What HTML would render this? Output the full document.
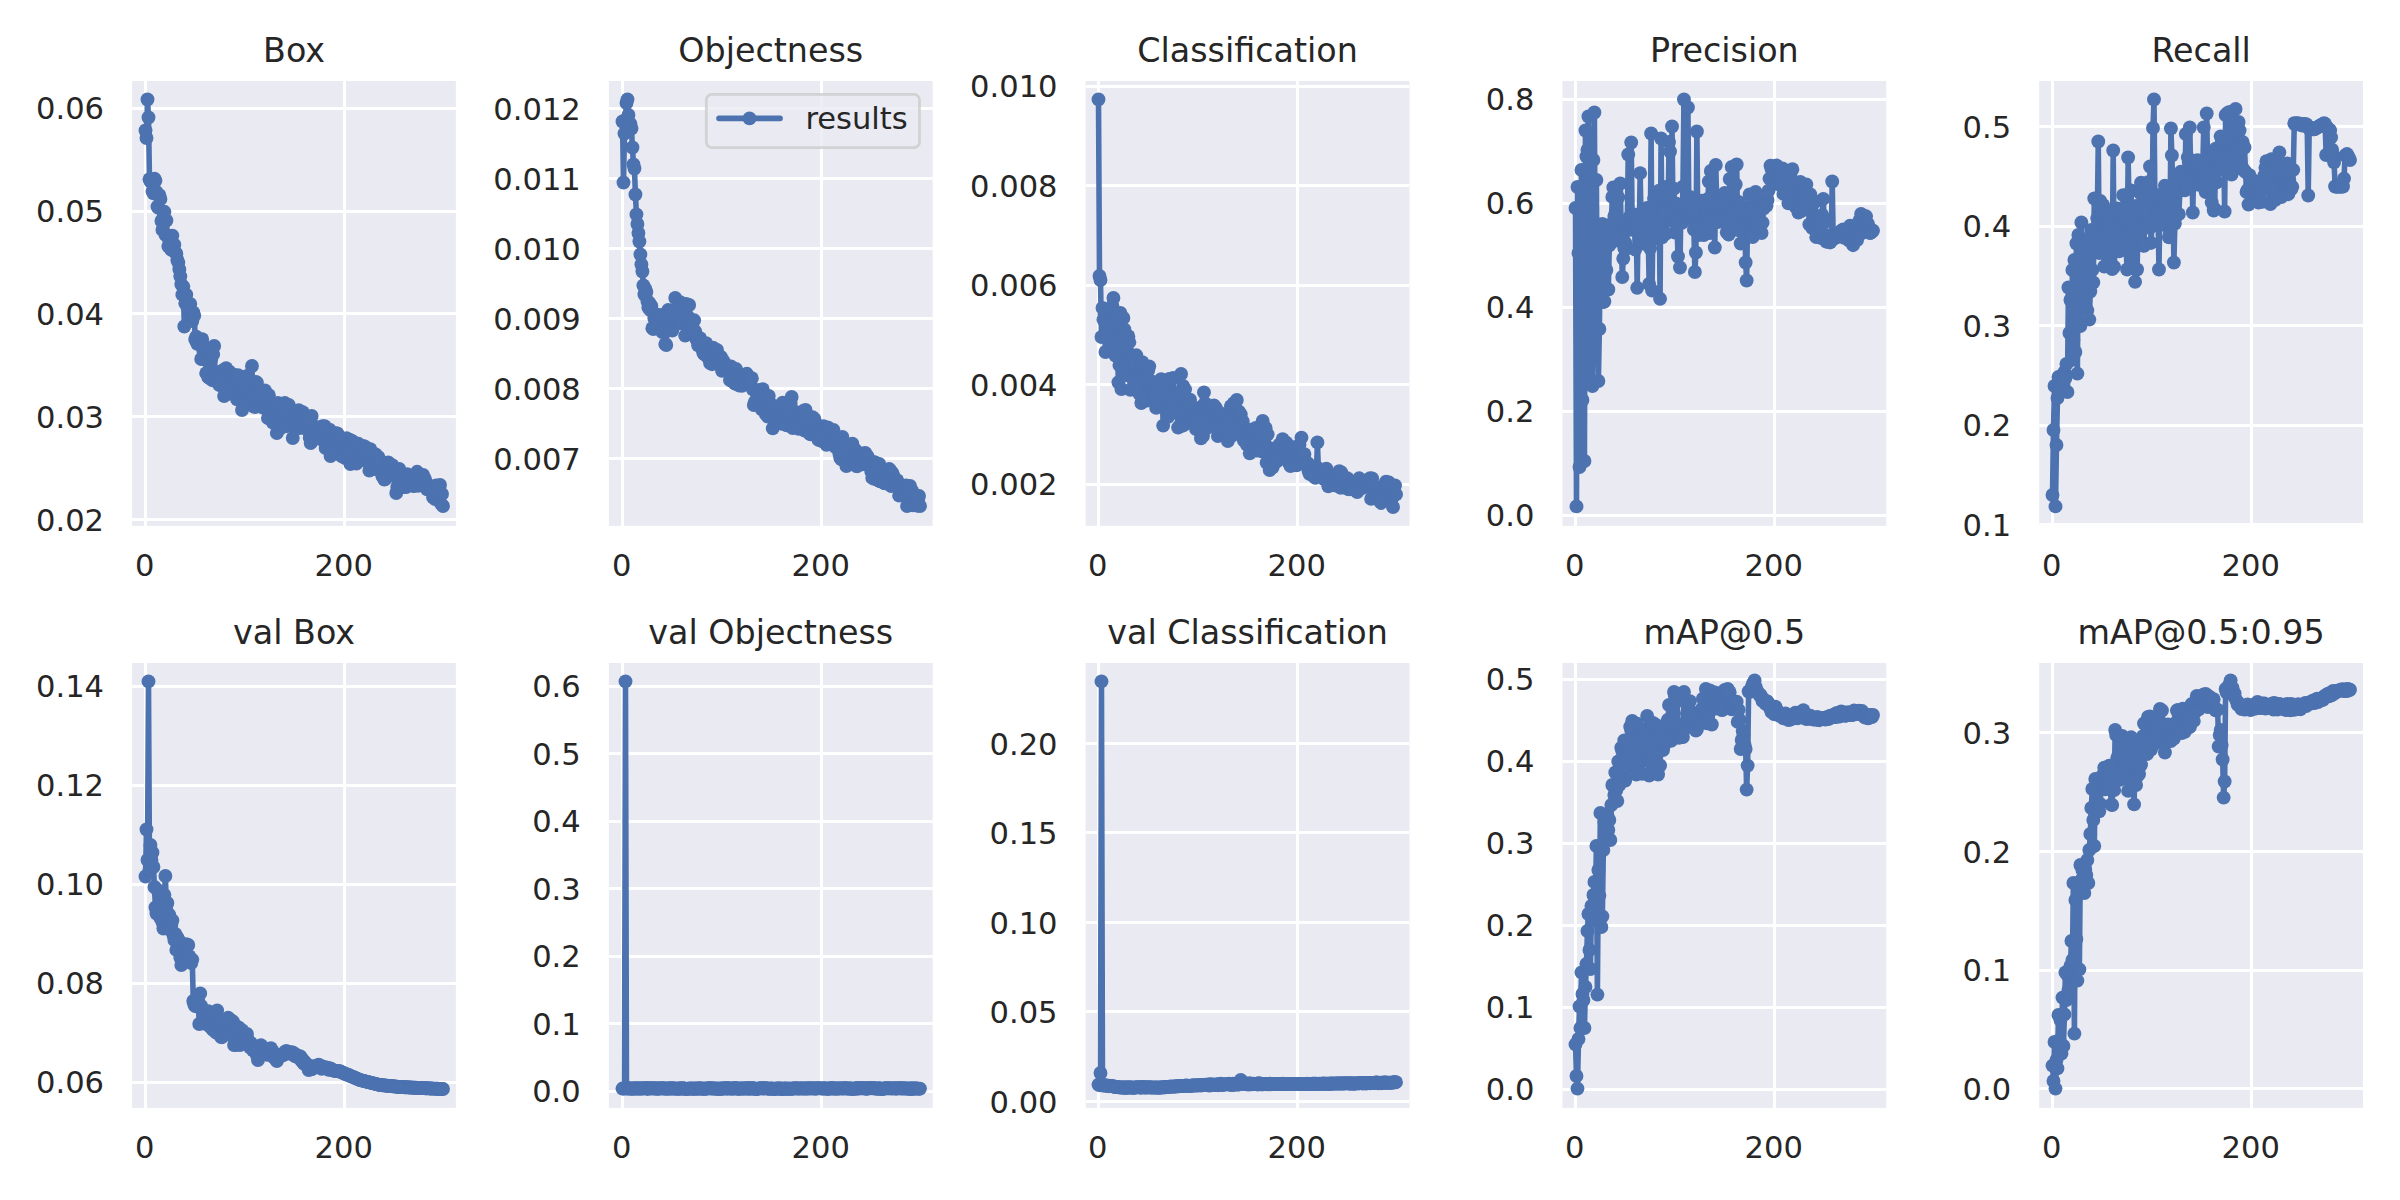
<!DOCTYPE html>
<html lang="en">
<head>
<meta charset="utf-8">
<title>results</title>
<style>
html,body{margin:0;padding:0;background:#ffffff;}
body{width:2400px;height:1200px;overflow:hidden;font-family:"DejaVu Sans","Liberation Sans",sans-serif;}
svg{display:block;}
</style>
</head>
<body>
<svg width="2400" height="1200" viewBox="0 0 2400 1200">
<rect width="2400" height="1200" fill="#ffffff"/>
<defs>
<clipPath id="c0"><rect x="132.1" y="81" width="323.8" height="444.9"/></clipPath>
<clipPath id="c1"><rect x="608.88" y="81" width="323.8" height="444.9"/></clipPath>
<clipPath id="c2"><rect x="1085.66" y="81" width="323.8" height="444.9"/></clipPath>
<clipPath id="c3"><rect x="1562.44" y="81" width="323.8" height="444.9"/></clipPath>
<clipPath id="c4"><rect x="2039.22" y="81" width="323.8" height="444.9"/></clipPath>
<clipPath id="c5"><rect x="132.1" y="663" width="323.8" height="444.9"/></clipPath>
<clipPath id="c6"><rect x="608.88" y="663" width="323.8" height="444.9"/></clipPath>
<clipPath id="c7"><rect x="1085.66" y="663" width="323.8" height="444.9"/></clipPath>
<clipPath id="c8"><rect x="1562.44" y="663" width="323.8" height="444.9"/></clipPath>
<clipPath id="c9"><rect x="2039.22" y="663" width="323.8" height="444.9"/></clipPath>
</defs>
<g>
<rect x="132.1" y="81" width="323.8" height="444.9" fill="#eaeaf2"/>
<g stroke="#ffffff" stroke-width="3" shape-rendering="crispEdges" clip-path="url(#c0)">
<line x1="145.5" y1="81" x2="145.5" y2="525.9"/>
<line x1="344.5" y1="81" x2="344.5" y2="525.9"/>
<line x1="132.1" y1="108.5" x2="455.9" y2="108.5"/>
<line x1="132.1" y1="211.5" x2="455.9" y2="211.5"/>
<line x1="132.1" y1="313.5" x2="455.9" y2="313.5"/>
<line x1="132.1" y1="416.5" x2="455.9" y2="416.5"/>
<line x1="132.1" y1="519.5" x2="455.9" y2="519.5"/>
</g>
<g font-family="'DejaVu Sans', 'Liberation Sans', sans-serif" font-size="30.56px" fill="#262626">
<text x="144.7" y="575.9" text-anchor="middle">0</text>
<text x="343.7" y="575.9" text-anchor="middle">200</text>
<text x="104" y="119" text-anchor="end">0.06</text>
<text x="104" y="222" text-anchor="end">0.05</text>
<text x="104" y="325" text-anchor="end">0.04</text>
<text x="104" y="428" text-anchor="end">0.03</text>
<text x="104" y="531" text-anchor="end">0.02</text>
</g>
<text x="294" y="61.8" text-anchor="middle" font-family="'DejaVu Sans', 'Liberation Sans', sans-serif" font-size="33.33px" fill="#262626">Box</text>
<g clip-path="url(#c0)">
<polyline fill="none" stroke="#4c72b0" stroke-width="5.56" stroke-linejoin="round" stroke-linecap="round" points="145.5,130.5 146.5,138 147.49,99.5 148.49,117.5 149.48,179.26 150.47,181.31 151.47,181.72 152.47,191.04 153.46,193.43 154.46,178.59 155.45,180.77 156.44,192 157.44,206.6 158.44,207.83 159.43,195.07 160.43,199 161.42,220.97 162.41,229.95 163.41,217.09 164.41,211.8 165.4,234.81 166.4,220.52 167.39,235.33 168.38,246.36 169.38,241.33 170.38,237.89 171.37,249.94 172.37,235.6 173.36,245.34 174.35,244.66 175.35,252.45 176.34,253.68 177.34,260.01 178.34,262.58 179.33,269.38 180.32,276.35 181.32,284.29 182.31,294.64 183.31,286.62 184.31,326.5 185.3,303.25 186.3,294.78 187.29,304.87 188.28,308.92 189.28,318.64 190.28,303.92 191.27,317.09 192.26,321.01 193.26,312.52 194.25,315.77 195.25,339.5 196.25,336.6 197.24,343.81 198.24,341.51 199.23,343.09 200.22,342.91 201.22,358.99 202.22,339.13 203.21,350.54 204.2,359.32 205.2,347.15 206.19,373.18 207.19,354.76 208.19,377 209.18,377.91 210.18,355.96 211.17,359.56 212.17,380.2 213.16,354.38 214.16,346 215.15,373.49 216.14,373.92 217.14,376.36 218.13,375.32 219.13,384.78 220.12,385 221.12,380.71 222.12,370.78 223.11,371.57 224.11,396 225.1,386.24 226.09,368.23 227.09,389.08 228.08,393.95 229.08,371.48 230.07,375.43 231.07,377.81 232.06,391.37 233.06,374.52 234.06,382.45 235.05,378.74 236.05,382.07 237.04,399.36 238.03,375.1 239.03,387.07 240.03,389.86 241.02,397.18 242.01,410 243.01,400.87 244,393.54 245,398.77 246,390.39 246.99,375.88 247.99,383.77 248.98,399.45 249.97,391.86 250.97,391.53 251.97,366 252.96,406.18 253.95,393.25 254.95,406.98 255.94,381.96 256.94,382.63 257.94,404.18 258.93,395.1 259.93,404.11 260.92,404.42 261.92,399.71 262.91,407.62 263.9,403.52 264.9,390.43 265.89,405.78 266.89,406.28 267.88,418.1 268.88,395.19 269.88,407.07 270.87,403.53 271.87,407.18 272.86,422.57 273.86,413.89 274.85,406.18 275.85,413.24 276.84,433 277.84,402.99 278.83,411.31 279.82,428.84 280.82,424.18 281.81,415.08 282.81,410.93 283.81,414.57 284.8,402.92 285.79,426.23 286.79,420.45 287.78,418.71 288.78,404.87 289.77,410.95 290.77,423.22 291.76,421.01 292.76,438 293.75,423.91 294.75,428.24 295.75,413.43 296.74,415.11 297.74,412.34 298.73,410.11 299.73,428.1 300.72,425.99 301.72,425.01 302.71,412.23 303.71,413.99 304.7,423.15 305.69,420.75 306.69,425.93 307.69,419.53 308.68,431.59 309.68,437.84 310.67,443 311.66,416 312.66,429.04 313.65,436.72 314.65,426.75 315.64,438.05 316.64,428.14 317.63,427.94 318.63,427.38 319.62,438.95 320.62,436.21 321.62,436.18 322.61,426.22 323.61,437.19 324.6,426.1 325.6,448.06 326.59,437.09 327.59,440.36 328.58,438.68 329.57,429.69 330.57,456 331.56,441.02 332.56,452.15 333.56,433.48 334.55,437.17 335.54,442.77 336.54,433.27 337.53,433.77 338.53,441.38 339.52,444.68 340.52,442.49 341.51,456.18 342.51,445.19 343.5,449.66 344.5,457.52 345.5,457.97 346.49,438.25 347.49,445.96 348.48,458.03 349.48,439.74 350.47,464 351.47,440.93 352.46,441.11 353.46,443.07 354.45,453.58 355.44,462.5 356.44,463.54 357.44,453.81 358.43,443.79 359.43,454.27 360.42,452.53 361.41,458.5 362.41,455.18 363.4,446.03 364.4,460.52 365.39,446.93 366.39,452.6 367.38,461.23 368.38,462.06 369.38,470.66 370.37,449.22 371.37,463.62 372.36,467.1 373.36,459.31 374.35,467.87 375.35,454.12 376.34,469.22 377.34,468.84 378.33,456.9 379.32,460.1 380.32,464.61 381.31,461.29 382.31,476.03 383.31,469.33 384.3,479.53 385.29,478.97 386.29,470.06 387.28,468.44 388.28,462.48 389.27,464.23 390.27,464.78 391.26,475.39 392.26,465.1 393.25,474.15 394.25,475.73 395.25,470.13 396.24,493 397.24,487 398.23,487 399.23,469.02 400.22,474.26 401.22,473.04 402.21,474.08 403.2,487 404.2,482.01 405.19,486.44 406.19,487 407.19,474.14 408.18,476.21 409.18,478.03 410.17,484.91 411.17,477.56 412.16,482.55 413.15,485.96 414.15,485.95 415.14,481.67 416.14,474.58 417.13,471.81 418.13,485.83 419.12,482.28 420.12,475.15 421.12,478.09 422.11,479.05 423.11,474.86 424.1,484.27 425.09,479.13 426.09,482.58 427.08,489.24 428.08,485.1 429.07,489.57 430.07,489.59 431.06,487.94 432.06,488.74 433.06,497.44 434.05,488.76 435.05,499.04 436.04,485.33 437.04,496.69 438.03,493.75 439.02,488.45 440.02,485.03 441.01,503.87 442.01,494 443,506"/>
<g fill="#4c72b0">
<circle cx="145.5" cy="130.5" r="6.94"/><circle cx="146.5" cy="138" r="6.94"/><circle cx="147.49" cy="99.5" r="6.94"/><circle cx="148.49" cy="117.5" r="6.94"/><circle cx="149.48" cy="179.26" r="6.94"/><circle cx="150.47" cy="181.31" r="6.94"/><circle cx="151.47" cy="181.72" r="6.94"/><circle cx="152.47" cy="191.04" r="6.94"/><circle cx="153.46" cy="193.43" r="6.94"/><circle cx="154.46" cy="178.59" r="6.94"/><circle cx="155.45" cy="180.77" r="6.94"/><circle cx="156.44" cy="192" r="6.94"/><circle cx="157.44" cy="206.6" r="6.94"/><circle cx="158.44" cy="207.83" r="6.94"/><circle cx="159.43" cy="195.07" r="6.94"/><circle cx="160.43" cy="199" r="6.94"/><circle cx="161.42" cy="220.97" r="6.94"/><circle cx="162.41" cy="229.95" r="6.94"/><circle cx="163.41" cy="217.09" r="6.94"/><circle cx="164.41" cy="211.8" r="6.94"/><circle cx="165.4" cy="234.81" r="6.94"/><circle cx="166.4" cy="220.52" r="6.94"/><circle cx="167.39" cy="235.33" r="6.94"/><circle cx="168.38" cy="246.36" r="6.94"/><circle cx="169.38" cy="241.33" r="6.94"/><circle cx="170.38" cy="237.89" r="6.94"/><circle cx="171.37" cy="249.94" r="6.94"/><circle cx="172.37" cy="235.6" r="6.94"/><circle cx="173.36" cy="245.34" r="6.94"/><circle cx="174.35" cy="244.66" r="6.94"/><circle cx="175.35" cy="252.45" r="6.94"/><circle cx="176.34" cy="253.68" r="6.94"/><circle cx="177.34" cy="260.01" r="6.94"/><circle cx="178.34" cy="262.58" r="6.94"/><circle cx="179.33" cy="269.38" r="6.94"/><circle cx="180.32" cy="276.35" r="6.94"/><circle cx="181.32" cy="284.29" r="6.94"/><circle cx="182.31" cy="294.64" r="6.94"/><circle cx="183.31" cy="286.62" r="6.94"/><circle cx="184.31" cy="326.5" r="6.94"/><circle cx="185.3" cy="303.25" r="6.94"/><circle cx="186.3" cy="294.78" r="6.94"/><circle cx="187.29" cy="304.87" r="6.94"/><circle cx="188.28" cy="308.92" r="6.94"/><circle cx="189.28" cy="318.64" r="6.94"/><circle cx="190.28" cy="303.92" r="6.94"/><circle cx="191.27" cy="317.09" r="6.94"/><circle cx="192.26" cy="321.01" r="6.94"/><circle cx="193.26" cy="312.52" r="6.94"/><circle cx="194.25" cy="315.77" r="6.94"/><circle cx="195.25" cy="339.5" r="6.94"/><circle cx="196.25" cy="336.6" r="6.94"/><circle cx="197.24" cy="343.81" r="6.94"/><circle cx="198.24" cy="341.51" r="6.94"/><circle cx="199.23" cy="343.09" r="6.94"/><circle cx="200.22" cy="342.91" r="6.94"/><circle cx="201.22" cy="358.99" r="6.94"/><circle cx="202.22" cy="339.13" r="6.94"/><circle cx="203.21" cy="350.54" r="6.94"/><circle cx="204.2" cy="359.32" r="6.94"/><circle cx="205.2" cy="347.15" r="6.94"/><circle cx="206.19" cy="373.18" r="6.94"/><circle cx="207.19" cy="354.76" r="6.94"/><circle cx="208.19" cy="377" r="6.94"/><circle cx="209.18" cy="377.91" r="6.94"/><circle cx="210.18" cy="355.96" r="6.94"/><circle cx="211.17" cy="359.56" r="6.94"/><circle cx="212.17" cy="380.2" r="6.94"/><circle cx="213.16" cy="354.38" r="6.94"/><circle cx="214.16" cy="346" r="6.94"/><circle cx="215.15" cy="373.49" r="6.94"/><circle cx="216.14" cy="373.92" r="6.94"/><circle cx="217.14" cy="376.36" r="6.94"/><circle cx="218.13" cy="375.32" r="6.94"/><circle cx="219.13" cy="384.78" r="6.94"/><circle cx="220.12" cy="385" r="6.94"/><circle cx="221.12" cy="380.71" r="6.94"/><circle cx="222.12" cy="370.78" r="6.94"/><circle cx="223.11" cy="371.57" r="6.94"/><circle cx="224.11" cy="396" r="6.94"/><circle cx="225.1" cy="386.24" r="6.94"/><circle cx="226.09" cy="368.23" r="6.94"/><circle cx="227.09" cy="389.08" r="6.94"/><circle cx="228.08" cy="393.95" r="6.94"/><circle cx="229.08" cy="371.48" r="6.94"/><circle cx="230.07" cy="375.43" r="6.94"/><circle cx="231.07" cy="377.81" r="6.94"/><circle cx="232.06" cy="391.37" r="6.94"/><circle cx="233.06" cy="374.52" r="6.94"/><circle cx="234.06" cy="382.45" r="6.94"/><circle cx="235.05" cy="378.74" r="6.94"/><circle cx="236.05" cy="382.07" r="6.94"/><circle cx="237.04" cy="399.36" r="6.94"/><circle cx="238.03" cy="375.1" r="6.94"/><circle cx="239.03" cy="387.07" r="6.94"/><circle cx="240.03" cy="389.86" r="6.94"/><circle cx="241.02" cy="397.18" r="6.94"/><circle cx="242.01" cy="410" r="6.94"/><circle cx="243.01" cy="400.87" r="6.94"/><circle cx="244" cy="393.54" r="6.94"/><circle cx="245" cy="398.77" r="6.94"/><circle cx="246" cy="390.39" r="6.94"/><circle cx="246.99" cy="375.88" r="6.94"/><circle cx="247.99" cy="383.77" r="6.94"/><circle cx="248.98" cy="399.45" r="6.94"/><circle cx="249.97" cy="391.86" r="6.94"/><circle cx="250.97" cy="391.53" r="6.94"/><circle cx="251.97" cy="366" r="6.94"/><circle cx="252.96" cy="406.18" r="6.94"/><circle cx="253.95" cy="393.25" r="6.94"/><circle cx="254.95" cy="406.98" r="6.94"/><circle cx="255.94" cy="381.96" r="6.94"/><circle cx="256.94" cy="382.63" r="6.94"/><circle cx="257.94" cy="404.18" r="6.94"/><circle cx="258.93" cy="395.1" r="6.94"/><circle cx="259.93" cy="404.11" r="6.94"/><circle cx="260.92" cy="404.42" r="6.94"/><circle cx="261.92" cy="399.71" r="6.94"/><circle cx="262.91" cy="407.62" r="6.94"/><circle cx="263.9" cy="403.52" r="6.94"/><circle cx="264.9" cy="390.43" r="6.94"/><circle cx="265.89" cy="405.78" r="6.94"/><circle cx="266.89" cy="406.28" r="6.94"/><circle cx="267.88" cy="418.1" r="6.94"/><circle cx="268.88" cy="395.19" r="6.94"/><circle cx="269.88" cy="407.07" r="6.94"/><circle cx="270.87" cy="403.53" r="6.94"/><circle cx="271.87" cy="407.18" r="6.94"/><circle cx="272.86" cy="422.57" r="6.94"/><circle cx="273.86" cy="413.89" r="6.94"/><circle cx="274.85" cy="406.18" r="6.94"/><circle cx="275.85" cy="413.24" r="6.94"/><circle cx="276.84" cy="433" r="6.94"/><circle cx="277.84" cy="402.99" r="6.94"/><circle cx="278.83" cy="411.31" r="6.94"/><circle cx="279.82" cy="428.84" r="6.94"/><circle cx="280.82" cy="424.18" r="6.94"/><circle cx="281.81" cy="415.08" r="6.94"/><circle cx="282.81" cy="410.93" r="6.94"/><circle cx="283.81" cy="414.57" r="6.94"/><circle cx="284.8" cy="402.92" r="6.94"/><circle cx="285.79" cy="426.23" r="6.94"/><circle cx="286.79" cy="420.45" r="6.94"/><circle cx="287.78" cy="418.71" r="6.94"/><circle cx="288.78" cy="404.87" r="6.94"/><circle cx="289.77" cy="410.95" r="6.94"/><circle cx="290.77" cy="423.22" r="6.94"/><circle cx="291.76" cy="421.01" r="6.94"/><circle cx="292.76" cy="438" r="6.94"/><circle cx="293.75" cy="423.91" r="6.94"/><circle cx="294.75" cy="428.24" r="6.94"/><circle cx="295.75" cy="413.43" r="6.94"/><circle cx="296.74" cy="415.11" r="6.94"/><circle cx="297.74" cy="412.34" r="6.94"/><circle cx="298.73" cy="410.11" r="6.94"/><circle cx="299.73" cy="428.1" r="6.94"/><circle cx="300.72" cy="425.99" r="6.94"/><circle cx="301.72" cy="425.01" r="6.94"/><circle cx="302.71" cy="412.23" r="6.94"/><circle cx="303.71" cy="413.99" r="6.94"/><circle cx="304.7" cy="423.15" r="6.94"/><circle cx="305.69" cy="420.75" r="6.94"/><circle cx="306.69" cy="425.93" r="6.94"/><circle cx="307.69" cy="419.53" r="6.94"/><circle cx="308.68" cy="431.59" r="6.94"/><circle cx="309.68" cy="437.84" r="6.94"/><circle cx="310.67" cy="443" r="6.94"/><circle cx="311.66" cy="416" r="6.94"/><circle cx="312.66" cy="429.04" r="6.94"/><circle cx="313.65" cy="436.72" r="6.94"/><circle cx="314.65" cy="426.75" r="6.94"/><circle cx="315.64" cy="438.05" r="6.94"/><circle cx="316.64" cy="428.14" r="6.94"/><circle cx="317.63" cy="427.94" r="6.94"/><circle cx="318.63" cy="427.38" r="6.94"/><circle cx="319.62" cy="438.95" r="6.94"/><circle cx="320.62" cy="436.21" r="6.94"/><circle cx="321.62" cy="436.18" r="6.94"/><circle cx="322.61" cy="426.22" r="6.94"/><circle cx="323.61" cy="437.19" r="6.94"/><circle cx="324.6" cy="426.1" r="6.94"/><circle cx="325.6" cy="448.06" r="6.94"/><circle cx="326.59" cy="437.09" r="6.94"/><circle cx="327.59" cy="440.36" r="6.94"/><circle cx="328.58" cy="438.68" r="6.94"/><circle cx="329.57" cy="429.69" r="6.94"/><circle cx="330.57" cy="456" r="6.94"/><circle cx="331.56" cy="441.02" r="6.94"/><circle cx="332.56" cy="452.15" r="6.94"/><circle cx="333.56" cy="433.48" r="6.94"/><circle cx="334.55" cy="437.17" r="6.94"/><circle cx="335.54" cy="442.77" r="6.94"/><circle cx="336.54" cy="433.27" r="6.94"/><circle cx="337.53" cy="433.77" r="6.94"/><circle cx="338.53" cy="441.38" r="6.94"/><circle cx="339.52" cy="444.68" r="6.94"/><circle cx="340.52" cy="442.49" r="6.94"/><circle cx="341.51" cy="456.18" r="6.94"/><circle cx="342.51" cy="445.19" r="6.94"/><circle cx="343.5" cy="449.66" r="6.94"/><circle cx="344.5" cy="457.52" r="6.94"/><circle cx="345.5" cy="457.97" r="6.94"/><circle cx="346.49" cy="438.25" r="6.94"/><circle cx="347.49" cy="445.96" r="6.94"/><circle cx="348.48" cy="458.03" r="6.94"/><circle cx="349.48" cy="439.74" r="6.94"/><circle cx="350.47" cy="464" r="6.94"/><circle cx="351.47" cy="440.93" r="6.94"/><circle cx="352.46" cy="441.11" r="6.94"/><circle cx="353.46" cy="443.07" r="6.94"/><circle cx="354.45" cy="453.58" r="6.94"/><circle cx="355.44" cy="462.5" r="6.94"/><circle cx="356.44" cy="463.54" r="6.94"/><circle cx="357.44" cy="453.81" r="6.94"/><circle cx="358.43" cy="443.79" r="6.94"/><circle cx="359.43" cy="454.27" r="6.94"/><circle cx="360.42" cy="452.53" r="6.94"/><circle cx="361.41" cy="458.5" r="6.94"/><circle cx="362.41" cy="455.18" r="6.94"/><circle cx="363.4" cy="446.03" r="6.94"/><circle cx="364.4" cy="460.52" r="6.94"/><circle cx="365.39" cy="446.93" r="6.94"/><circle cx="366.39" cy="452.6" r="6.94"/><circle cx="367.38" cy="461.23" r="6.94"/><circle cx="368.38" cy="462.06" r="6.94"/><circle cx="369.38" cy="470.66" r="6.94"/><circle cx="370.37" cy="449.22" r="6.94"/><circle cx="371.37" cy="463.62" r="6.94"/><circle cx="372.36" cy="467.1" r="6.94"/><circle cx="373.36" cy="459.31" r="6.94"/><circle cx="374.35" cy="467.87" r="6.94"/><circle cx="375.35" cy="454.12" r="6.94"/><circle cx="376.34" cy="469.22" r="6.94"/><circle cx="377.34" cy="468.84" r="6.94"/><circle cx="378.33" cy="456.9" r="6.94"/><circle cx="379.32" cy="460.1" r="6.94"/><circle cx="380.32" cy="464.61" r="6.94"/><circle cx="381.31" cy="461.29" r="6.94"/><circle cx="382.31" cy="476.03" r="6.94"/><circle cx="383.31" cy="469.33" r="6.94"/><circle cx="384.3" cy="479.53" r="6.94"/><circle cx="385.29" cy="478.97" r="6.94"/><circle cx="386.29" cy="470.06" r="6.94"/><circle cx="387.28" cy="468.44" r="6.94"/><circle cx="388.28" cy="462.48" r="6.94"/><circle cx="389.27" cy="464.23" r="6.94"/><circle cx="390.27" cy="464.78" r="6.94"/><circle cx="391.26" cy="475.39" r="6.94"/><circle cx="392.26" cy="465.1" r="6.94"/><circle cx="393.25" cy="474.15" r="6.94"/><circle cx="394.25" cy="475.73" r="6.94"/><circle cx="395.25" cy="470.13" r="6.94"/><circle cx="396.24" cy="493" r="6.94"/><circle cx="397.24" cy="487" r="6.94"/><circle cx="398.23" cy="487" r="6.94"/><circle cx="399.23" cy="469.02" r="6.94"/><circle cx="400.22" cy="474.26" r="6.94"/><circle cx="401.22" cy="473.04" r="6.94"/><circle cx="402.21" cy="474.08" r="6.94"/><circle cx="403.2" cy="487" r="6.94"/><circle cx="404.2" cy="482.01" r="6.94"/><circle cx="405.19" cy="486.44" r="6.94"/><circle cx="406.19" cy="487" r="6.94"/><circle cx="407.19" cy="474.14" r="6.94"/><circle cx="408.18" cy="476.21" r="6.94"/><circle cx="409.18" cy="478.03" r="6.94"/><circle cx="410.17" cy="484.91" r="6.94"/><circle cx="411.17" cy="477.56" r="6.94"/><circle cx="412.16" cy="482.55" r="6.94"/><circle cx="413.15" cy="485.96" r="6.94"/><circle cx="414.15" cy="485.95" r="6.94"/><circle cx="415.14" cy="481.67" r="6.94"/><circle cx="416.14" cy="474.58" r="6.94"/><circle cx="417.13" cy="471.81" r="6.94"/><circle cx="418.13" cy="485.83" r="6.94"/><circle cx="419.12" cy="482.28" r="6.94"/><circle cx="420.12" cy="475.15" r="6.94"/><circle cx="421.12" cy="478.09" r="6.94"/><circle cx="422.11" cy="479.05" r="6.94"/><circle cx="423.11" cy="474.86" r="6.94"/><circle cx="424.1" cy="484.27" r="6.94"/><circle cx="425.09" cy="479.13" r="6.94"/><circle cx="426.09" cy="482.58" r="6.94"/><circle cx="427.08" cy="489.24" r="6.94"/><circle cx="428.08" cy="485.1" r="6.94"/><circle cx="429.07" cy="489.57" r="6.94"/><circle cx="430.07" cy="489.59" r="6.94"/><circle cx="431.06" cy="487.94" r="6.94"/><circle cx="432.06" cy="488.74" r="6.94"/><circle cx="433.06" cy="497.44" r="6.94"/><circle cx="434.05" cy="488.76" r="6.94"/><circle cx="435.05" cy="499.04" r="6.94"/><circle cx="436.04" cy="485.33" r="6.94"/><circle cx="437.04" cy="496.69" r="6.94"/><circle cx="438.03" cy="493.75" r="6.94"/><circle cx="439.02" cy="488.45" r="6.94"/><circle cx="440.02" cy="485.03" r="6.94"/><circle cx="441.01" cy="503.87" r="6.94"/><circle cx="442.01" cy="494" r="6.94"/><circle cx="443" cy="506" r="6.94"/>
</g></g>
</g>
<g>
<rect x="608.88" y="81" width="323.8" height="444.9" fill="#eaeaf2"/>
<g stroke="#ffffff" stroke-width="3" shape-rendering="crispEdges" clip-path="url(#c1)">
<line x1="622.5" y1="81" x2="622.5" y2="525.9"/>
<line x1="821.5" y1="81" x2="821.5" y2="525.9"/>
<line x1="608.88" y1="108.5" x2="932.68" y2="108.5"/>
<line x1="608.88" y1="178.5" x2="932.68" y2="178.5"/>
<line x1="608.88" y1="248.5" x2="932.68" y2="248.5"/>
<line x1="608.88" y1="318.5" x2="932.68" y2="318.5"/>
<line x1="608.88" y1="388.5" x2="932.68" y2="388.5"/>
<line x1="608.88" y1="458.5" x2="932.68" y2="458.5"/>
</g>
<g font-family="'DejaVu Sans', 'Liberation Sans', sans-serif" font-size="30.56px" fill="#262626">
<text x="621.7" y="575.9" text-anchor="middle">0</text>
<text x="820.7" y="575.9" text-anchor="middle">200</text>
<text x="580.78" y="120" text-anchor="end">0.012</text>
<text x="580.78" y="190" text-anchor="end">0.011</text>
<text x="580.78" y="260" text-anchor="end">0.010</text>
<text x="580.78" y="330" text-anchor="end">0.009</text>
<text x="580.78" y="400" text-anchor="end">0.008</text>
<text x="580.78" y="470" text-anchor="end">0.007</text>
</g>
<text x="770.78" y="61.8" text-anchor="middle" font-family="'DejaVu Sans', 'Liberation Sans', sans-serif" font-size="33.33px" fill="#262626">Objectness</text>
<g clip-path="url(#c1)">
<polyline fill="none" stroke="#4c72b0" stroke-width="5.56" stroke-linejoin="round" stroke-linecap="round" points="622.5,121.5 623.5,182.5 624.49,133.5 625.49,120 626.48,103 627.48,99.5 628.47,115 629.47,125 630.46,124 631.46,128.5 632.45,147.5 633.45,164.5 634.44,168.5 635.43,194.5 636.43,214.5 637.42,224 638.42,233 639.41,241.5 640.41,254.5 641.4,264.5 642.4,271.5 643.39,285.5 644.39,294.5 645.38,289 646.38,292 647.38,301 648.37,307.5 649.37,303 650.36,310 651.36,306 652.35,328.13 653.35,329 654.34,318.29 655.34,320.04 656.33,314.4 657.33,321.18 658.32,323.98 659.32,321.59 660.31,323.89 661.3,314.88 662.3,332.11 663.29,320.32 664.29,315.89 665.28,344.12 666.28,345 667.27,322.07 668.27,309.97 669.26,329.82 670.26,311.77 671.25,314.67 672.25,330.52 673.25,326.72 674.24,310.77 675.24,298 676.23,321.91 677.23,315.83 678.22,307.09 679.22,323.35 680.21,302.2 681.21,323.02 682.2,318.92 683.2,305.26 684.19,307.55 685.18,335.62 686.18,303.91 687.17,321.25 688.17,316.95 689.16,305 690.16,325.31 691.15,333.5 692.15,333.3 693.14,328.65 694.14,320.31 695.13,331.39 696.13,338.71 697.12,340.36 698.12,345.33 699.12,340.46 700.11,338.15 701.11,341.97 702.1,347.13 703.1,352.31 704.09,354.12 705.09,354.46 706.08,343.21 707.08,349.6 708.07,357.64 709.07,357.52 710.06,363.08 711.05,347.84 712.05,364.21 713.04,347.63 714.04,354.89 715.03,358.54 716.03,355.74 717.02,350 718.02,357.45 719.01,359.77 720.01,364.48 721,356.99 722,370.79 723,360.36 723.99,368.45 724.99,367.34 725.98,364.75 726.98,368.87 727.97,371.16 728.97,367.65 729.96,380.01 730.96,366.45 731.95,373.64 732.94,381.62 733.94,378.92 734.93,383.59 735.93,368.93 736.92,376.66 737.92,378.42 738.91,385.45 739.91,373.89 740.9,378.2 741.9,385.82 742.89,380.55 743.89,380.8 744.88,378.61 745.88,384.01 746.88,373.79 747.87,377.66 748.87,380.07 749.86,385.12 750.86,385.81 751.85,378.27 752.85,389.31 753.84,405 754.84,401.79 755.83,390.69 756.83,402.01 757.82,390.41 758.82,393.78 759.81,389.86 760.81,404.47 761.8,409.38 762.79,389.16 763.79,404.8 764.78,408 765.78,414.14 766.77,399.37 767.77,416.61 768.76,395.9 769.76,409.41 770.75,404.15 771.75,406.5 772.75,428.4 773.74,414.57 774.74,420.89 775.73,410.91 776.73,406.47 777.72,421.52 778.72,415.22 779.71,410.85 780.71,423.24 781.7,423.57 782.69,402.78 783.69,411.19 784.68,424.03 785.68,407.74 786.67,425.22 787.67,413.07 788.66,418.17 789.66,415.94 790.65,403.49 791.65,397 792.64,428 793.64,411 794.63,426.13 795.63,422.47 796.62,414.57 797.62,419.76 798.62,428.89 799.61,418.03 800.61,415.4 801.6,425.44 802.6,415.32 803.59,410.71 804.59,430.6 805.58,410 806.58,423.34 807.57,426.21 808.57,421.69 809.56,433.54 810.56,434.25 811.55,429.4 812.54,417.28 813.54,430.8 814.53,419.14 815.53,433.52 816.52,436.06 817.52,433.64 818.51,439.94 819.51,434.54 820.5,428.82 821.5,431.89 822.5,441.44 823.49,426.16 824.49,437.11 825.48,427.96 826.48,444.78 827.47,427.49 828.47,427.82 829.46,443.27 830.46,443.31 831.45,432.76 832.44,437.06 833.44,430.03 834.43,438.47 835.43,446.98 836.42,443.93 837.42,442.19 838.41,438.87 839.41,453.89 840.4,458.21 841.4,459.41 842.39,436.92 843.39,451.23 844.38,443.13 845.38,448.57 846.38,466 847.37,465.14 848.37,456.41 849.36,454.19 850.36,450.26 851.35,459.8 852.35,443.68 853.34,461.3 854.34,462.88 855.33,449.79 856.33,466.09 857.32,466.19 858.32,452.75 859.31,463.34 860.31,455.72 861.3,454.96 862.29,464.22 863.29,461.73 864.28,453.47 865.28,453 866.27,463.73 867.27,455.97 868.26,458.05 869.26,465.76 870.25,465.56 871.25,471.71 872.25,477.95 873.24,462.04 874.24,478.78 875.23,462.34 876.23,471.88 877.22,478.71 878.22,480.46 879.21,463.85 880.2,481.3 881.2,473.37 882.19,475.39 883.19,478.21 884.18,482.97 885.18,483.39 886.17,478.77 887.17,473.24 888.16,472.66 889.16,469 890.15,470.32 891.15,486.17 892.14,472.59 893.14,474.89 894.13,479.84 895.13,480.21 896.12,480.22 897.12,480.09 898.12,483.27 899.11,495.67 900.11,492.79 901.1,490.03 902.1,485.5 903.09,491.52 904.09,493.27 905.08,486.61 906.08,485.4 907.07,506 908.07,489.43 909.06,489.84 910.06,486 911.05,495.81 912.05,490.59 913.04,505.3 914.04,499.59 915.03,497.47 916.02,502.56 917.02,505.7 918.01,500.12 919.01,496 920,506"/>
<g fill="#4c72b0">
<circle cx="622.5" cy="121.5" r="6.94"/><circle cx="623.5" cy="182.5" r="6.94"/><circle cx="624.49" cy="133.5" r="6.94"/><circle cx="625.49" cy="120" r="6.94"/><circle cx="626.48" cy="103" r="6.94"/><circle cx="627.48" cy="99.5" r="6.94"/><circle cx="628.47" cy="115" r="6.94"/><circle cx="629.47" cy="125" r="6.94"/><circle cx="630.46" cy="124" r="6.94"/><circle cx="631.46" cy="128.5" r="6.94"/><circle cx="632.45" cy="147.5" r="6.94"/><circle cx="633.45" cy="164.5" r="6.94"/><circle cx="634.44" cy="168.5" r="6.94"/><circle cx="635.43" cy="194.5" r="6.94"/><circle cx="636.43" cy="214.5" r="6.94"/><circle cx="637.42" cy="224" r="6.94"/><circle cx="638.42" cy="233" r="6.94"/><circle cx="639.41" cy="241.5" r="6.94"/><circle cx="640.41" cy="254.5" r="6.94"/><circle cx="641.4" cy="264.5" r="6.94"/><circle cx="642.4" cy="271.5" r="6.94"/><circle cx="643.39" cy="285.5" r="6.94"/><circle cx="644.39" cy="294.5" r="6.94"/><circle cx="645.38" cy="289" r="6.94"/><circle cx="646.38" cy="292" r="6.94"/><circle cx="647.38" cy="301" r="6.94"/><circle cx="648.37" cy="307.5" r="6.94"/><circle cx="649.37" cy="303" r="6.94"/><circle cx="650.36" cy="310" r="6.94"/><circle cx="651.36" cy="306" r="6.94"/><circle cx="652.35" cy="328.13" r="6.94"/><circle cx="653.35" cy="329" r="6.94"/><circle cx="654.34" cy="318.29" r="6.94"/><circle cx="655.34" cy="320.04" r="6.94"/><circle cx="656.33" cy="314.4" r="6.94"/><circle cx="657.33" cy="321.18" r="6.94"/><circle cx="658.32" cy="323.98" r="6.94"/><circle cx="659.32" cy="321.59" r="6.94"/><circle cx="660.31" cy="323.89" r="6.94"/><circle cx="661.3" cy="314.88" r="6.94"/><circle cx="662.3" cy="332.11" r="6.94"/><circle cx="663.29" cy="320.32" r="6.94"/><circle cx="664.29" cy="315.89" r="6.94"/><circle cx="665.28" cy="344.12" r="6.94"/><circle cx="666.28" cy="345" r="6.94"/><circle cx="667.27" cy="322.07" r="6.94"/><circle cx="668.27" cy="309.97" r="6.94"/><circle cx="669.26" cy="329.82" r="6.94"/><circle cx="670.26" cy="311.77" r="6.94"/><circle cx="671.25" cy="314.67" r="6.94"/><circle cx="672.25" cy="330.52" r="6.94"/><circle cx="673.25" cy="326.72" r="6.94"/><circle cx="674.24" cy="310.77" r="6.94"/><circle cx="675.24" cy="298" r="6.94"/><circle cx="676.23" cy="321.91" r="6.94"/><circle cx="677.23" cy="315.83" r="6.94"/><circle cx="678.22" cy="307.09" r="6.94"/><circle cx="679.22" cy="323.35" r="6.94"/><circle cx="680.21" cy="302.2" r="6.94"/><circle cx="681.21" cy="323.02" r="6.94"/><circle cx="682.2" cy="318.92" r="6.94"/><circle cx="683.2" cy="305.26" r="6.94"/><circle cx="684.19" cy="307.55" r="6.94"/><circle cx="685.18" cy="335.62" r="6.94"/><circle cx="686.18" cy="303.91" r="6.94"/><circle cx="687.17" cy="321.25" r="6.94"/><circle cx="688.17" cy="316.95" r="6.94"/><circle cx="689.16" cy="305" r="6.94"/><circle cx="690.16" cy="325.31" r="6.94"/><circle cx="691.15" cy="333.5" r="6.94"/><circle cx="692.15" cy="333.3" r="6.94"/><circle cx="693.14" cy="328.65" r="6.94"/><circle cx="694.14" cy="320.31" r="6.94"/><circle cx="695.13" cy="331.39" r="6.94"/><circle cx="696.13" cy="338.71" r="6.94"/><circle cx="697.12" cy="340.36" r="6.94"/><circle cx="698.12" cy="345.33" r="6.94"/><circle cx="699.12" cy="340.46" r="6.94"/><circle cx="700.11" cy="338.15" r="6.94"/><circle cx="701.11" cy="341.97" r="6.94"/><circle cx="702.1" cy="347.13" r="6.94"/><circle cx="703.1" cy="352.31" r="6.94"/><circle cx="704.09" cy="354.12" r="6.94"/><circle cx="705.09" cy="354.46" r="6.94"/><circle cx="706.08" cy="343.21" r="6.94"/><circle cx="707.08" cy="349.6" r="6.94"/><circle cx="708.07" cy="357.64" r="6.94"/><circle cx="709.07" cy="357.52" r="6.94"/><circle cx="710.06" cy="363.08" r="6.94"/><circle cx="711.05" cy="347.84" r="6.94"/><circle cx="712.05" cy="364.21" r="6.94"/><circle cx="713.04" cy="347.63" r="6.94"/><circle cx="714.04" cy="354.89" r="6.94"/><circle cx="715.03" cy="358.54" r="6.94"/><circle cx="716.03" cy="355.74" r="6.94"/><circle cx="717.02" cy="350" r="6.94"/><circle cx="718.02" cy="357.45" r="6.94"/><circle cx="719.01" cy="359.77" r="6.94"/><circle cx="720.01" cy="364.48" r="6.94"/><circle cx="721" cy="356.99" r="6.94"/><circle cx="722" cy="370.79" r="6.94"/><circle cx="723" cy="360.36" r="6.94"/><circle cx="723.99" cy="368.45" r="6.94"/><circle cx="724.99" cy="367.34" r="6.94"/><circle cx="725.98" cy="364.75" r="6.94"/><circle cx="726.98" cy="368.87" r="6.94"/><circle cx="727.97" cy="371.16" r="6.94"/><circle cx="728.97" cy="367.65" r="6.94"/><circle cx="729.96" cy="380.01" r="6.94"/><circle cx="730.96" cy="366.45" r="6.94"/><circle cx="731.95" cy="373.64" r="6.94"/><circle cx="732.94" cy="381.62" r="6.94"/><circle cx="733.94" cy="378.92" r="6.94"/><circle cx="734.93" cy="383.59" r="6.94"/><circle cx="735.93" cy="368.93" r="6.94"/><circle cx="736.92" cy="376.66" r="6.94"/><circle cx="737.92" cy="378.42" r="6.94"/><circle cx="738.91" cy="385.45" r="6.94"/><circle cx="739.91" cy="373.89" r="6.94"/><circle cx="740.9" cy="378.2" r="6.94"/><circle cx="741.9" cy="385.82" r="6.94"/><circle cx="742.89" cy="380.55" r="6.94"/><circle cx="743.89" cy="380.8" r="6.94"/><circle cx="744.88" cy="378.61" r="6.94"/><circle cx="745.88" cy="384.01" r="6.94"/><circle cx="746.88" cy="373.79" r="6.94"/><circle cx="747.87" cy="377.66" r="6.94"/><circle cx="748.87" cy="380.07" r="6.94"/><circle cx="749.86" cy="385.12" r="6.94"/><circle cx="750.86" cy="385.81" r="6.94"/><circle cx="751.85" cy="378.27" r="6.94"/><circle cx="752.85" cy="389.31" r="6.94"/><circle cx="753.84" cy="405" r="6.94"/><circle cx="754.84" cy="401.79" r="6.94"/><circle cx="755.83" cy="390.69" r="6.94"/><circle cx="756.83" cy="402.01" r="6.94"/><circle cx="757.82" cy="390.41" r="6.94"/><circle cx="758.82" cy="393.78" r="6.94"/><circle cx="759.81" cy="389.86" r="6.94"/><circle cx="760.81" cy="404.47" r="6.94"/><circle cx="761.8" cy="409.38" r="6.94"/><circle cx="762.79" cy="389.16" r="6.94"/><circle cx="763.79" cy="404.8" r="6.94"/><circle cx="764.78" cy="408" r="6.94"/><circle cx="765.78" cy="414.14" r="6.94"/><circle cx="766.77" cy="399.37" r="6.94"/><circle cx="767.77" cy="416.61" r="6.94"/><circle cx="768.76" cy="395.9" r="6.94"/><circle cx="769.76" cy="409.41" r="6.94"/><circle cx="770.75" cy="404.15" r="6.94"/><circle cx="771.75" cy="406.5" r="6.94"/><circle cx="772.75" cy="428.4" r="6.94"/><circle cx="773.74" cy="414.57" r="6.94"/><circle cx="774.74" cy="420.89" r="6.94"/><circle cx="775.73" cy="410.91" r="6.94"/><circle cx="776.73" cy="406.47" r="6.94"/><circle cx="777.72" cy="421.52" r="6.94"/><circle cx="778.72" cy="415.22" r="6.94"/><circle cx="779.71" cy="410.85" r="6.94"/><circle cx="780.71" cy="423.24" r="6.94"/><circle cx="781.7" cy="423.57" r="6.94"/><circle cx="782.69" cy="402.78" r="6.94"/><circle cx="783.69" cy="411.19" r="6.94"/><circle cx="784.68" cy="424.03" r="6.94"/><circle cx="785.68" cy="407.74" r="6.94"/><circle cx="786.67" cy="425.22" r="6.94"/><circle cx="787.67" cy="413.07" r="6.94"/><circle cx="788.66" cy="418.17" r="6.94"/><circle cx="789.66" cy="415.94" r="6.94"/><circle cx="790.65" cy="403.49" r="6.94"/><circle cx="791.65" cy="397" r="6.94"/><circle cx="792.64" cy="428" r="6.94"/><circle cx="793.64" cy="411" r="6.94"/><circle cx="794.63" cy="426.13" r="6.94"/><circle cx="795.63" cy="422.47" r="6.94"/><circle cx="796.62" cy="414.57" r="6.94"/><circle cx="797.62" cy="419.76" r="6.94"/><circle cx="798.62" cy="428.89" r="6.94"/><circle cx="799.61" cy="418.03" r="6.94"/><circle cx="800.61" cy="415.4" r="6.94"/><circle cx="801.6" cy="425.44" r="6.94"/><circle cx="802.6" cy="415.32" r="6.94"/><circle cx="803.59" cy="410.71" r="6.94"/><circle cx="804.59" cy="430.6" r="6.94"/><circle cx="805.58" cy="410" r="6.94"/><circle cx="806.58" cy="423.34" r="6.94"/><circle cx="807.57" cy="426.21" r="6.94"/><circle cx="808.57" cy="421.69" r="6.94"/><circle cx="809.56" cy="433.54" r="6.94"/><circle cx="810.56" cy="434.25" r="6.94"/><circle cx="811.55" cy="429.4" r="6.94"/><circle cx="812.54" cy="417.28" r="6.94"/><circle cx="813.54" cy="430.8" r="6.94"/><circle cx="814.53" cy="419.14" r="6.94"/><circle cx="815.53" cy="433.52" r="6.94"/><circle cx="816.52" cy="436.06" r="6.94"/><circle cx="817.52" cy="433.64" r="6.94"/><circle cx="818.51" cy="439.94" r="6.94"/><circle cx="819.51" cy="434.54" r="6.94"/><circle cx="820.5" cy="428.82" r="6.94"/><circle cx="821.5" cy="431.89" r="6.94"/><circle cx="822.5" cy="441.44" r="6.94"/><circle cx="823.49" cy="426.16" r="6.94"/><circle cx="824.49" cy="437.11" r="6.94"/><circle cx="825.48" cy="427.96" r="6.94"/><circle cx="826.48" cy="444.78" r="6.94"/><circle cx="827.47" cy="427.49" r="6.94"/><circle cx="828.47" cy="427.82" r="6.94"/><circle cx="829.46" cy="443.27" r="6.94"/><circle cx="830.46" cy="443.31" r="6.94"/><circle cx="831.45" cy="432.76" r="6.94"/><circle cx="832.44" cy="437.06" r="6.94"/><circle cx="833.44" cy="430.03" r="6.94"/><circle cx="834.43" cy="438.47" r="6.94"/><circle cx="835.43" cy="446.98" r="6.94"/><circle cx="836.42" cy="443.93" r="6.94"/><circle cx="837.42" cy="442.19" r="6.94"/><circle cx="838.41" cy="438.87" r="6.94"/><circle cx="839.41" cy="453.89" r="6.94"/><circle cx="840.4" cy="458.21" r="6.94"/><circle cx="841.4" cy="459.41" r="6.94"/><circle cx="842.39" cy="436.92" r="6.94"/><circle cx="843.39" cy="451.23" r="6.94"/><circle cx="844.38" cy="443.13" r="6.94"/><circle cx="845.38" cy="448.57" r="6.94"/><circle cx="846.38" cy="466" r="6.94"/><circle cx="847.37" cy="465.14" r="6.94"/><circle cx="848.37" cy="456.41" r="6.94"/><circle cx="849.36" cy="454.19" r="6.94"/><circle cx="850.36" cy="450.26" r="6.94"/><circle cx="851.35" cy="459.8" r="6.94"/><circle cx="852.35" cy="443.68" r="6.94"/><circle cx="853.34" cy="461.3" r="6.94"/><circle cx="854.34" cy="462.88" r="6.94"/><circle cx="855.33" cy="449.79" r="6.94"/><circle cx="856.33" cy="466.09" r="6.94"/><circle cx="857.32" cy="466.19" r="6.94"/><circle cx="858.32" cy="452.75" r="6.94"/><circle cx="859.31" cy="463.34" r="6.94"/><circle cx="860.31" cy="455.72" r="6.94"/><circle cx="861.3" cy="454.96" r="6.94"/><circle cx="862.29" cy="464.22" r="6.94"/><circle cx="863.29" cy="461.73" r="6.94"/><circle cx="864.28" cy="453.47" r="6.94"/><circle cx="865.28" cy="453" r="6.94"/><circle cx="866.27" cy="463.73" r="6.94"/><circle cx="867.27" cy="455.97" r="6.94"/><circle cx="868.26" cy="458.05" r="6.94"/><circle cx="869.26" cy="465.76" r="6.94"/><circle cx="870.25" cy="465.56" r="6.94"/><circle cx="871.25" cy="471.71" r="6.94"/><circle cx="872.25" cy="477.95" r="6.94"/><circle cx="873.24" cy="462.04" r="6.94"/><circle cx="874.24" cy="478.78" r="6.94"/><circle cx="875.23" cy="462.34" r="6.94"/><circle cx="876.23" cy="471.88" r="6.94"/><circle cx="877.22" cy="478.71" r="6.94"/><circle cx="878.22" cy="480.46" r="6.94"/><circle cx="879.21" cy="463.85" r="6.94"/><circle cx="880.2" cy="481.3" r="6.94"/><circle cx="881.2" cy="473.37" r="6.94"/><circle cx="882.19" cy="475.39" r="6.94"/><circle cx="883.19" cy="478.21" r="6.94"/><circle cx="884.18" cy="482.97" r="6.94"/><circle cx="885.18" cy="483.39" r="6.94"/><circle cx="886.17" cy="478.77" r="6.94"/><circle cx="887.17" cy="473.24" r="6.94"/><circle cx="888.16" cy="472.66" r="6.94"/><circle cx="889.16" cy="469" r="6.94"/><circle cx="890.15" cy="470.32" r="6.94"/><circle cx="891.15" cy="486.17" r="6.94"/><circle cx="892.14" cy="472.59" r="6.94"/><circle cx="893.14" cy="474.89" r="6.94"/><circle cx="894.13" cy="479.84" r="6.94"/><circle cx="895.13" cy="480.21" r="6.94"/><circle cx="896.12" cy="480.22" r="6.94"/><circle cx="897.12" cy="480.09" r="6.94"/><circle cx="898.12" cy="483.27" r="6.94"/><circle cx="899.11" cy="495.67" r="6.94"/><circle cx="900.11" cy="492.79" r="6.94"/><circle cx="901.1" cy="490.03" r="6.94"/><circle cx="902.1" cy="485.5" r="6.94"/><circle cx="903.09" cy="491.52" r="6.94"/><circle cx="904.09" cy="493.27" r="6.94"/><circle cx="905.08" cy="486.61" r="6.94"/><circle cx="906.08" cy="485.4" r="6.94"/><circle cx="907.07" cy="506" r="6.94"/><circle cx="908.07" cy="489.43" r="6.94"/><circle cx="909.06" cy="489.84" r="6.94"/><circle cx="910.06" cy="486" r="6.94"/><circle cx="911.05" cy="495.81" r="6.94"/><circle cx="912.05" cy="490.59" r="6.94"/><circle cx="913.04" cy="505.3" r="6.94"/><circle cx="914.04" cy="499.59" r="6.94"/><circle cx="915.03" cy="497.47" r="6.94"/><circle cx="916.02" cy="502.56" r="6.94"/><circle cx="917.02" cy="505.7" r="6.94"/><circle cx="918.01" cy="500.12" r="6.94"/><circle cx="919.01" cy="496" r="6.94"/><circle cx="920" cy="506" r="6.94"/>
</g></g>
<rect x="706.3" y="94.4" width="213.2" height="53.2" rx="5.6" ry="5.6" fill="#eaeaf2" fill-opacity="0.8" stroke="#cccccc" stroke-opacity="0.8" stroke-width="2.78"/>
<line x1="719" y1="118.4" x2="780.1" y2="118.4" stroke="#4c72b0" stroke-width="5.56" stroke-linecap="round"/>
<circle cx="749.55" cy="118.4" r="6.94" fill="#4c72b0"/>
<text x="805.4" y="129" font-family="'DejaVu Sans', 'Liberation Sans', sans-serif" font-size="30.56px" fill="#262626">results</text>
</g>
<g>
<rect x="1085.66" y="81" width="323.8" height="444.9" fill="#eaeaf2"/>
<g stroke="#ffffff" stroke-width="3" shape-rendering="crispEdges" clip-path="url(#c2)">
<line x1="1098.5" y1="81" x2="1098.5" y2="525.9"/>
<line x1="1297.5" y1="81" x2="1297.5" y2="525.9"/>
<line x1="1085.66" y1="86.5" x2="1409.46" y2="86.5"/>
<line x1="1085.66" y1="185.5" x2="1409.46" y2="185.5"/>
<line x1="1085.66" y1="285.5" x2="1409.46" y2="285.5"/>
<line x1="1085.66" y1="384.5" x2="1409.46" y2="384.5"/>
<line x1="1085.66" y1="484.5" x2="1409.46" y2="484.5"/>
</g>
<g font-family="'DejaVu Sans', 'Liberation Sans', sans-serif" font-size="30.56px" fill="#262626">
<text x="1097.7" y="575.9" text-anchor="middle">0</text>
<text x="1296.7" y="575.9" text-anchor="middle">200</text>
<text x="1057.56" y="97" text-anchor="end">0.010</text>
<text x="1057.56" y="197" text-anchor="end">0.008</text>
<text x="1057.56" y="296" text-anchor="end">0.006</text>
<text x="1057.56" y="396" text-anchor="end">0.004</text>
<text x="1057.56" y="495" text-anchor="end">0.002</text>
</g>
<text x="1247.56" y="61.8" text-anchor="middle" font-family="'DejaVu Sans', 'Liberation Sans', sans-serif" font-size="33.33px" fill="#262626">Classification</text>
<g clip-path="url(#c2)">
<polyline fill="none" stroke="#4c72b0" stroke-width="5.56" stroke-linejoin="round" stroke-linecap="round" points="1098.5,99.4 1099.49,276 1100.49,280 1101.48,337 1102.48,307.94 1103.47,319.78 1104.47,314.14 1105.46,352 1106.46,318.6 1107.45,330.8 1108.45,318.75 1109.44,311.48 1110.44,325.98 1111.43,349.95 1112.43,305.99 1113.42,297.91 1114.42,313.03 1115.41,355.7 1116.41,316.7 1117.4,350.66 1118.4,382.29 1119.39,365.12 1120.39,312.91 1121.38,389 1122.38,338.32 1123.38,318 1124.37,329.45 1125.37,361.68 1126.36,375.15 1127.36,350.92 1128.35,336.21 1129.35,342.18 1130.34,389.82 1131.34,362.83 1132.33,356.43 1133.33,379.74 1134.32,358.13 1135.32,364.49 1136.31,355.29 1137.31,377 1138.3,373.52 1139.3,393.73 1140.29,373.58 1141.29,403 1142.28,362.27 1143.28,384.46 1144.27,369.16 1145.27,378.89 1146.26,373.43 1147.26,400.58 1148.25,370.61 1149.24,366.39 1150.24,385.16 1151.23,382.12 1152.23,381.69 1153.22,396.57 1154.22,395.95 1155.21,395.45 1156.21,407.91 1157.2,384.23 1158.2,404.13 1159.19,386.91 1160.19,399.13 1161.18,379.07 1162.18,389.41 1163.17,425.6 1164.17,407.3 1165.16,396.18 1166.16,384.74 1167.15,409.53 1168.15,416.72 1169.14,378.95 1170.14,399.19 1171.13,404.91 1172.13,403.91 1173.12,377.99 1174.12,403.27 1175.12,400.75 1176.11,395.19 1177.11,412.8 1178.1,427.6 1179.1,393.43 1180.09,425.34 1181.09,374 1182.08,425.9 1183.08,385.94 1184.07,424.94 1185.07,389.34 1186.06,413.27 1187.06,418.02 1188.05,399.92 1189.05,417.23 1190.04,399.74 1191.04,405.39 1192.03,413.11 1193.03,413.21 1194.02,417.02 1195.02,419.13 1196.01,429.01 1197.01,423 1198,414.76 1198.99,413.55 1199.99,413.75 1200.98,438.4 1201.98,406.44 1202.97,435.97 1203.97,392.4 1204.96,403.15 1205.96,405.81 1206.95,428.09 1207.95,422.03 1208.94,410.28 1209.94,407.67 1210.93,408.87 1211.93,424.14 1212.92,416.74 1213.92,405.4 1214.91,425.82 1215.91,407.89 1216.9,416.12 1217.9,435.97 1218.89,429.8 1219.89,412.86 1220.88,418.39 1221.88,416.34 1222.88,431.41 1223.87,426.18 1224.87,435.11 1225.86,429.17 1226.86,428.3 1227.85,441 1228.85,416.69 1229.84,416.32 1230.84,406.11 1231.83,435.76 1232.83,424.95 1233.82,403.24 1234.82,431.2 1235.81,409.01 1236.81,400 1237.8,414.11 1238.8,411.5 1239.79,414.07 1240.79,414.46 1241.78,424.65 1242.78,421.53 1243.77,440.46 1244.76,432.93 1245.76,440.04 1246.76,444.6 1247.75,432.85 1248.74,431.11 1249.74,453.23 1250.73,429.74 1251.73,433.48 1252.72,444.04 1253.72,443.49 1254.71,436.4 1255.71,427.94 1256.7,450.51 1257.7,444.75 1258.69,438.04 1259.69,437.14 1260.68,447.43 1261.68,451.42 1262.67,421 1263.67,441.5 1264.66,450.21 1265.66,427.95 1266.65,462.73 1267.65,434.35 1268.64,447.52 1269.64,470 1270.63,449.85 1271.63,465.11 1272.62,467.43 1273.62,450.76 1274.62,457.65 1275.61,455.68 1276.61,461.64 1277.6,448.21 1278.6,446.17 1279.59,444.47 1280.59,448.72 1281.58,458.46 1282.58,439.24 1283.57,457.52 1284.57,450.37 1285.56,450.21 1286.56,442.8 1287.55,448.25 1288.55,462.34 1289.54,453.35 1290.54,466.16 1291.53,450.77 1292.53,447.11 1293.52,458.46 1294.51,447.74 1295.51,460.21 1296.51,465.29 1297.5,460.3 1298.49,455.68 1299.49,444.83 1300.48,460.99 1301.48,437.6 1302.47,454.42 1303.47,457.16 1304.46,454.08 1305.46,464.21 1306.45,464.1 1307.45,462.98 1308.44,470.77 1309.44,473.78 1310.43,472.14 1311.43,469.11 1312.42,466.15 1313.42,476.01 1314.41,468.26 1315.41,477.75 1316.4,472.54 1317.4,442.4 1318.39,468.49 1319.39,469.17 1320.38,474.39 1321.38,474.58 1322.38,472.66 1323.37,474.5 1324.37,479.23 1325.36,476.02 1326.36,468.78 1327.35,472.87 1328.35,486.24 1329.34,476.46 1330.34,479.53 1331.33,478.71 1332.33,478.59 1333.32,479.88 1334.32,485.22 1335.31,480.08 1336.31,477.57 1337.3,480.14 1338.3,482.66 1339.29,471.14 1340.29,487.69 1341.28,472.39 1342.28,480.99 1343.27,487.52 1344.26,484.54 1345.26,486.34 1346.26,483.68 1347.25,478.27 1348.24,489.08 1349.24,489.41 1350.23,485.89 1351.23,484.26 1352.22,484 1353.22,484.27 1354.21,483.82 1355.21,490.24 1356.2,481.43 1357.2,492.07 1358.19,480.97 1359.19,478.29 1360.18,483.54 1361.18,486.74 1362.17,484.5 1363.17,487.88 1364.16,484.47 1365.16,483.5 1366.15,485.41 1367.15,481.06 1368.14,483.5 1369.14,485.64 1370.13,478.19 1371.13,498.89 1372.12,478.43 1373.12,487.48 1374.12,492.74 1375.11,490.54 1376.11,498.57 1377.1,492.94 1378.1,487.42 1379.09,493.84 1380.09,498.58 1381.08,502.96 1382.08,491.33 1383.07,498.76 1384.07,493.64 1385.06,484.11 1386.06,481.66 1387.05,487.76 1388.05,485.47 1389.04,482.54 1390.04,494.81 1391.03,499.38 1392.03,497.88 1393.02,507 1394.01,488.69 1395.01,485.51 1396.01,494.43"/>
<g fill="#4c72b0">
<circle cx="1098.5" cy="99.4" r="6.94"/><circle cx="1099.49" cy="276" r="6.94"/><circle cx="1100.49" cy="280" r="6.94"/><circle cx="1101.48" cy="337" r="6.94"/><circle cx="1102.48" cy="307.94" r="6.94"/><circle cx="1103.47" cy="319.78" r="6.94"/><circle cx="1104.47" cy="314.14" r="6.94"/><circle cx="1105.46" cy="352" r="6.94"/><circle cx="1106.46" cy="318.6" r="6.94"/><circle cx="1107.45" cy="330.8" r="6.94"/><circle cx="1108.45" cy="318.75" r="6.94"/><circle cx="1109.44" cy="311.48" r="6.94"/><circle cx="1110.44" cy="325.98" r="6.94"/><circle cx="1111.43" cy="349.95" r="6.94"/><circle cx="1112.43" cy="305.99" r="6.94"/><circle cx="1113.42" cy="297.91" r="6.94"/><circle cx="1114.42" cy="313.03" r="6.94"/><circle cx="1115.41" cy="355.7" r="6.94"/><circle cx="1116.41" cy="316.7" r="6.94"/><circle cx="1117.4" cy="350.66" r="6.94"/><circle cx="1118.4" cy="382.29" r="6.94"/><circle cx="1119.39" cy="365.12" r="6.94"/><circle cx="1120.39" cy="312.91" r="6.94"/><circle cx="1121.38" cy="389" r="6.94"/><circle cx="1122.38" cy="338.32" r="6.94"/><circle cx="1123.38" cy="318" r="6.94"/><circle cx="1124.37" cy="329.45" r="6.94"/><circle cx="1125.37" cy="361.68" r="6.94"/><circle cx="1126.36" cy="375.15" r="6.94"/><circle cx="1127.36" cy="350.92" r="6.94"/><circle cx="1128.35" cy="336.21" r="6.94"/><circle cx="1129.35" cy="342.18" r="6.94"/><circle cx="1130.34" cy="389.82" r="6.94"/><circle cx="1131.34" cy="362.83" r="6.94"/><circle cx="1132.33" cy="356.43" r="6.94"/><circle cx="1133.33" cy="379.74" r="6.94"/><circle cx="1134.32" cy="358.13" r="6.94"/><circle cx="1135.32" cy="364.49" r="6.94"/><circle cx="1136.31" cy="355.29" r="6.94"/><circle cx="1137.31" cy="377" r="6.94"/><circle cx="1138.3" cy="373.52" r="6.94"/><circle cx="1139.3" cy="393.73" r="6.94"/><circle cx="1140.29" cy="373.58" r="6.94"/><circle cx="1141.29" cy="403" r="6.94"/><circle cx="1142.28" cy="362.27" r="6.94"/><circle cx="1143.28" cy="384.46" r="6.94"/><circle cx="1144.27" cy="369.16" r="6.94"/><circle cx="1145.27" cy="378.89" r="6.94"/><circle cx="1146.26" cy="373.43" r="6.94"/><circle cx="1147.26" cy="400.58" r="6.94"/><circle cx="1148.25" cy="370.61" r="6.94"/><circle cx="1149.24" cy="366.39" r="6.94"/><circle cx="1150.24" cy="385.16" r="6.94"/><circle cx="1151.23" cy="382.12" r="6.94"/><circle cx="1152.23" cy="381.69" r="6.94"/><circle cx="1153.22" cy="396.57" r="6.94"/><circle cx="1154.22" cy="395.95" r="6.94"/><circle cx="1155.21" cy="395.45" r="6.94"/><circle cx="1156.21" cy="407.91" r="6.94"/><circle cx="1157.2" cy="384.23" r="6.94"/><circle cx="1158.2" cy="404.13" r="6.94"/><circle cx="1159.19" cy="386.91" r="6.94"/><circle cx="1160.19" cy="399.13" r="6.94"/><circle cx="1161.18" cy="379.07" r="6.94"/><circle cx="1162.18" cy="389.41" r="6.94"/><circle cx="1163.17" cy="425.6" r="6.94"/><circle cx="1164.17" cy="407.3" r="6.94"/><circle cx="1165.16" cy="396.18" r="6.94"/><circle cx="1166.16" cy="384.74" r="6.94"/><circle cx="1167.15" cy="409.53" r="6.94"/><circle cx="1168.15" cy="416.72" r="6.94"/><circle cx="1169.14" cy="378.95" r="6.94"/><circle cx="1170.14" cy="399.19" r="6.94"/><circle cx="1171.13" cy="404.91" r="6.94"/><circle cx="1172.13" cy="403.91" r="6.94"/><circle cx="1173.12" cy="377.99" r="6.94"/><circle cx="1174.12" cy="403.27" r="6.94"/><circle cx="1175.12" cy="400.75" r="6.94"/><circle cx="1176.11" cy="395.19" r="6.94"/><circle cx="1177.11" cy="412.8" r="6.94"/><circle cx="1178.1" cy="427.6" r="6.94"/><circle cx="1179.1" cy="393.43" r="6.94"/><circle cx="1180.09" cy="425.34" r="6.94"/><circle cx="1181.09" cy="374" r="6.94"/><circle cx="1182.08" cy="425.9" r="6.94"/><circle cx="1183.08" cy="385.94" r="6.94"/><circle cx="1184.07" cy="424.94" r="6.94"/><circle cx="1185.07" cy="389.34" r="6.94"/><circle cx="1186.06" cy="413.27" r="6.94"/><circle cx="1187.06" cy="418.02" r="6.94"/><circle cx="1188.05" cy="399.92" r="6.94"/><circle cx="1189.05" cy="417.23" r="6.94"/><circle cx="1190.04" cy="399.74" r="6.94"/><circle cx="1191.04" cy="405.39" r="6.94"/><circle cx="1192.03" cy="413.11" r="6.94"/><circle cx="1193.03" cy="413.21" r="6.94"/><circle cx="1194.02" cy="417.02" r="6.94"/><circle cx="1195.02" cy="419.13" r="6.94"/><circle cx="1196.01" cy="429.01" r="6.94"/><circle cx="1197.01" cy="423" r="6.94"/><circle cx="1198" cy="414.76" r="6.94"/><circle cx="1198.99" cy="413.55" r="6.94"/><circle cx="1199.99" cy="413.75" r="6.94"/><circle cx="1200.98" cy="438.4" r="6.94"/><circle cx="1201.98" cy="406.44" r="6.94"/><circle cx="1202.97" cy="435.97" r="6.94"/><circle cx="1203.97" cy="392.4" r="6.94"/><circle cx="1204.96" cy="403.15" r="6.94"/><circle cx="1205.96" cy="405.81" r="6.94"/><circle cx="1206.95" cy="428.09" r="6.94"/><circle cx="1207.95" cy="422.03" r="6.94"/><circle cx="1208.94" cy="410.28" r="6.94"/><circle cx="1209.94" cy="407.67" r="6.94"/><circle cx="1210.93" cy="408.87" r="6.94"/><circle cx="1211.93" cy="424.14" r="6.94"/><circle cx="1212.92" cy="416.74" r="6.94"/><circle cx="1213.92" cy="405.4" r="6.94"/><circle cx="1214.91" cy="425.82" r="6.94"/><circle cx="1215.91" cy="407.89" r="6.94"/><circle cx="1216.9" cy="416.12" r="6.94"/><circle cx="1217.9" cy="435.97" r="6.94"/><circle cx="1218.89" cy="429.8" r="6.94"/><circle cx="1219.89" cy="412.86" r="6.94"/><circle cx="1220.88" cy="418.39" r="6.94"/><circle cx="1221.88" cy="416.34" r="6.94"/><circle cx="1222.88" cy="431.41" r="6.94"/><circle cx="1223.87" cy="426.18" r="6.94"/><circle cx="1224.87" cy="435.11" r="6.94"/><circle cx="1225.86" cy="429.17" r="6.94"/><circle cx="1226.86" cy="428.3" r="6.94"/><circle cx="1227.85" cy="441" r="6.94"/><circle cx="1228.85" cy="416.69" r="6.94"/><circle cx="1229.84" cy="416.32" r="6.94"/><circle cx="1230.84" cy="406.11" r="6.94"/><circle cx="1231.83" cy="435.76" r="6.94"/><circle cx="1232.83" cy="424.95" r="6.94"/><circle cx="1233.82" cy="403.24" r="6.94"/><circle cx="1234.82" cy="431.2" r="6.94"/><circle cx="1235.81" cy="409.01" r="6.94"/><circle cx="1236.81" cy="400" r="6.94"/><circle cx="1237.8" cy="414.11" r="6.94"/><circle cx="1238.8" cy="411.5" r="6.94"/><circle cx="1239.79" cy="414.07" r="6.94"/><circle cx="1240.79" cy="414.46" r="6.94"/><circle cx="1241.78" cy="424.65" r="6.94"/><circle cx="1242.78" cy="421.53" r="6.94"/><circle cx="1243.77" cy="440.46" r="6.94"/><circle cx="1244.76" cy="432.93" r="6.94"/><circle cx="1245.76" cy="440.04" r="6.94"/><circle cx="1246.76" cy="444.6" r="6.94"/><circle cx="1247.75" cy="432.85" r="6.94"/><circle cx="1248.74" cy="431.11" r="6.94"/><circle cx="1249.74" cy="453.23" r="6.94"/><circle cx="1250.73" cy="429.74" r="6.94"/><circle cx="1251.73" cy="433.48" r="6.94"/><circle cx="1252.72" cy="444.04" r="6.94"/><circle cx="1253.72" cy="443.49" r="6.94"/><circle cx="1254.71" cy="436.4" r="6.94"/><circle cx="1255.71" cy="427.94" r="6.94"/><circle cx="1256.7" cy="450.51" r="6.94"/><circle cx="1257.7" cy="444.75" r="6.94"/><circle cx="1258.69" cy="438.04" r="6.94"/><circle cx="1259.69" cy="437.14" r="6.94"/><circle cx="1260.68" cy="447.43" r="6.94"/><circle cx="1261.68" cy="451.42" r="6.94"/><circle cx="1262.67" cy="421" r="6.94"/><circle cx="1263.67" cy="441.5" r="6.94"/><circle cx="1264.66" cy="450.21" r="6.94"/><circle cx="1265.66" cy="427.95" r="6.94"/><circle cx="1266.65" cy="462.73" r="6.94"/><circle cx="1267.65" cy="434.35" r="6.94"/><circle cx="1268.64" cy="447.52" r="6.94"/><circle cx="1269.64" cy="470" r="6.94"/><circle cx="1270.63" cy="449.85" r="6.94"/><circle cx="1271.63" cy="465.11" r="6.94"/><circle cx="1272.62" cy="467.43" r="6.94"/><circle cx="1273.62" cy="450.76" r="6.94"/><circle cx="1274.62" cy="457.65" r="6.94"/><circle cx="1275.61" cy="455.68" r="6.94"/><circle cx="1276.61" cy="461.64" r="6.94"/><circle cx="1277.6" cy="448.21" r="6.94"/><circle cx="1278.6" cy="446.17" r="6.94"/><circle cx="1279.59" cy="444.47" r="6.94"/><circle cx="1280.59" cy="448.72" r="6.94"/><circle cx="1281.58" cy="458.46" r="6.94"/><circle cx="1282.58" cy="439.24" r="6.94"/><circle cx="1283.57" cy="457.52" r="6.94"/><circle cx="1284.57" cy="450.37" r="6.94"/><circle cx="1285.56" cy="450.21" r="6.94"/><circle cx="1286.56" cy="442.8" r="6.94"/><circle cx="1287.55" cy="448.25" r="6.94"/><circle cx="1288.55" cy="462.34" r="6.94"/><circle cx="1289.54" cy="453.35" r="6.94"/><circle cx="1290.54" cy="466.16" r="6.94"/><circle cx="1291.53" cy="450.77" r="6.94"/><circle cx="1292.53" cy="447.11" r="6.94"/><circle cx="1293.52" cy="458.46" r="6.94"/><circle cx="1294.51" cy="447.74" r="6.94"/><circle cx="1295.51" cy="460.21" r="6.94"/><circle cx="1296.51" cy="465.29" r="6.94"/><circle cx="1297.5" cy="460.3" r="6.94"/><circle cx="1298.49" cy="455.68" r="6.94"/><circle cx="1299.49" cy="444.83" r="6.94"/><circle cx="1300.48" cy="460.99" r="6.94"/><circle cx="1301.48" cy="437.6" r="6.94"/><circle cx="1302.47" cy="454.42" r="6.94"/><circle cx="1303.47" cy="457.16" r="6.94"/><circle cx="1304.46" cy="454.08" r="6.94"/><circle cx="1305.46" cy="464.21" r="6.94"/><circle cx="1306.45" cy="464.1" r="6.94"/><circle cx="1307.45" cy="462.98" r="6.94"/><circle cx="1308.44" cy="470.77" r="6.94"/><circle cx="1309.44" cy="473.78" r="6.94"/><circle cx="1310.43" cy="472.14" r="6.94"/><circle cx="1311.43" cy="469.11" r="6.94"/><circle cx="1312.42" cy="466.15" r="6.94"/><circle cx="1313.42" cy="476.01" r="6.94"/><circle cx="1314.41" cy="468.26" r="6.94"/><circle cx="1315.41" cy="477.75" r="6.94"/><circle cx="1316.4" cy="472.54" r="6.94"/><circle cx="1317.4" cy="442.4" r="6.94"/><circle cx="1318.39" cy="468.49" r="6.94"/><circle cx="1319.39" cy="469.17" r="6.94"/><circle cx="1320.38" cy="474.39" r="6.94"/><circle cx="1321.38" cy="474.58" r="6.94"/><circle cx="1322.38" cy="472.66" r="6.94"/><circle cx="1323.37" cy="474.5" r="6.94"/><circle cx="1324.37" cy="479.23" r="6.94"/><circle cx="1325.36" cy="476.02" r="6.94"/><circle cx="1326.36" cy="468.78" r="6.94"/><circle cx="1327.35" cy="472.87" r="6.94"/><circle cx="1328.35" cy="486.24" r="6.94"/><circle cx="1329.34" cy="476.46" r="6.94"/><circle cx="1330.34" cy="479.53" r="6.94"/><circle cx="1331.33" cy="478.71" r="6.94"/><circle cx="1332.33" cy="478.59" r="6.94"/><circle cx="1333.32" cy="479.88" r="6.94"/><circle cx="1334.32" cy="485.22" r="6.94"/><circle cx="1335.31" cy="480.08" r="6.94"/><circle cx="1336.31" cy="477.57" r="6.94"/><circle cx="1337.3" cy="480.14" r="6.94"/><circle cx="1338.3" cy="482.66" r="6.94"/><circle cx="1339.29" cy="471.14" r="6.94"/><circle cx="1340.29" cy="487.69" r="6.94"/><circle cx="1341.28" cy="472.39" r="6.94"/><circle cx="1342.28" cy="480.99" r="6.94"/><circle cx="1343.27" cy="487.52" r="6.94"/><circle cx="1344.26" cy="484.54" r="6.94"/><circle cx="1345.26" cy="486.34" r="6.94"/><circle cx="1346.26" cy="483.68" r="6.94"/><circle cx="1347.25" cy="478.27" r="6.94"/><circle cx="1348.24" cy="489.08" r="6.94"/><circle cx="1349.24" cy="489.41" r="6.94"/><circle cx="1350.23" cy="485.89" r="6.94"/><circle cx="1351.23" cy="484.26" r="6.94"/><circle cx="1352.22" cy="484" r="6.94"/><circle cx="1353.22" cy="484.27" r="6.94"/><circle cx="1354.21" cy="483.82" r="6.94"/><circle cx="1355.21" cy="490.24" r="6.94"/><circle cx="1356.2" cy="481.43" r="6.94"/><circle cx="1357.2" cy="492.07" r="6.94"/><circle cx="1358.19" cy="480.97" r="6.94"/><circle cx="1359.19" cy="478.29" r="6.94"/><circle cx="1360.18" cy="483.54" r="6.94"/><circle cx="1361.18" cy="486.74" r="6.94"/><circle cx="1362.17" cy="484.5" r="6.94"/><circle cx="1363.17" cy="487.88" r="6.94"/><circle cx="1364.16" cy="484.47" r="6.94"/><circle cx="1365.16" cy="483.5" r="6.94"/><circle cx="1366.15" cy="485.41" r="6.94"/><circle cx="1367.15" cy="481.06" r="6.94"/><circle cx="1368.14" cy="483.5" r="6.94"/><circle cx="1369.14" cy="485.64" r="6.94"/><circle cx="1370.13" cy="478.19" r="6.94"/><circle cx="1371.13" cy="498.89" r="6.94"/><circle cx="1372.12" cy="478.43" r="6.94"/><circle cx="1373.12" cy="487.48" r="6.94"/><circle cx="1374.12" cy="492.74" r="6.94"/><circle cx="1375.11" cy="490.54" r="6.94"/><circle cx="1376.11" cy="498.57" r="6.94"/><circle cx="1377.1" cy="492.94" r="6.94"/><circle cx="1378.1" cy="487.42" r="6.94"/><circle cx="1379.09" cy="493.84" r="6.94"/><circle cx="1380.09" cy="498.58" r="6.94"/><circle cx="1381.08" cy="502.96" r="6.94"/><circle cx="1382.08" cy="491.33" r="6.94"/><circle cx="1383.07" cy="498.76" r="6.94"/><circle cx="1384.07" cy="493.64" r="6.94"/><circle cx="1385.06" cy="484.11" r="6.94"/><circle cx="1386.06" cy="481.66" r="6.94"/><circle cx="1387.05" cy="487.76" r="6.94"/><circle cx="1388.05" cy="485.47" r="6.94"/><circle cx="1389.04" cy="482.54" r="6.94"/><circle cx="1390.04" cy="494.81" r="6.94"/><circle cx="1391.03" cy="499.38" r="6.94"/><circle cx="1392.03" cy="497.88" r="6.94"/><circle cx="1393.02" cy="507" r="6.94"/><circle cx="1394.01" cy="488.69" r="6.94"/><circle cx="1395.01" cy="485.51" r="6.94"/><circle cx="1396.01" cy="494.43" r="6.94"/>
</g></g>
</g>
<g>
<rect x="1562.44" y="81" width="323.8" height="444.9" fill="#eaeaf2"/>
<g stroke="#ffffff" stroke-width="3" shape-rendering="crispEdges" clip-path="url(#c3)">
<line x1="1575.5" y1="81" x2="1575.5" y2="525.9"/>
<line x1="1774.5" y1="81" x2="1774.5" y2="525.9"/>
<line x1="1562.44" y1="99.5" x2="1886.24" y2="99.5"/>
<line x1="1562.44" y1="203.5" x2="1886.24" y2="203.5"/>
<line x1="1562.44" y1="307.5" x2="1886.24" y2="307.5"/>
<line x1="1562.44" y1="411.5" x2="1886.24" y2="411.5"/>
<line x1="1562.44" y1="515.5" x2="1886.24" y2="515.5"/>
</g>
<g font-family="'DejaVu Sans', 'Liberation Sans', sans-serif" font-size="30.56px" fill="#262626">
<text x="1574.7" y="575.9" text-anchor="middle">0</text>
<text x="1773.7" y="575.9" text-anchor="middle">200</text>
<text x="1534.34" y="110" text-anchor="end">0.8</text>
<text x="1534.34" y="214" text-anchor="end">0.6</text>
<text x="1534.34" y="318" text-anchor="end">0.4</text>
<text x="1534.34" y="422" text-anchor="end">0.2</text>
<text x="1534.34" y="526" text-anchor="end">0.0</text>
</g>
<text x="1724.34" y="61.8" text-anchor="middle" font-family="'DejaVu Sans', 'Liberation Sans', sans-serif" font-size="33.33px" fill="#262626">Precision</text>
<g clip-path="url(#c3)">
<polyline fill="none" stroke="#4c72b0" stroke-width="5.56" stroke-linejoin="round" stroke-linecap="round" points="1575.5,208 1576.49,506.4 1577.49,187 1578.48,253 1579.48,467 1580.47,300 1581.47,170 1582.46,400 1583.46,200 1584.45,461 1585.45,130.5 1586.44,156.5 1587.44,150 1588.43,116.5 1589.43,380 1590.42,200 1591.42,330 1592.41,386 1593.41,160 1594.4,112.5 1595.4,300 1596.39,180 1597.39,330 1598.38,381 1599.38,329 1600.38,240 1601.37,260 1602.37,224 1603.36,302 1604.36,301.5 1605.35,250 1606.35,270 1607.34,230 1608.34,289.5 1609.33,245.46 1610.33,238.67 1611.32,223.93 1612.32,196.9 1613.31,187.5 1614.31,216.11 1615.3,217.3 1616.3,199.99 1617.29,240.48 1618.29,197.29 1619.28,234.33 1620.28,183.5 1621.27,233.84 1622.27,277 1623.26,258.67 1624.26,248.07 1625.25,242.66 1626.24,248.77 1627.24,226.06 1628.23,154.5 1629.23,217.37 1630.22,229.78 1631.22,142.5 1632.21,224.47 1633.21,224.67 1634.2,214.5 1635.2,249.58 1636.19,224.67 1637.19,287.8 1638.18,221.09 1639.18,231.28 1640.17,173.2 1641.17,225.83 1642.16,214 1643.16,243.64 1644.15,235.19 1645.15,218.63 1646.14,211.55 1647.14,207.95 1648.13,231.08 1649.13,284 1650.12,248.35 1651.12,133.5 1652.12,290.5 1653.11,205.71 1654.11,198.57 1655.1,227.03 1656.1,208.22 1657.09,238.53 1658.09,220.88 1659.08,190.78 1660.08,298.8 1661.07,138.5 1662.07,237.28 1663.06,209.96 1664.06,212.32 1665.05,193.83 1666.05,233.63 1667.04,186.65 1668.04,217.77 1669.03,142 1670.03,151.5 1671.02,220.83 1672.02,126.5 1673.01,212.09 1674.01,188.58 1675,232.58 1675.99,203.47 1676.99,223.56 1677.98,256.5 1678.98,221.46 1679.97,267.5 1680.97,206.2 1681.96,222.92 1682.96,186.57 1683.95,99.5 1684.95,211.73 1685.94,215.95 1686.94,204.17 1687.93,107.5 1688.93,215.4 1689.92,196.89 1690.92,218.97 1691.91,215.85 1692.91,211.05 1693.9,229.63 1694.9,272 1695.89,252.5 1696.89,131.5 1697.88,227.53 1698.88,235.16 1699.88,202.99 1700.87,214.9 1701.87,200.76 1702.86,204.27 1703.86,235 1704.85,216.96 1705.85,213.22 1706.84,214.1 1707.84,198.94 1708.83,181.5 1709.83,233.18 1710.82,171 1711.82,207.92 1712.81,204.01 1713.81,220.73 1714.8,247.5 1715.8,165 1716.79,205.76 1717.79,222.09 1718.78,214.13 1719.78,213.04 1720.77,213.66 1721.76,217.46 1722.76,202.95 1723.76,202.37 1724.75,193 1725.74,216.31 1726.74,232.24 1727.73,223.3 1728.73,234.5 1729.72,179 1730.72,209.39 1731.71,167 1732.71,216.72 1733.7,210.94 1734.7,217.83 1735.69,184.5 1736.69,164.5 1737.68,229.99 1738.68,201.92 1739.67,203.15 1740.67,243.5 1741.66,209.6 1742.66,221.73 1743.65,218.09 1744.65,210.24 1745.64,262.5 1746.64,280.5 1747.63,217.91 1748.63,216.45 1749.62,194.5 1750.62,205.87 1751.62,233 1752.61,237 1753.61,208.7 1754.6,219.33 1755.6,192 1756.59,217.35 1757.59,214.57 1758.58,218.16 1759.58,209.32 1760.57,224.43 1761.57,233 1762.56,222.71 1763.56,208.61 1764.55,200.25 1765.55,203.75 1766.54,205.84 1767.54,200 1768.53,190.77 1769.53,178.71 1770.52,165.76 1771.51,169.12 1772.51,167.7 1773.51,176.69 1774.5,172.05 1775.49,181.59 1776.49,165.51 1777.48,183.98 1778.48,181.84 1779.47,176.3 1780.47,179.74 1781.46,171.71 1782.46,168.46 1783.45,193.91 1784.45,181.79 1785.44,172 1786.44,192.6 1787.43,191.79 1788.43,203.42 1789.42,183.11 1790.42,175.01 1791.41,170.18 1792.41,169.16 1793.4,202.22 1794.4,198.82 1795.39,206.66 1796.39,200.4 1797.38,185.27 1798.38,212.5 1799.38,193.88 1800.37,181.96 1801.37,210.98 1802.36,193.16 1803.36,195.31 1804.35,196.82 1805.35,207.99 1806.34,184.39 1807.34,197.11 1808.33,205.58 1809.33,224.45 1810.32,194.48 1811.32,199.92 1812.31,228.12 1813.31,222.09 1814.3,216.69 1815.3,201.8 1816.29,237.16 1817.29,217.95 1818.28,221.56 1819.28,222.01 1820.27,222.58 1821.26,238.14 1822.26,215.02 1823.26,198.91 1824.25,222.24 1825.24,235.03 1826.24,241.7 1827.23,239.83 1828.23,239 1829.22,242.18 1830.22,242.46 1831.21,238.82 1832.21,181.5 1833.2,237.67 1834.2,238.51 1835.19,236.57 1836.19,234.67 1837.18,237.02 1838.18,235.89 1839.17,233.84 1840.17,231.8 1841.16,230.88 1842.16,233 1843.15,229.38 1844.15,237.89 1845.14,229.75 1846.14,232.92 1847.13,231 1848.13,235.12 1849.12,240.62 1850.12,225.62 1851.12,240.64 1852.11,235.13 1853.11,245.19 1854.1,240.88 1855.1,229.8 1856.09,229.47 1857.09,240.04 1858.08,235.69 1859.08,221.28 1860.07,227.09 1861.07,213.97 1862.06,233.15 1863.06,223.57 1864.05,216.21 1865.05,222.97 1866.04,216.3 1867.04,227.09 1868.03,223.97 1869.03,229.74 1870.02,233 1871.01,232.65 1872.01,230.46 1873.01,230.73"/>
<g fill="#4c72b0">
<circle cx="1575.5" cy="208" r="6.94"/><circle cx="1576.49" cy="506.4" r="6.94"/><circle cx="1577.49" cy="187" r="6.94"/><circle cx="1578.48" cy="253" r="6.94"/><circle cx="1579.48" cy="467" r="6.94"/><circle cx="1580.47" cy="300" r="6.94"/><circle cx="1581.47" cy="170" r="6.94"/><circle cx="1582.46" cy="400" r="6.94"/><circle cx="1583.46" cy="200" r="6.94"/><circle cx="1584.45" cy="461" r="6.94"/><circle cx="1585.45" cy="130.5" r="6.94"/><circle cx="1586.44" cy="156.5" r="6.94"/><circle cx="1587.44" cy="150" r="6.94"/><circle cx="1588.43" cy="116.5" r="6.94"/><circle cx="1589.43" cy="380" r="6.94"/><circle cx="1590.42" cy="200" r="6.94"/><circle cx="1591.42" cy="330" r="6.94"/><circle cx="1592.41" cy="386" r="6.94"/><circle cx="1593.41" cy="160" r="6.94"/><circle cx="1594.4" cy="112.5" r="6.94"/><circle cx="1595.4" cy="300" r="6.94"/><circle cx="1596.39" cy="180" r="6.94"/><circle cx="1597.39" cy="330" r="6.94"/><circle cx="1598.38" cy="381" r="6.94"/><circle cx="1599.38" cy="329" r="6.94"/><circle cx="1600.38" cy="240" r="6.94"/><circle cx="1601.37" cy="260" r="6.94"/><circle cx="1602.37" cy="224" r="6.94"/><circle cx="1603.36" cy="302" r="6.94"/><circle cx="1604.36" cy="301.5" r="6.94"/><circle cx="1605.35" cy="250" r="6.94"/><circle cx="1606.35" cy="270" r="6.94"/><circle cx="1607.34" cy="230" r="6.94"/><circle cx="1608.34" cy="289.5" r="6.94"/><circle cx="1609.33" cy="245.46" r="6.94"/><circle cx="1610.33" cy="238.67" r="6.94"/><circle cx="1611.32" cy="223.93" r="6.94"/><circle cx="1612.32" cy="196.9" r="6.94"/><circle cx="1613.31" cy="187.5" r="6.94"/><circle cx="1614.31" cy="216.11" r="6.94"/><circle cx="1615.3" cy="217.3" r="6.94"/><circle cx="1616.3" cy="199.99" r="6.94"/><circle cx="1617.29" cy="240.48" r="6.94"/><circle cx="1618.29" cy="197.29" r="6.94"/><circle cx="1619.28" cy="234.33" r="6.94"/><circle cx="1620.28" cy="183.5" r="6.94"/><circle cx="1621.27" cy="233.84" r="6.94"/><circle cx="1622.27" cy="277" r="6.94"/><circle cx="1623.26" cy="258.67" r="6.94"/><circle cx="1624.26" cy="248.07" r="6.94"/><circle cx="1625.25" cy="242.66" r="6.94"/><circle cx="1626.24" cy="248.77" r="6.94"/><circle cx="1627.24" cy="226.06" r="6.94"/><circle cx="1628.23" cy="154.5" r="6.94"/><circle cx="1629.23" cy="217.37" r="6.94"/><circle cx="1630.22" cy="229.78" r="6.94"/><circle cx="1631.22" cy="142.5" r="6.94"/><circle cx="1632.21" cy="224.47" r="6.94"/><circle cx="1633.21" cy="224.67" r="6.94"/><circle cx="1634.2" cy="214.5" r="6.94"/><circle cx="1635.2" cy="249.58" r="6.94"/><circle cx="1636.19" cy="224.67" r="6.94"/><circle cx="1637.19" cy="287.8" r="6.94"/><circle cx="1638.18" cy="221.09" r="6.94"/><circle cx="1639.18" cy="231.28" r="6.94"/><circle cx="1640.17" cy="173.2" r="6.94"/><circle cx="1641.17" cy="225.83" r="6.94"/><circle cx="1642.16" cy="214" r="6.94"/><circle cx="1643.16" cy="243.64" r="6.94"/><circle cx="1644.15" cy="235.19" r="6.94"/><circle cx="1645.15" cy="218.63" r="6.94"/><circle cx="1646.14" cy="211.55" r="6.94"/><circle cx="1647.14" cy="207.95" r="6.94"/><circle cx="1648.13" cy="231.08" r="6.94"/><circle cx="1649.13" cy="284" r="6.94"/><circle cx="1650.12" cy="248.35" r="6.94"/><circle cx="1651.12" cy="133.5" r="6.94"/><circle cx="1652.12" cy="290.5" r="6.94"/><circle cx="1653.11" cy="205.71" r="6.94"/><circle cx="1654.11" cy="198.57" r="6.94"/><circle cx="1655.1" cy="227.03" r="6.94"/><circle cx="1656.1" cy="208.22" r="6.94"/><circle cx="1657.09" cy="238.53" r="6.94"/><circle cx="1658.09" cy="220.88" r="6.94"/><circle cx="1659.08" cy="190.78" r="6.94"/><circle cx="1660.08" cy="298.8" r="6.94"/><circle cx="1661.07" cy="138.5" r="6.94"/><circle cx="1662.07" cy="237.28" r="6.94"/><circle cx="1663.06" cy="209.96" r="6.94"/><circle cx="1664.06" cy="212.32" r="6.94"/><circle cx="1665.05" cy="193.83" r="6.94"/><circle cx="1666.05" cy="233.63" r="6.94"/><circle cx="1667.04" cy="186.65" r="6.94"/><circle cx="1668.04" cy="217.77" r="6.94"/><circle cx="1669.03" cy="142" r="6.94"/><circle cx="1670.03" cy="151.5" r="6.94"/><circle cx="1671.02" cy="220.83" r="6.94"/><circle cx="1672.02" cy="126.5" r="6.94"/><circle cx="1673.01" cy="212.09" r="6.94"/><circle cx="1674.01" cy="188.58" r="6.94"/><circle cx="1675" cy="232.58" r="6.94"/><circle cx="1675.99" cy="203.47" r="6.94"/><circle cx="1676.99" cy="223.56" r="6.94"/><circle cx="1677.98" cy="256.5" r="6.94"/><circle cx="1678.98" cy="221.46" r="6.94"/><circle cx="1679.97" cy="267.5" r="6.94"/><circle cx="1680.97" cy="206.2" r="6.94"/><circle cx="1681.96" cy="222.92" r="6.94"/><circle cx="1682.96" cy="186.57" r="6.94"/><circle cx="1683.95" cy="99.5" r="6.94"/><circle cx="1684.95" cy="211.73" r="6.94"/><circle cx="1685.94" cy="215.95" r="6.94"/><circle cx="1686.94" cy="204.17" r="6.94"/><circle cx="1687.93" cy="107.5" r="6.94"/><circle cx="1688.93" cy="215.4" r="6.94"/><circle cx="1689.92" cy="196.89" r="6.94"/><circle cx="1690.92" cy="218.97" r="6.94"/><circle cx="1691.91" cy="215.85" r="6.94"/><circle cx="1692.91" cy="211.05" r="6.94"/><circle cx="1693.9" cy="229.63" r="6.94"/><circle cx="1694.9" cy="272" r="6.94"/><circle cx="1695.89" cy="252.5" r="6.94"/><circle cx="1696.89" cy="131.5" r="6.94"/><circle cx="1697.88" cy="227.53" r="6.94"/><circle cx="1698.88" cy="235.16" r="6.94"/><circle cx="1699.88" cy="202.99" r="6.94"/><circle cx="1700.87" cy="214.9" r="6.94"/><circle cx="1701.87" cy="200.76" r="6.94"/><circle cx="1702.86" cy="204.27" r="6.94"/><circle cx="1703.86" cy="235" r="6.94"/><circle cx="1704.85" cy="216.96" r="6.94"/><circle cx="1705.85" cy="213.22" r="6.94"/><circle cx="1706.84" cy="214.1" r="6.94"/><circle cx="1707.84" cy="198.94" r="6.94"/><circle cx="1708.83" cy="181.5" r="6.94"/><circle cx="1709.83" cy="233.18" r="6.94"/><circle cx="1710.82" cy="171" r="6.94"/><circle cx="1711.82" cy="207.92" r="6.94"/><circle cx="1712.81" cy="204.01" r="6.94"/><circle cx="1713.81" cy="220.73" r="6.94"/><circle cx="1714.8" cy="247.5" r="6.94"/><circle cx="1715.8" cy="165" r="6.94"/><circle cx="1716.79" cy="205.76" r="6.94"/><circle cx="1717.79" cy="222.09" r="6.94"/><circle cx="1718.78" cy="214.13" r="6.94"/><circle cx="1719.78" cy="213.04" r="6.94"/><circle cx="1720.77" cy="213.66" r="6.94"/><circle cx="1721.76" cy="217.46" r="6.94"/><circle cx="1722.76" cy="202.95" r="6.94"/><circle cx="1723.76" cy="202.37" r="6.94"/><circle cx="1724.75" cy="193" r="6.94"/><circle cx="1725.74" cy="216.31" r="6.94"/><circle cx="1726.74" cy="232.24" r="6.94"/><circle cx="1727.73" cy="223.3" r="6.94"/><circle cx="1728.73" cy="234.5" r="6.94"/><circle cx="1729.72" cy="179" r="6.94"/><circle cx="1730.72" cy="209.39" r="6.94"/><circle cx="1731.71" cy="167" r="6.94"/><circle cx="1732.71" cy="216.72" r="6.94"/><circle cx="1733.7" cy="210.94" r="6.94"/><circle cx="1734.7" cy="217.83" r="6.94"/><circle cx="1735.69" cy="184.5" r="6.94"/><circle cx="1736.69" cy="164.5" r="6.94"/><circle cx="1737.68" cy="229.99" r="6.94"/><circle cx="1738.68" cy="201.92" r="6.94"/><circle cx="1739.67" cy="203.15" r="6.94"/><circle cx="1740.67" cy="243.5" r="6.94"/><circle cx="1741.66" cy="209.6" r="6.94"/><circle cx="1742.66" cy="221.73" r="6.94"/><circle cx="1743.65" cy="218.09" r="6.94"/><circle cx="1744.65" cy="210.24" r="6.94"/><circle cx="1745.64" cy="262.5" r="6.94"/><circle cx="1746.64" cy="280.5" r="6.94"/><circle cx="1747.63" cy="217.91" r="6.94"/><circle cx="1748.63" cy="216.45" r="6.94"/><circle cx="1749.62" cy="194.5" r="6.94"/><circle cx="1750.62" cy="205.87" r="6.94"/><circle cx="1751.62" cy="233" r="6.94"/><circle cx="1752.61" cy="237" r="6.94"/><circle cx="1753.61" cy="208.7" r="6.94"/><circle cx="1754.6" cy="219.33" r="6.94"/><circle cx="1755.6" cy="192" r="6.94"/><circle cx="1756.59" cy="217.35" r="6.94"/><circle cx="1757.59" cy="214.57" r="6.94"/><circle cx="1758.58" cy="218.16" r="6.94"/><circle cx="1759.58" cy="209.32" r="6.94"/><circle cx="1760.57" cy="224.43" r="6.94"/><circle cx="1761.57" cy="233" r="6.94"/><circle cx="1762.56" cy="222.71" r="6.94"/><circle cx="1763.56" cy="208.61" r="6.94"/><circle cx="1764.55" cy="200.25" r="6.94"/><circle cx="1765.55" cy="203.75" r="6.94"/><circle cx="1766.54" cy="205.84" r="6.94"/><circle cx="1767.54" cy="200" r="6.94"/><circle cx="1768.53" cy="190.77" r="6.94"/><circle cx="1769.53" cy="178.71" r="6.94"/><circle cx="1770.52" cy="165.76" r="6.94"/><circle cx="1771.51" cy="169.12" r="6.94"/><circle cx="1772.51" cy="167.7" r="6.94"/><circle cx="1773.51" cy="176.69" r="6.94"/><circle cx="1774.5" cy="172.05" r="6.94"/><circle cx="1775.49" cy="181.59" r="6.94"/><circle cx="1776.49" cy="165.51" r="6.94"/><circle cx="1777.48" cy="183.98" r="6.94"/><circle cx="1778.48" cy="181.84" r="6.94"/><circle cx="1779.47" cy="176.3" r="6.94"/><circle cx="1780.47" cy="179.74" r="6.94"/><circle cx="1781.46" cy="171.71" r="6.94"/><circle cx="1782.46" cy="168.46" r="6.94"/><circle cx="1783.45" cy="193.91" r="6.94"/><circle cx="1784.45" cy="181.79" r="6.94"/><circle cx="1785.44" cy="172" r="6.94"/><circle cx="1786.44" cy="192.6" r="6.94"/><circle cx="1787.43" cy="191.79" r="6.94"/><circle cx="1788.43" cy="203.42" r="6.94"/><circle cx="1789.42" cy="183.11" r="6.94"/><circle cx="1790.42" cy="175.01" r="6.94"/><circle cx="1791.41" cy="170.18" r="6.94"/><circle cx="1792.41" cy="169.16" r="6.94"/><circle cx="1793.4" cy="202.22" r="6.94"/><circle cx="1794.4" cy="198.82" r="6.94"/><circle cx="1795.39" cy="206.66" r="6.94"/><circle cx="1796.39" cy="200.4" r="6.94"/><circle cx="1797.38" cy="185.27" r="6.94"/><circle cx="1798.38" cy="212.5" r="6.94"/><circle cx="1799.38" cy="193.88" r="6.94"/><circle cx="1800.37" cy="181.96" r="6.94"/><circle cx="1801.37" cy="210.98" r="6.94"/><circle cx="1802.36" cy="193.16" r="6.94"/><circle cx="1803.36" cy="195.31" r="6.94"/><circle cx="1804.35" cy="196.82" r="6.94"/><circle cx="1805.35" cy="207.99" r="6.94"/><circle cx="1806.34" cy="184.39" r="6.94"/><circle cx="1807.34" cy="197.11" r="6.94"/><circle cx="1808.33" cy="205.58" r="6.94"/><circle cx="1809.33" cy="224.45" r="6.94"/><circle cx="1810.32" cy="194.48" r="6.94"/><circle cx="1811.32" cy="199.92" r="6.94"/><circle cx="1812.31" cy="228.12" r="6.94"/><circle cx="1813.31" cy="222.09" r="6.94"/><circle cx="1814.3" cy="216.69" r="6.94"/><circle cx="1815.3" cy="201.8" r="6.94"/><circle cx="1816.29" cy="237.16" r="6.94"/><circle cx="1817.29" cy="217.95" r="6.94"/><circle cx="1818.28" cy="221.56" r="6.94"/><circle cx="1819.28" cy="222.01" r="6.94"/><circle cx="1820.27" cy="222.58" r="6.94"/><circle cx="1821.26" cy="238.14" r="6.94"/><circle cx="1822.26" cy="215.02" r="6.94"/><circle cx="1823.26" cy="198.91" r="6.94"/><circle cx="1824.25" cy="222.24" r="6.94"/><circle cx="1825.24" cy="235.03" r="6.94"/><circle cx="1826.24" cy="241.7" r="6.94"/><circle cx="1827.23" cy="239.83" r="6.94"/><circle cx="1828.23" cy="239" r="6.94"/><circle cx="1829.22" cy="242.18" r="6.94"/><circle cx="1830.22" cy="242.46" r="6.94"/><circle cx="1831.21" cy="238.82" r="6.94"/><circle cx="1832.21" cy="181.5" r="6.94"/><circle cx="1833.2" cy="237.67" r="6.94"/><circle cx="1834.2" cy="238.51" r="6.94"/><circle cx="1835.19" cy="236.57" r="6.94"/><circle cx="1836.19" cy="234.67" r="6.94"/><circle cx="1837.18" cy="237.02" r="6.94"/><circle cx="1838.18" cy="235.89" r="6.94"/><circle cx="1839.17" cy="233.84" r="6.94"/><circle cx="1840.17" cy="231.8" r="6.94"/><circle cx="1841.16" cy="230.88" r="6.94"/><circle cx="1842.16" cy="233" r="6.94"/><circle cx="1843.15" cy="229.38" r="6.94"/><circle cx="1844.15" cy="237.89" r="6.94"/><circle cx="1845.14" cy="229.75" r="6.94"/><circle cx="1846.14" cy="232.92" r="6.94"/><circle cx="1847.13" cy="231" r="6.94"/><circle cx="1848.13" cy="235.12" r="6.94"/><circle cx="1849.12" cy="240.62" r="6.94"/><circle cx="1850.12" cy="225.62" r="6.94"/><circle cx="1851.12" cy="240.64" r="6.94"/><circle cx="1852.11" cy="235.13" r="6.94"/><circle cx="1853.11" cy="245.19" r="6.94"/><circle cx="1854.1" cy="240.88" r="6.94"/><circle cx="1855.1" cy="229.8" r="6.94"/><circle cx="1856.09" cy="229.47" r="6.94"/><circle cx="1857.09" cy="240.04" r="6.94"/><circle cx="1858.08" cy="235.69" r="6.94"/><circle cx="1859.08" cy="221.28" r="6.94"/><circle cx="1860.07" cy="227.09" r="6.94"/><circle cx="1861.07" cy="213.97" r="6.94"/><circle cx="1862.06" cy="233.15" r="6.94"/><circle cx="1863.06" cy="223.57" r="6.94"/><circle cx="1864.05" cy="216.21" r="6.94"/><circle cx="1865.05" cy="222.97" r="6.94"/><circle cx="1866.04" cy="216.3" r="6.94"/><circle cx="1867.04" cy="227.09" r="6.94"/><circle cx="1868.03" cy="223.97" r="6.94"/><circle cx="1869.03" cy="229.74" r="6.94"/><circle cx="1870.02" cy="233" r="6.94"/><circle cx="1871.01" cy="232.65" r="6.94"/><circle cx="1872.01" cy="230.46" r="6.94"/><circle cx="1873.01" cy="230.73" r="6.94"/>
</g></g>
</g>
<g>
<rect x="2039.22" y="81" width="323.8" height="444.9" fill="#eaeaf2"/>
<g stroke="#ffffff" stroke-width="3" shape-rendering="crispEdges" clip-path="url(#c4)">
<line x1="2052.5" y1="81" x2="2052.5" y2="525.9"/>
<line x1="2251.5" y1="81" x2="2251.5" y2="525.9"/>
<line x1="2039.22" y1="126.5" x2="2363.02" y2="126.5"/>
<line x1="2039.22" y1="226.5" x2="2363.02" y2="226.5"/>
<line x1="2039.22" y1="325.5" x2="2363.02" y2="325.5"/>
<line x1="2039.22" y1="425.5" x2="2363.02" y2="425.5"/>
<line x1="2039.22" y1="524.5" x2="2363.02" y2="524.5"/>
</g>
<g font-family="'DejaVu Sans', 'Liberation Sans', sans-serif" font-size="30.56px" fill="#262626">
<text x="2051.7" y="575.9" text-anchor="middle">0</text>
<text x="2250.7" y="575.9" text-anchor="middle">200</text>
<text x="2011.12" y="138" text-anchor="end">0.5</text>
<text x="2011.12" y="237" text-anchor="end">0.4</text>
<text x="2011.12" y="337" text-anchor="end">0.3</text>
<text x="2011.12" y="436" text-anchor="end">0.2</text>
<text x="2011.12" y="536" text-anchor="end">0.1</text>
</g>
<text x="2201.12" y="61.8" text-anchor="middle" font-family="'DejaVu Sans', 'Liberation Sans', sans-serif" font-size="33.33px" fill="#262626">Recall</text>
<g clip-path="url(#c4)">
<polyline fill="none" stroke="#4c72b0" stroke-width="5.56" stroke-linejoin="round" stroke-linecap="round" points="2052.5,495 2053.49,430 2054.49,386 2055.49,506.4 2056.48,445 2057.47,398 2058.47,377 2059.47,390 2060.46,380 2061.45,386 2062.45,375 2063.45,382 2064.44,372 2065.43,378 2066.43,364 2067.43,392 2068.42,287.5 2069.41,333 2070.41,300 2071.41,360 2072.4,270 2073.39,340 2074.39,260 2075.39,352 2076.38,243.5 2077.38,373.6 2078.37,235 2079.36,300 2080.36,326 2081.36,222.5 2082.35,290 2083.34,240 2084.34,300 2085.34,250 2086.33,280 2087.32,310.5 2088.32,240 2089.32,319.6 2090.31,291.5 2091.3,230 2092.3,270 2093.3,282.5 2094.29,198.5 2095.28,246.96 2096.28,248.13 2097.28,218.35 2098.27,141.5 2099.26,253.12 2100.26,200.9 2101.26,214.91 2102.25,213.97 2103.24,205.06 2104.24,266.5 2105.24,240.33 2106.23,231.13 2107.22,228.4 2108.22,257.3 2109.22,210.57 2110.21,223.71 2111.2,252.21 2112.2,269 2113.2,150.5 2114.19,266.81 2115.18,245.96 2116.18,240.75 2117.18,208.46 2118.17,211.32 2119.16,251.28 2120.16,231.75 2121.16,226.74 2122.15,243.59 2123.14,195.11 2124.14,236.53 2125.14,220.78 2126.13,249.24 2127.12,269.5 2128.12,157.5 2129.11,207.62 2130.11,237.77 2131.11,190.45 2132.1,260.2 2133.09,224.27 2134.09,234.12 2135.09,281.8 2136.08,206.05 2137.07,269.5 2138.07,227.77 2139.07,235.99 2140.06,193.18 2141.05,182.6 2142.05,207.23 2143.05,245.44 2144.04,245.79 2145.03,204.23 2146.03,211.94 2147.03,224.01 2148.02,182.13 2149.01,227.65 2150.01,166.5 2151.01,242.94 2152,226.25 2152.99,128 2153.99,99.5 2154.99,212.58 2155.98,194.59 2156.97,209.05 2157.97,211.04 2158.97,269.5 2159.96,203.83 2160.95,218.48 2161.95,212.64 2162.95,197.27 2163.94,224.7 2164.93,185.76 2165.93,201.55 2166.93,215.59 2167.92,220.61 2168.91,237.42 2169.91,232.7 2170.91,128.5 2171.9,155.5 2172.89,193.7 2173.89,262.5 2174.89,223.55 2175.88,216.5 2176.88,178.58 2177.87,188.58 2178.86,214.18 2179.86,190.88 2180.86,171.78 2181.85,182.3 2182.84,177.55 2183.84,178.57 2184.84,190.32 2185.83,134 2186.82,187.9 2187.82,157.46 2188.82,162.3 2189.81,127.5 2190.8,177.62 2191.8,165.36 2192.8,212.5 2193.79,165.53 2194.78,165.48 2195.78,160.81 2196.78,178.7 2197.77,160.29 2198.76,184.75 2199.76,177.84 2200.76,183.94 2201.75,172.6 2202.74,168.4 2203.74,127.5 2204.74,181.35 2205.73,192.17 2206.72,113.5 2207.72,175.12 2208.72,154.44 2209.71,158.08 2210.7,187.74 2211.7,202.5 2212.7,157.83 2213.69,210.5 2214.68,208.97 2215.68,148.69 2216.68,182.31 2217.67,170.69 2218.66,167.77 2219.66,156.58 2220.66,136.34 2221.65,142.51 2222.64,169.42 2223.64,145.96 2224.64,211.5 2225.63,115 2226.62,146.81 2227.62,113 2228.61,143.21 2229.61,112 2230.61,157.4 2231.6,174.51 2232.59,162.48 2233.59,147.79 2234.59,158.18 2235.58,109 2236.57,147.74 2237.57,148.83 2238.57,122 2239.56,130.5 2240.55,149.39 2241.55,168.9 2242.55,142 2243.54,169.33 2244.53,147.5 2245.53,172 2246.53,192 2247.52,189.84 2248.51,204.5 2249.51,175.27 2250.51,186.5 2251.5,186.04 2252.49,192.95 2253.49,180.53 2254.49,193.87 2255.48,186.52 2256.47,200.02 2257.47,184.91 2258.47,202.5 2259.46,188.99 2260.45,185.44 2261.45,180.65 2262.45,201.76 2263.44,182.6 2264.43,175.52 2265.43,167.84 2266.43,161.14 2267.42,175.12 2268.41,176.59 2269.41,190.1 2270.41,204 2271.4,159.07 2272.39,184.17 2273.39,174.79 2274.39,171.59 2275.38,199.76 2276.38,186.29 2277.37,187.74 2278.36,164.97 2279.36,152.52 2280.36,167.8 2281.35,197 2282.34,173.27 2283.34,190.21 2284.34,189.21 2285.33,184.13 2286.32,186.86 2287.32,163.34 2288.32,194.2 2289.31,179.82 2290.3,184.89 2291.3,189.06 2292.3,186.8 2293.29,169.86 2294.28,123.24 2295.28,124.54 2296.28,123.5 2297.27,123.27 2298.26,124.29 2299.26,123.44 2300.26,124.63 2301.25,124.15 2302.24,125.59 2303.24,123.83 2304.24,123.85 2305.23,125.83 2306.22,124.19 2307.22,126.67 2308.22,195.5 2309.21,128.75 2310.2,127.51 2311.2,128.84 2312.2,128.5 2313.19,129.32 2314.18,129.39 2315.18,128.77 2316.18,128.15 2317.17,127.54 2318.16,126.92 2319.16,126.31 2320.15,125.69 2321.15,125.07 2322.14,124.46 2323.14,123.84 2324.14,123.23 2325.13,124.11 2326.12,155 2327.12,127.31 2328.11,128.91 2329.11,129.52 2330.11,130.53 2331.1,137.4 2332.09,149.65 2333.09,155.2 2334.09,162.25 2335.08,186.5 2336.07,186.5 2337.07,186.5 2338.07,186.5 2339.06,186.5 2340.05,186.5 2341.05,186.5 2342.05,186.5 2343.04,186.5 2344.03,178.54 2345.03,155.71 2346.03,154.85 2347.02,154.04 2348.01,156.03 2349.01,158.02 2350.01,160"/>
<g fill="#4c72b0">
<circle cx="2052.5" cy="495" r="6.94"/><circle cx="2053.49" cy="430" r="6.94"/><circle cx="2054.49" cy="386" r="6.94"/><circle cx="2055.49" cy="506.4" r="6.94"/><circle cx="2056.48" cy="445" r="6.94"/><circle cx="2057.47" cy="398" r="6.94"/><circle cx="2058.47" cy="377" r="6.94"/><circle cx="2059.47" cy="390" r="6.94"/><circle cx="2060.46" cy="380" r="6.94"/><circle cx="2061.45" cy="386" r="6.94"/><circle cx="2062.45" cy="375" r="6.94"/><circle cx="2063.45" cy="382" r="6.94"/><circle cx="2064.44" cy="372" r="6.94"/><circle cx="2065.43" cy="378" r="6.94"/><circle cx="2066.43" cy="364" r="6.94"/><circle cx="2067.43" cy="392" r="6.94"/><circle cx="2068.42" cy="287.5" r="6.94"/><circle cx="2069.41" cy="333" r="6.94"/><circle cx="2070.41" cy="300" r="6.94"/><circle cx="2071.41" cy="360" r="6.94"/><circle cx="2072.4" cy="270" r="6.94"/><circle cx="2073.39" cy="340" r="6.94"/><circle cx="2074.39" cy="260" r="6.94"/><circle cx="2075.39" cy="352" r="6.94"/><circle cx="2076.38" cy="243.5" r="6.94"/><circle cx="2077.38" cy="373.6" r="6.94"/><circle cx="2078.37" cy="235" r="6.94"/><circle cx="2079.36" cy="300" r="6.94"/><circle cx="2080.36" cy="326" r="6.94"/><circle cx="2081.36" cy="222.5" r="6.94"/><circle cx="2082.35" cy="290" r="6.94"/><circle cx="2083.34" cy="240" r="6.94"/><circle cx="2084.34" cy="300" r="6.94"/><circle cx="2085.34" cy="250" r="6.94"/><circle cx="2086.33" cy="280" r="6.94"/><circle cx="2087.32" cy="310.5" r="6.94"/><circle cx="2088.32" cy="240" r="6.94"/><circle cx="2089.32" cy="319.6" r="6.94"/><circle cx="2090.31" cy="291.5" r="6.94"/><circle cx="2091.3" cy="230" r="6.94"/><circle cx="2092.3" cy="270" r="6.94"/><circle cx="2093.3" cy="282.5" r="6.94"/><circle cx="2094.29" cy="198.5" r="6.94"/><circle cx="2095.28" cy="246.96" r="6.94"/><circle cx="2096.28" cy="248.13" r="6.94"/><circle cx="2097.28" cy="218.35" r="6.94"/><circle cx="2098.27" cy="141.5" r="6.94"/><circle cx="2099.26" cy="253.12" r="6.94"/><circle cx="2100.26" cy="200.9" r="6.94"/><circle cx="2101.26" cy="214.91" r="6.94"/><circle cx="2102.25" cy="213.97" r="6.94"/><circle cx="2103.24" cy="205.06" r="6.94"/><circle cx="2104.24" cy="266.5" r="6.94"/><circle cx="2105.24" cy="240.33" r="6.94"/><circle cx="2106.23" cy="231.13" r="6.94"/><circle cx="2107.22" cy="228.4" r="6.94"/><circle cx="2108.22" cy="257.3" r="6.94"/><circle cx="2109.22" cy="210.57" r="6.94"/><circle cx="2110.21" cy="223.71" r="6.94"/><circle cx="2111.2" cy="252.21" r="6.94"/><circle cx="2112.2" cy="269" r="6.94"/><circle cx="2113.2" cy="150.5" r="6.94"/><circle cx="2114.19" cy="266.81" r="6.94"/><circle cx="2115.18" cy="245.96" r="6.94"/><circle cx="2116.18" cy="240.75" r="6.94"/><circle cx="2117.18" cy="208.46" r="6.94"/><circle cx="2118.17" cy="211.32" r="6.94"/><circle cx="2119.16" cy="251.28" r="6.94"/><circle cx="2120.16" cy="231.75" r="6.94"/><circle cx="2121.16" cy="226.74" r="6.94"/><circle cx="2122.15" cy="243.59" r="6.94"/><circle cx="2123.14" cy="195.11" r="6.94"/><circle cx="2124.14" cy="236.53" r="6.94"/><circle cx="2125.14" cy="220.78" r="6.94"/><circle cx="2126.13" cy="249.24" r="6.94"/><circle cx="2127.12" cy="269.5" r="6.94"/><circle cx="2128.12" cy="157.5" r="6.94"/><circle cx="2129.11" cy="207.62" r="6.94"/><circle cx="2130.11" cy="237.77" r="6.94"/><circle cx="2131.11" cy="190.45" r="6.94"/><circle cx="2132.1" cy="260.2" r="6.94"/><circle cx="2133.09" cy="224.27" r="6.94"/><circle cx="2134.09" cy="234.12" r="6.94"/><circle cx="2135.09" cy="281.8" r="6.94"/><circle cx="2136.08" cy="206.05" r="6.94"/><circle cx="2137.07" cy="269.5" r="6.94"/><circle cx="2138.07" cy="227.77" r="6.94"/><circle cx="2139.07" cy="235.99" r="6.94"/><circle cx="2140.06" cy="193.18" r="6.94"/><circle cx="2141.05" cy="182.6" r="6.94"/><circle cx="2142.05" cy="207.23" r="6.94"/><circle cx="2143.05" cy="245.44" r="6.94"/><circle cx="2144.04" cy="245.79" r="6.94"/><circle cx="2145.03" cy="204.23" r="6.94"/><circle cx="2146.03" cy="211.94" r="6.94"/><circle cx="2147.03" cy="224.01" r="6.94"/><circle cx="2148.02" cy="182.13" r="6.94"/><circle cx="2149.01" cy="227.65" r="6.94"/><circle cx="2150.01" cy="166.5" r="6.94"/><circle cx="2151.01" cy="242.94" r="6.94"/><circle cx="2152" cy="226.25" r="6.94"/><circle cx="2152.99" cy="128" r="6.94"/><circle cx="2153.99" cy="99.5" r="6.94"/><circle cx="2154.99" cy="212.58" r="6.94"/><circle cx="2155.98" cy="194.59" r="6.94"/><circle cx="2156.97" cy="209.05" r="6.94"/><circle cx="2157.97" cy="211.04" r="6.94"/><circle cx="2158.97" cy="269.5" r="6.94"/><circle cx="2159.96" cy="203.83" r="6.94"/><circle cx="2160.95" cy="218.48" r="6.94"/><circle cx="2161.95" cy="212.64" r="6.94"/><circle cx="2162.95" cy="197.27" r="6.94"/><circle cx="2163.94" cy="224.7" r="6.94"/><circle cx="2164.93" cy="185.76" r="6.94"/><circle cx="2165.93" cy="201.55" r="6.94"/><circle cx="2166.93" cy="215.59" r="6.94"/><circle cx="2167.92" cy="220.61" r="6.94"/><circle cx="2168.91" cy="237.42" r="6.94"/><circle cx="2169.91" cy="232.7" r="6.94"/><circle cx="2170.91" cy="128.5" r="6.94"/><circle cx="2171.9" cy="155.5" r="6.94"/><circle cx="2172.89" cy="193.7" r="6.94"/><circle cx="2173.89" cy="262.5" r="6.94"/><circle cx="2174.89" cy="223.55" r="6.94"/><circle cx="2175.88" cy="216.5" r="6.94"/><circle cx="2176.88" cy="178.58" r="6.94"/><circle cx="2177.87" cy="188.58" r="6.94"/><circle cx="2178.86" cy="214.18" r="6.94"/><circle cx="2179.86" cy="190.88" r="6.94"/><circle cx="2180.86" cy="171.78" r="6.94"/><circle cx="2181.85" cy="182.3" r="6.94"/><circle cx="2182.84" cy="177.55" r="6.94"/><circle cx="2183.84" cy="178.57" r="6.94"/><circle cx="2184.84" cy="190.32" r="6.94"/><circle cx="2185.83" cy="134" r="6.94"/><circle cx="2186.82" cy="187.9" r="6.94"/><circle cx="2187.82" cy="157.46" r="6.94"/><circle cx="2188.82" cy="162.3" r="6.94"/><circle cx="2189.81" cy="127.5" r="6.94"/><circle cx="2190.8" cy="177.62" r="6.94"/><circle cx="2191.8" cy="165.36" r="6.94"/><circle cx="2192.8" cy="212.5" r="6.94"/><circle cx="2193.79" cy="165.53" r="6.94"/><circle cx="2194.78" cy="165.48" r="6.94"/><circle cx="2195.78" cy="160.81" r="6.94"/><circle cx="2196.78" cy="178.7" r="6.94"/><circle cx="2197.77" cy="160.29" r="6.94"/><circle cx="2198.76" cy="184.75" r="6.94"/><circle cx="2199.76" cy="177.84" r="6.94"/><circle cx="2200.76" cy="183.94" r="6.94"/><circle cx="2201.75" cy="172.6" r="6.94"/><circle cx="2202.74" cy="168.4" r="6.94"/><circle cx="2203.74" cy="127.5" r="6.94"/><circle cx="2204.74" cy="181.35" r="6.94"/><circle cx="2205.73" cy="192.17" r="6.94"/><circle cx="2206.72" cy="113.5" r="6.94"/><circle cx="2207.72" cy="175.12" r="6.94"/><circle cx="2208.72" cy="154.44" r="6.94"/><circle cx="2209.71" cy="158.08" r="6.94"/><circle cx="2210.7" cy="187.74" r="6.94"/><circle cx="2211.7" cy="202.5" r="6.94"/><circle cx="2212.7" cy="157.83" r="6.94"/><circle cx="2213.69" cy="210.5" r="6.94"/><circle cx="2214.68" cy="208.97" r="6.94"/><circle cx="2215.68" cy="148.69" r="6.94"/><circle cx="2216.68" cy="182.31" r="6.94"/><circle cx="2217.67" cy="170.69" r="6.94"/><circle cx="2218.66" cy="167.77" r="6.94"/><circle cx="2219.66" cy="156.58" r="6.94"/><circle cx="2220.66" cy="136.34" r="6.94"/><circle cx="2221.65" cy="142.51" r="6.94"/><circle cx="2222.64" cy="169.42" r="6.94"/><circle cx="2223.64" cy="145.96" r="6.94"/><circle cx="2224.64" cy="211.5" r="6.94"/><circle cx="2225.63" cy="115" r="6.94"/><circle cx="2226.62" cy="146.81" r="6.94"/><circle cx="2227.62" cy="113" r="6.94"/><circle cx="2228.61" cy="143.21" r="6.94"/><circle cx="2229.61" cy="112" r="6.94"/><circle cx="2230.61" cy="157.4" r="6.94"/><circle cx="2231.6" cy="174.51" r="6.94"/><circle cx="2232.59" cy="162.48" r="6.94"/><circle cx="2233.59" cy="147.79" r="6.94"/><circle cx="2234.59" cy="158.18" r="6.94"/><circle cx="2235.58" cy="109" r="6.94"/><circle cx="2236.57" cy="147.74" r="6.94"/><circle cx="2237.57" cy="148.83" r="6.94"/><circle cx="2238.57" cy="122" r="6.94"/><circle cx="2239.56" cy="130.5" r="6.94"/><circle cx="2240.55" cy="149.39" r="6.94"/><circle cx="2241.55" cy="168.9" r="6.94"/><circle cx="2242.55" cy="142" r="6.94"/><circle cx="2243.54" cy="169.33" r="6.94"/><circle cx="2244.53" cy="147.5" r="6.94"/><circle cx="2245.53" cy="172" r="6.94"/><circle cx="2246.53" cy="192" r="6.94"/><circle cx="2247.52" cy="189.84" r="6.94"/><circle cx="2248.51" cy="204.5" r="6.94"/><circle cx="2249.51" cy="175.27" r="6.94"/><circle cx="2250.51" cy="186.5" r="6.94"/><circle cx="2251.5" cy="186.04" r="6.94"/><circle cx="2252.49" cy="192.95" r="6.94"/><circle cx="2253.49" cy="180.53" r="6.94"/><circle cx="2254.49" cy="193.87" r="6.94"/><circle cx="2255.48" cy="186.52" r="6.94"/><circle cx="2256.47" cy="200.02" r="6.94"/><circle cx="2257.47" cy="184.91" r="6.94"/><circle cx="2258.47" cy="202.5" r="6.94"/><circle cx="2259.46" cy="188.99" r="6.94"/><circle cx="2260.45" cy="185.44" r="6.94"/><circle cx="2261.45" cy="180.65" r="6.94"/><circle cx="2262.45" cy="201.76" r="6.94"/><circle cx="2263.44" cy="182.6" r="6.94"/><circle cx="2264.43" cy="175.52" r="6.94"/><circle cx="2265.43" cy="167.84" r="6.94"/><circle cx="2266.43" cy="161.14" r="6.94"/><circle cx="2267.42" cy="175.12" r="6.94"/><circle cx="2268.41" cy="176.59" r="6.94"/><circle cx="2269.41" cy="190.1" r="6.94"/><circle cx="2270.41" cy="204" r="6.94"/><circle cx="2271.4" cy="159.07" r="6.94"/><circle cx="2272.39" cy="184.17" r="6.94"/><circle cx="2273.39" cy="174.79" r="6.94"/><circle cx="2274.39" cy="171.59" r="6.94"/><circle cx="2275.38" cy="199.76" r="6.94"/><circle cx="2276.38" cy="186.29" r="6.94"/><circle cx="2277.37" cy="187.74" r="6.94"/><circle cx="2278.36" cy="164.97" r="6.94"/><circle cx="2279.36" cy="152.52" r="6.94"/><circle cx="2280.36" cy="167.8" r="6.94"/><circle cx="2281.35" cy="197" r="6.94"/><circle cx="2282.34" cy="173.27" r="6.94"/><circle cx="2283.34" cy="190.21" r="6.94"/><circle cx="2284.34" cy="189.21" r="6.94"/><circle cx="2285.33" cy="184.13" r="6.94"/><circle cx="2286.32" cy="186.86" r="6.94"/><circle cx="2287.32" cy="163.34" r="6.94"/><circle cx="2288.32" cy="194.2" r="6.94"/><circle cx="2289.31" cy="179.82" r="6.94"/><circle cx="2290.3" cy="184.89" r="6.94"/><circle cx="2291.3" cy="189.06" r="6.94"/><circle cx="2292.3" cy="186.8" r="6.94"/><circle cx="2293.29" cy="169.86" r="6.94"/><circle cx="2294.28" cy="123.24" r="6.94"/><circle cx="2295.28" cy="124.54" r="6.94"/><circle cx="2296.28" cy="123.5" r="6.94"/><circle cx="2297.27" cy="123.27" r="6.94"/><circle cx="2298.26" cy="124.29" r="6.94"/><circle cx="2299.26" cy="123.44" r="6.94"/><circle cx="2300.26" cy="124.63" r="6.94"/><circle cx="2301.25" cy="124.15" r="6.94"/><circle cx="2302.24" cy="125.59" r="6.94"/><circle cx="2303.24" cy="123.83" r="6.94"/><circle cx="2304.24" cy="123.85" r="6.94"/><circle cx="2305.23" cy="125.83" r="6.94"/><circle cx="2306.22" cy="124.19" r="6.94"/><circle cx="2307.22" cy="126.67" r="6.94"/><circle cx="2308.22" cy="195.5" r="6.94"/><circle cx="2309.21" cy="128.75" r="6.94"/><circle cx="2310.2" cy="127.51" r="6.94"/><circle cx="2311.2" cy="128.84" r="6.94"/><circle cx="2312.2" cy="128.5" r="6.94"/><circle cx="2313.19" cy="129.32" r="6.94"/><circle cx="2314.18" cy="129.39" r="6.94"/><circle cx="2315.18" cy="128.77" r="6.94"/><circle cx="2316.18" cy="128.15" r="6.94"/><circle cx="2317.17" cy="127.54" r="6.94"/><circle cx="2318.16" cy="126.92" r="6.94"/><circle cx="2319.16" cy="126.31" r="6.94"/><circle cx="2320.15" cy="125.69" r="6.94"/><circle cx="2321.15" cy="125.07" r="6.94"/><circle cx="2322.14" cy="124.46" r="6.94"/><circle cx="2323.14" cy="123.84" r="6.94"/><circle cx="2324.14" cy="123.23" r="6.94"/><circle cx="2325.13" cy="124.11" r="6.94"/><circle cx="2326.12" cy="155" r="6.94"/><circle cx="2327.12" cy="127.31" r="6.94"/><circle cx="2328.11" cy="128.91" r="6.94"/><circle cx="2329.11" cy="129.52" r="6.94"/><circle cx="2330.11" cy="130.53" r="6.94"/><circle cx="2331.1" cy="137.4" r="6.94"/><circle cx="2332.09" cy="149.65" r="6.94"/><circle cx="2333.09" cy="155.2" r="6.94"/><circle cx="2334.09" cy="162.25" r="6.94"/><circle cx="2335.08" cy="186.5" r="6.94"/><circle cx="2336.07" cy="186.5" r="6.94"/><circle cx="2337.07" cy="186.5" r="6.94"/><circle cx="2338.07" cy="186.5" r="6.94"/><circle cx="2339.06" cy="186.5" r="6.94"/><circle cx="2340.05" cy="186.5" r="6.94"/><circle cx="2341.05" cy="186.5" r="6.94"/><circle cx="2342.05" cy="186.5" r="6.94"/><circle cx="2343.04" cy="186.5" r="6.94"/><circle cx="2344.03" cy="178.54" r="6.94"/><circle cx="2345.03" cy="155.71" r="6.94"/><circle cx="2346.03" cy="154.85" r="6.94"/><circle cx="2347.02" cy="154.04" r="6.94"/><circle cx="2348.01" cy="156.03" r="6.94"/><circle cx="2349.01" cy="158.02" r="6.94"/><circle cx="2350.01" cy="160" r="6.94"/>
</g></g>
</g>
<g>
<rect x="132.1" y="663" width="323.8" height="444.9" fill="#eaeaf2"/>
<g stroke="#ffffff" stroke-width="3" shape-rendering="crispEdges" clip-path="url(#c5)">
<line x1="145.5" y1="663" x2="145.5" y2="1107.9"/>
<line x1="344.5" y1="663" x2="344.5" y2="1107.9"/>
<line x1="132.1" y1="686.5" x2="455.9" y2="686.5"/>
<line x1="132.1" y1="785.5" x2="455.9" y2="785.5"/>
<line x1="132.1" y1="884.5" x2="455.9" y2="884.5"/>
<line x1="132.1" y1="983.5" x2="455.9" y2="983.5"/>
<line x1="132.1" y1="1082.5" x2="455.9" y2="1082.5"/>
</g>
<g font-family="'DejaVu Sans', 'Liberation Sans', sans-serif" font-size="30.56px" fill="#262626">
<text x="144.7" y="1157.9" text-anchor="middle">0</text>
<text x="343.7" y="1157.9" text-anchor="middle">200</text>
<text x="104" y="697" text-anchor="end">0.14</text>
<text x="104" y="796" text-anchor="end">0.12</text>
<text x="104" y="895" text-anchor="end">0.10</text>
<text x="104" y="994" text-anchor="end">0.08</text>
<text x="104" y="1093" text-anchor="end">0.06</text>
</g>
<text x="294" y="643.8" text-anchor="middle" font-family="'DejaVu Sans', 'Liberation Sans', sans-serif" font-size="33.33px" fill="#262626">val Box</text>
<g clip-path="url(#c5)">
<polyline fill="none" stroke="#4c72b0" stroke-width="5.56" stroke-linejoin="round" stroke-linecap="round" points="145.5,876.5 146.5,829.5 147.49,860 148.49,681.4 149.48,870 150.47,845 151.47,860 152.47,852.5 153.46,867 154.46,887 155.45,907.5 156.44,913.5 157.44,890 158.44,912 159.43,895 160.43,918 161.42,900 162.41,922 163.41,928.5 164.41,895 165.4,876 166.4,910 167.39,903 168.38,925 169.38,915 170.38,930 171.37,925 172.37,920.5 173.36,935 174.35,940 175.35,934 176.34,949.91 177.34,937.34 178.34,950.96 179.33,940.99 180.32,957.72 181.32,965 182.31,955.82 183.31,953.25 184.31,949.27 185.3,954.25 186.3,944.3 187.29,945.29 188.28,945 189.28,956.28 190.28,961.82 191.27,963 192.26,959.6 193.26,1001 194.25,1004.33 195.25,1006.21 196.25,1001.28 197.24,1005.6 198.24,1001.47 199.23,1024 200.22,993.4 201.22,1005.98 202.22,1023.37 203.21,1011.3 204.2,1012.07 205.2,1013.82 206.19,1024.17 207.19,1020.41 208.19,1011.24 209.18,1014.7 210.18,1026.83 211.17,1020.62 212.17,1028.37 213.16,1030.14 214.16,1014.34 215.15,1030.44 216.14,1032.7 217.14,1010.39 218.13,1026.55 219.13,1019.64 220.12,1020.95 221.12,1037 222.12,1037.19 223.11,1022.88 224.11,1034.19 225.1,1031.64 226.09,1030.84 227.09,1028.12 228.08,1017.57 229.08,1033.24 230.07,1033.84 231.07,1020.15 232.06,1035 233.06,1021.61 234.06,1045 235.05,1041.6 236.05,1045 237.04,1028.54 238.03,1027.28 239.03,1027.97 240.03,1045 241.02,1039.19 242.01,1030.15 243.01,1041.97 244,1038.4 245,1038.17 246,1037.64 246.99,1033.99 247.99,1039.81 248.98,1042.25 249.97,1047.36 250.97,1043.1 251.97,1044.84 252.96,1050.31 253.95,1047.2 254.95,1048.37 255.94,1047.95 256.94,1055.34 257.94,1060 258.93,1055.92 259.93,1055.94 260.92,1045.18 261.92,1054.13 262.91,1050.38 263.9,1048.04 264.9,1053.49 265.89,1050.87 266.89,1054.81 267.88,1051.32 268.88,1049.55 269.88,1050.89 270.87,1048.25 271.87,1050.92 272.86,1051.52 273.86,1057.41 274.85,1057.97 275.85,1054.46 276.84,1061 277.84,1058.45 278.83,1056.68 279.82,1055.5 280.82,1056.08 281.81,1054.46 282.81,1055.18 283.81,1054.95 284.8,1052.36 285.79,1051.09 286.79,1051.17 287.78,1052.25 288.78,1053.61 289.77,1052.94 290.77,1052.12 291.76,1052.58 292.76,1052.45 293.75,1054.33 294.75,1056.02 295.75,1054.52 296.74,1056.52 297.74,1057.16 298.73,1057.74 299.73,1056.13 300.72,1056.85 301.72,1061.1 302.71,1059.76 303.71,1063.53 304.7,1061.89 305.69,1063.84 306.69,1065.5 307.69,1064.93 308.68,1070 309.68,1065.63 310.67,1067.72 311.66,1069.24 312.66,1067.55 313.65,1067.04 314.65,1067.28 315.64,1065.84 316.64,1066.3 317.63,1066.66 318.63,1064.75 319.62,1065.51 320.62,1066.39 321.62,1068.8 322.61,1066.47 323.61,1067.78 324.6,1067.34 325.6,1067.52 326.59,1068.3 327.59,1067.79 328.58,1069.8 329.57,1069.05 330.57,1068.5 331.56,1069.79 332.56,1070.16 333.56,1070.71 334.55,1070.91 335.54,1070.67 336.54,1070.9 337.53,1071.08 338.53,1071.22 339.52,1071.1 340.52,1071.51 341.51,1072.26 342.51,1072.65 343.5,1073.01 344.5,1073.57 345.5,1074.14 346.49,1074.21 347.49,1074.72 348.48,1074.82 349.48,1075.49 350.47,1076.19 351.47,1076.37 352.46,1076.82 353.46,1077.19 354.45,1077.56 355.44,1078.18 356.44,1078.4 357.44,1078.95 358.43,1079.34 359.43,1079.76 360.42,1080.11 361.41,1080.35 362.41,1080.6 363.4,1080.85 364.4,1081.1 365.39,1081.35 366.39,1081.6 367.38,1081.85 368.38,1082.1 369.38,1082.34 370.37,1082.59 371.37,1082.84 372.36,1083.09 373.36,1083.34 374.35,1083.59 375.35,1083.84 376.34,1084.09 377.34,1084.33 378.33,1084.58 379.32,1084.83 380.32,1085.03 381.31,1085.13 382.31,1085.23 383.31,1085.33 384.3,1085.43 385.29,1085.53 386.29,1085.63 387.28,1085.73 388.28,1085.83 389.27,1085.93 390.27,1086.03 391.26,1086.13 392.26,1086.23 393.25,1086.33 394.25,1086.42 395.25,1086.52 396.24,1086.62 397.24,1086.72 398.23,1086.82 399.23,1086.92 400.22,1087.01 401.22,1087.06 402.21,1087.11 403.2,1087.16 404.2,1087.21 405.19,1087.26 406.19,1087.31 407.19,1087.36 408.18,1087.41 409.18,1087.46 410.17,1087.51 411.17,1087.56 412.16,1087.61 413.15,1087.66 414.15,1087.71 415.14,1087.76 416.14,1087.81 417.13,1087.86 418.13,1087.91 419.12,1087.96 420.12,1088.01 421.12,1088.05 422.11,1088.09 423.11,1088.13 424.1,1088.18 425.09,1088.22 426.09,1088.26 427.08,1088.31 428.08,1088.35 429.07,1088.39 430.07,1088.44 431.06,1088.48 432.06,1088.52 433.06,1088.57 434.05,1088.61 435.05,1088.65 436.04,1088.7 437.04,1088.74 438.03,1088.78 439.02,1088.83 440.02,1088.87 441.01,1088.91 442.01,1088.96 443,1089"/>
<g fill="#4c72b0">
<circle cx="145.5" cy="876.5" r="6.94"/><circle cx="146.5" cy="829.5" r="6.94"/><circle cx="147.49" cy="860" r="6.94"/><circle cx="148.49" cy="681.4" r="6.94"/><circle cx="149.48" cy="870" r="6.94"/><circle cx="150.47" cy="845" r="6.94"/><circle cx="151.47" cy="860" r="6.94"/><circle cx="152.47" cy="852.5" r="6.94"/><circle cx="153.46" cy="867" r="6.94"/><circle cx="154.46" cy="887" r="6.94"/><circle cx="155.45" cy="907.5" r="6.94"/><circle cx="156.44" cy="913.5" r="6.94"/><circle cx="157.44" cy="890" r="6.94"/><circle cx="158.44" cy="912" r="6.94"/><circle cx="159.43" cy="895" r="6.94"/><circle cx="160.43" cy="918" r="6.94"/><circle cx="161.42" cy="900" r="6.94"/><circle cx="162.41" cy="922" r="6.94"/><circle cx="163.41" cy="928.5" r="6.94"/><circle cx="164.41" cy="895" r="6.94"/><circle cx="165.4" cy="876" r="6.94"/><circle cx="166.4" cy="910" r="6.94"/><circle cx="167.39" cy="903" r="6.94"/><circle cx="168.38" cy="925" r="6.94"/><circle cx="169.38" cy="915" r="6.94"/><circle cx="170.38" cy="930" r="6.94"/><circle cx="171.37" cy="925" r="6.94"/><circle cx="172.37" cy="920.5" r="6.94"/><circle cx="173.36" cy="935" r="6.94"/><circle cx="174.35" cy="940" r="6.94"/><circle cx="175.35" cy="934" r="6.94"/><circle cx="176.34" cy="949.91" r="6.94"/><circle cx="177.34" cy="937.34" r="6.94"/><circle cx="178.34" cy="950.96" r="6.94"/><circle cx="179.33" cy="940.99" r="6.94"/><circle cx="180.32" cy="957.72" r="6.94"/><circle cx="181.32" cy="965" r="6.94"/><circle cx="182.31" cy="955.82" r="6.94"/><circle cx="183.31" cy="953.25" r="6.94"/><circle cx="184.31" cy="949.27" r="6.94"/><circle cx="185.3" cy="954.25" r="6.94"/><circle cx="186.3" cy="944.3" r="6.94"/><circle cx="187.29" cy="945.29" r="6.94"/><circle cx="188.28" cy="945" r="6.94"/><circle cx="189.28" cy="956.28" r="6.94"/><circle cx="190.28" cy="961.82" r="6.94"/><circle cx="191.27" cy="963" r="6.94"/><circle cx="192.26" cy="959.6" r="6.94"/><circle cx="193.26" cy="1001" r="6.94"/><circle cx="194.25" cy="1004.33" r="6.94"/><circle cx="195.25" cy="1006.21" r="6.94"/><circle cx="196.25" cy="1001.28" r="6.94"/><circle cx="197.24" cy="1005.6" r="6.94"/><circle cx="198.24" cy="1001.47" r="6.94"/><circle cx="199.23" cy="1024" r="6.94"/><circle cx="200.22" cy="993.4" r="6.94"/><circle cx="201.22" cy="1005.98" r="6.94"/><circle cx="202.22" cy="1023.37" r="6.94"/><circle cx="203.21" cy="1011.3" r="6.94"/><circle cx="204.2" cy="1012.07" r="6.94"/><circle cx="205.2" cy="1013.82" r="6.94"/><circle cx="206.19" cy="1024.17" r="6.94"/><circle cx="207.19" cy="1020.41" r="6.94"/><circle cx="208.19" cy="1011.24" r="6.94"/><circle cx="209.18" cy="1014.7" r="6.94"/><circle cx="210.18" cy="1026.83" r="6.94"/><circle cx="211.17" cy="1020.62" r="6.94"/><circle cx="212.17" cy="1028.37" r="6.94"/><circle cx="213.16" cy="1030.14" r="6.94"/><circle cx="214.16" cy="1014.34" r="6.94"/><circle cx="215.15" cy="1030.44" r="6.94"/><circle cx="216.14" cy="1032.7" r="6.94"/><circle cx="217.14" cy="1010.39" r="6.94"/><circle cx="218.13" cy="1026.55" r="6.94"/><circle cx="219.13" cy="1019.64" r="6.94"/><circle cx="220.12" cy="1020.95" r="6.94"/><circle cx="221.12" cy="1037" r="6.94"/><circle cx="222.12" cy="1037.19" r="6.94"/><circle cx="223.11" cy="1022.88" r="6.94"/><circle cx="224.11" cy="1034.19" r="6.94"/><circle cx="225.1" cy="1031.64" r="6.94"/><circle cx="226.09" cy="1030.84" r="6.94"/><circle cx="227.09" cy="1028.12" r="6.94"/><circle cx="228.08" cy="1017.57" r="6.94"/><circle cx="229.08" cy="1033.24" r="6.94"/><circle cx="230.07" cy="1033.84" r="6.94"/><circle cx="231.07" cy="1020.15" r="6.94"/><circle cx="232.06" cy="1035" r="6.94"/><circle cx="233.06" cy="1021.61" r="6.94"/><circle cx="234.06" cy="1045" r="6.94"/><circle cx="235.05" cy="1041.6" r="6.94"/><circle cx="236.05" cy="1045" r="6.94"/><circle cx="237.04" cy="1028.54" r="6.94"/><circle cx="238.03" cy="1027.28" r="6.94"/><circle cx="239.03" cy="1027.97" r="6.94"/><circle cx="240.03" cy="1045" r="6.94"/><circle cx="241.02" cy="1039.19" r="6.94"/><circle cx="242.01" cy="1030.15" r="6.94"/><circle cx="243.01" cy="1041.97" r="6.94"/><circle cx="244" cy="1038.4" r="6.94"/><circle cx="245" cy="1038.17" r="6.94"/><circle cx="246" cy="1037.64" r="6.94"/><circle cx="246.99" cy="1033.99" r="6.94"/><circle cx="247.99" cy="1039.81" r="6.94"/><circle cx="248.98" cy="1042.25" r="6.94"/><circle cx="249.97" cy="1047.36" r="6.94"/><circle cx="250.97" cy="1043.1" r="6.94"/><circle cx="251.97" cy="1044.84" r="6.94"/><circle cx="252.96" cy="1050.31" r="6.94"/><circle cx="253.95" cy="1047.2" r="6.94"/><circle cx="254.95" cy="1048.37" r="6.94"/><circle cx="255.94" cy="1047.95" r="6.94"/><circle cx="256.94" cy="1055.34" r="6.94"/><circle cx="257.94" cy="1060" r="6.94"/><circle cx="258.93" cy="1055.92" r="6.94"/><circle cx="259.93" cy="1055.94" r="6.94"/><circle cx="260.92" cy="1045.18" r="6.94"/><circle cx="261.92" cy="1054.13" r="6.94"/><circle cx="262.91" cy="1050.38" r="6.94"/><circle cx="263.9" cy="1048.04" r="6.94"/><circle cx="264.9" cy="1053.49" r="6.94"/><circle cx="265.89" cy="1050.87" r="6.94"/><circle cx="266.89" cy="1054.81" r="6.94"/><circle cx="267.88" cy="1051.32" r="6.94"/><circle cx="268.88" cy="1049.55" r="6.94"/><circle cx="269.88" cy="1050.89" r="6.94"/><circle cx="270.87" cy="1048.25" r="6.94"/><circle cx="271.87" cy="1050.92" r="6.94"/><circle cx="272.86" cy="1051.52" r="6.94"/><circle cx="273.86" cy="1057.41" r="6.94"/><circle cx="274.85" cy="1057.97" r="6.94"/><circle cx="275.85" cy="1054.46" r="6.94"/><circle cx="276.84" cy="1061" r="6.94"/><circle cx="277.84" cy="1058.45" r="6.94"/><circle cx="278.83" cy="1056.68" r="6.94"/><circle cx="279.82" cy="1055.5" r="6.94"/><circle cx="280.82" cy="1056.08" r="6.94"/><circle cx="281.81" cy="1054.46" r="6.94"/><circle cx="282.81" cy="1055.18" r="6.94"/><circle cx="283.81" cy="1054.95" r="6.94"/><circle cx="284.8" cy="1052.36" r="6.94"/><circle cx="285.79" cy="1051.09" r="6.94"/><circle cx="286.79" cy="1051.17" r="6.94"/><circle cx="287.78" cy="1052.25" r="6.94"/><circle cx="288.78" cy="1053.61" r="6.94"/><circle cx="289.77" cy="1052.94" r="6.94"/><circle cx="290.77" cy="1052.12" r="6.94"/><circle cx="291.76" cy="1052.58" r="6.94"/><circle cx="292.76" cy="1052.45" r="6.94"/><circle cx="293.75" cy="1054.33" r="6.94"/><circle cx="294.75" cy="1056.02" r="6.94"/><circle cx="295.75" cy="1054.52" r="6.94"/><circle cx="296.74" cy="1056.52" r="6.94"/><circle cx="297.74" cy="1057.16" r="6.94"/><circle cx="298.73" cy="1057.74" r="6.94"/><circle cx="299.73" cy="1056.13" r="6.94"/><circle cx="300.72" cy="1056.85" r="6.94"/><circle cx="301.72" cy="1061.1" r="6.94"/><circle cx="302.71" cy="1059.76" r="6.94"/><circle cx="303.71" cy="1063.53" r="6.94"/><circle cx="304.7" cy="1061.89" r="6.94"/><circle cx="305.69" cy="1063.84" r="6.94"/><circle cx="306.69" cy="1065.5" r="6.94"/><circle cx="307.69" cy="1064.93" r="6.94"/><circle cx="308.68" cy="1070" r="6.94"/><circle cx="309.68" cy="1065.63" r="6.94"/><circle cx="310.67" cy="1067.72" r="6.94"/><circle cx="311.66" cy="1069.24" r="6.94"/><circle cx="312.66" cy="1067.55" r="6.94"/><circle cx="313.65" cy="1067.04" r="6.94"/><circle cx="314.65" cy="1067.28" r="6.94"/><circle cx="315.64" cy="1065.84" r="6.94"/><circle cx="316.64" cy="1066.3" r="6.94"/><circle cx="317.63" cy="1066.66" r="6.94"/><circle cx="318.63" cy="1064.75" r="6.94"/><circle cx="319.62" cy="1065.51" r="6.94"/><circle cx="320.62" cy="1066.39" r="6.94"/><circle cx="321.62" cy="1068.8" r="6.94"/><circle cx="322.61" cy="1066.47" r="6.94"/><circle cx="323.61" cy="1067.78" r="6.94"/><circle cx="324.6" cy="1067.34" r="6.94"/><circle cx="325.6" cy="1067.52" r="6.94"/><circle cx="326.59" cy="1068.3" r="6.94"/><circle cx="327.59" cy="1067.79" r="6.94"/><circle cx="328.58" cy="1069.8" r="6.94"/><circle cx="329.57" cy="1069.05" r="6.94"/><circle cx="330.57" cy="1068.5" r="6.94"/><circle cx="331.56" cy="1069.79" r="6.94"/><circle cx="332.56" cy="1070.16" r="6.94"/><circle cx="333.56" cy="1070.71" r="6.94"/><circle cx="334.55" cy="1070.91" r="6.94"/><circle cx="335.54" cy="1070.67" r="6.94"/><circle cx="336.54" cy="1070.9" r="6.94"/><circle cx="337.53" cy="1071.08" r="6.94"/><circle cx="338.53" cy="1071.22" r="6.94"/><circle cx="339.52" cy="1071.1" r="6.94"/><circle cx="340.52" cy="1071.51" r="6.94"/><circle cx="341.51" cy="1072.26" r="6.94"/><circle cx="342.51" cy="1072.65" r="6.94"/><circle cx="343.5" cy="1073.01" r="6.94"/><circle cx="344.5" cy="1073.57" r="6.94"/><circle cx="345.5" cy="1074.14" r="6.94"/><circle cx="346.49" cy="1074.21" r="6.94"/><circle cx="347.49" cy="1074.72" r="6.94"/><circle cx="348.48" cy="1074.82" r="6.94"/><circle cx="349.48" cy="1075.49" r="6.94"/><circle cx="350.47" cy="1076.19" r="6.94"/><circle cx="351.47" cy="1076.37" r="6.94"/><circle cx="352.46" cy="1076.82" r="6.94"/><circle cx="353.46" cy="1077.19" r="6.94"/><circle cx="354.45" cy="1077.56" r="6.94"/><circle cx="355.44" cy="1078.18" r="6.94"/><circle cx="356.44" cy="1078.4" r="6.94"/><circle cx="357.44" cy="1078.95" r="6.94"/><circle cx="358.43" cy="1079.34" r="6.94"/><circle cx="359.43" cy="1079.76" r="6.94"/><circle cx="360.42" cy="1080.11" r="6.94"/><circle cx="361.41" cy="1080.35" r="6.94"/><circle cx="362.41" cy="1080.6" r="6.94"/><circle cx="363.4" cy="1080.85" r="6.94"/><circle cx="364.4" cy="1081.1" r="6.94"/><circle cx="365.39" cy="1081.35" r="6.94"/><circle cx="366.39" cy="1081.6" r="6.94"/><circle cx="367.38" cy="1081.85" r="6.94"/><circle cx="368.38" cy="1082.1" r="6.94"/><circle cx="369.38" cy="1082.34" r="6.94"/><circle cx="370.37" cy="1082.59" r="6.94"/><circle cx="371.37" cy="1082.84" r="6.94"/><circle cx="372.36" cy="1083.09" r="6.94"/><circle cx="373.36" cy="1083.34" r="6.94"/><circle cx="374.35" cy="1083.59" r="6.94"/><circle cx="375.35" cy="1083.84" r="6.94"/><circle cx="376.34" cy="1084.09" r="6.94"/><circle cx="377.34" cy="1084.33" r="6.94"/><circle cx="378.33" cy="1084.58" r="6.94"/><circle cx="379.32" cy="1084.83" r="6.94"/><circle cx="380.32" cy="1085.03" r="6.94"/><circle cx="381.31" cy="1085.13" r="6.94"/><circle cx="382.31" cy="1085.23" r="6.94"/><circle cx="383.31" cy="1085.33" r="6.94"/><circle cx="384.3" cy="1085.43" r="6.94"/><circle cx="385.29" cy="1085.53" r="6.94"/><circle cx="386.29" cy="1085.63" r="6.94"/><circle cx="387.28" cy="1085.73" r="6.94"/><circle cx="388.28" cy="1085.83" r="6.94"/><circle cx="389.27" cy="1085.93" r="6.94"/><circle cx="390.27" cy="1086.03" r="6.94"/><circle cx="391.26" cy="1086.13" r="6.94"/><circle cx="392.26" cy="1086.23" r="6.94"/><circle cx="393.25" cy="1086.33" r="6.94"/><circle cx="394.25" cy="1086.42" r="6.94"/><circle cx="395.25" cy="1086.52" r="6.94"/><circle cx="396.24" cy="1086.62" r="6.94"/><circle cx="397.24" cy="1086.72" r="6.94"/><circle cx="398.23" cy="1086.82" r="6.94"/><circle cx="399.23" cy="1086.92" r="6.94"/><circle cx="400.22" cy="1087.01" r="6.94"/><circle cx="401.22" cy="1087.06" r="6.94"/><circle cx="402.21" cy="1087.11" r="6.94"/><circle cx="403.2" cy="1087.16" r="6.94"/><circle cx="404.2" cy="1087.21" r="6.94"/><circle cx="405.19" cy="1087.26" r="6.94"/><circle cx="406.19" cy="1087.31" r="6.94"/><circle cx="407.19" cy="1087.36" r="6.94"/><circle cx="408.18" cy="1087.41" r="6.94"/><circle cx="409.18" cy="1087.46" r="6.94"/><circle cx="410.17" cy="1087.51" r="6.94"/><circle cx="411.17" cy="1087.56" r="6.94"/><circle cx="412.16" cy="1087.61" r="6.94"/><circle cx="413.15" cy="1087.66" r="6.94"/><circle cx="414.15" cy="1087.71" r="6.94"/><circle cx="415.14" cy="1087.76" r="6.94"/><circle cx="416.14" cy="1087.81" r="6.94"/><circle cx="417.13" cy="1087.86" r="6.94"/><circle cx="418.13" cy="1087.91" r="6.94"/><circle cx="419.12" cy="1087.96" r="6.94"/><circle cx="420.12" cy="1088.01" r="6.94"/><circle cx="421.12" cy="1088.05" r="6.94"/><circle cx="422.11" cy="1088.09" r="6.94"/><circle cx="423.11" cy="1088.13" r="6.94"/><circle cx="424.1" cy="1088.18" r="6.94"/><circle cx="425.09" cy="1088.22" r="6.94"/><circle cx="426.09" cy="1088.26" r="6.94"/><circle cx="427.08" cy="1088.31" r="6.94"/><circle cx="428.08" cy="1088.35" r="6.94"/><circle cx="429.07" cy="1088.39" r="6.94"/><circle cx="430.07" cy="1088.44" r="6.94"/><circle cx="431.06" cy="1088.48" r="6.94"/><circle cx="432.06" cy="1088.52" r="6.94"/><circle cx="433.06" cy="1088.57" r="6.94"/><circle cx="434.05" cy="1088.61" r="6.94"/><circle cx="435.05" cy="1088.65" r="6.94"/><circle cx="436.04" cy="1088.7" r="6.94"/><circle cx="437.04" cy="1088.74" r="6.94"/><circle cx="438.03" cy="1088.78" r="6.94"/><circle cx="439.02" cy="1088.83" r="6.94"/><circle cx="440.02" cy="1088.87" r="6.94"/><circle cx="441.01" cy="1088.91" r="6.94"/><circle cx="442.01" cy="1088.96" r="6.94"/><circle cx="443" cy="1089" r="6.94"/>
</g></g>
</g>
<g>
<rect x="608.88" y="663" width="323.8" height="444.9" fill="#eaeaf2"/>
<g stroke="#ffffff" stroke-width="3" shape-rendering="crispEdges" clip-path="url(#c6)">
<line x1="622.5" y1="663" x2="622.5" y2="1107.9"/>
<line x1="821.5" y1="663" x2="821.5" y2="1107.9"/>
<line x1="608.88" y1="686.5" x2="932.68" y2="686.5"/>
<line x1="608.88" y1="753.5" x2="932.68" y2="753.5"/>
<line x1="608.88" y1="821.5" x2="932.68" y2="821.5"/>
<line x1="608.88" y1="888.5" x2="932.68" y2="888.5"/>
<line x1="608.88" y1="956.5" x2="932.68" y2="956.5"/>
<line x1="608.88" y1="1023.5" x2="932.68" y2="1023.5"/>
<line x1="608.88" y1="1091.5" x2="932.68" y2="1091.5"/>
</g>
<g font-family="'DejaVu Sans', 'Liberation Sans', sans-serif" font-size="30.56px" fill="#262626">
<text x="621.7" y="1157.9" text-anchor="middle">0</text>
<text x="820.7" y="1157.9" text-anchor="middle">200</text>
<text x="580.78" y="697" text-anchor="end">0.6</text>
<text x="580.78" y="765" text-anchor="end">0.5</text>
<text x="580.78" y="832" text-anchor="end">0.4</text>
<text x="580.78" y="900" text-anchor="end">0.3</text>
<text x="580.78" y="967" text-anchor="end">0.2</text>
<text x="580.78" y="1035" text-anchor="end">0.1</text>
<text x="580.78" y="1102" text-anchor="end">0.0</text>
</g>
<text x="770.78" y="643.8" text-anchor="middle" font-family="'DejaVu Sans', 'Liberation Sans', sans-serif" font-size="33.33px" fill="#262626">val Objectness</text>
<g clip-path="url(#c6)">
<polyline fill="none" stroke="#4c72b0" stroke-width="5.56" stroke-linejoin="round" stroke-linecap="round" points="622.5,1088.56 623.5,1088.67 624.49,1088.36 625.49,681.4 626.48,1088.62 627.48,1088.01 628.47,1088.57 629.47,1088.11 630.46,1088.89 631.46,1088.32 632.45,1088.58 633.45,1088.79 634.44,1088.24 635.43,1088.26 636.43,1088.34 637.42,1088.92 638.42,1088.18 639.41,1088.45 640.41,1088.48 641.4,1088.46 642.4,1088.47 643.39,1088.33 644.39,1088.25 645.38,1088.4 646.38,1088 647.38,1088.94 648.37,1088.31 649.37,1088.37 650.36,1088.3 651.36,1088.57 652.35,1088.19 653.35,1088.11 654.34,1088.6 655.34,1088.49 656.33,1088.27 657.33,1088.78 658.32,1088.55 659.32,1088.57 660.31,1088.28 661.3,1088.23 662.3,1088.45 663.29,1088.24 664.29,1088.46 665.28,1088.64 666.28,1088.7 667.27,1088.47 668.27,1088.46 669.26,1088.52 670.26,1088.5 671.25,1088.22 672.25,1088.07 673.25,1088.72 674.24,1088.39 675.24,1088.34 676.23,1088.61 677.23,1088.71 678.22,1088.77 679.22,1088.47 680.21,1088.15 681.21,1088.79 682.2,1088.25 683.2,1088.53 684.19,1088.36 685.18,1088.65 686.18,1089 687.17,1088.92 688.17,1088.62 689.16,1088.43 690.16,1088.65 691.15,1088.47 692.15,1088.48 693.14,1088.87 694.14,1088.41 695.13,1088.8 696.13,1088.55 697.12,1088.48 698.12,1088.47 699.12,1088.55 700.11,1088.54 701.11,1088.28 702.1,1088.65 703.1,1088.87 704.09,1088.74 705.09,1088.54 706.08,1088.77 707.08,1088.32 708.07,1088.33 709.07,1088.27 710.06,1088.27 711.05,1088.29 712.05,1088.51 713.04,1088.47 714.04,1088.4 715.03,1088.66 716.03,1088.45 717.02,1088.76 718.02,1088.9 719.01,1088.37 720.01,1088.97 721,1088.45 722,1088.48 723,1088.69 723.99,1088.1 724.99,1088.19 725.98,1088.47 726.98,1088.48 727.97,1088.06 728.97,1088.64 729.96,1088.37 730.96,1088.57 731.95,1088.37 732.94,1088.81 733.94,1088.29 734.93,1088.28 735.93,1088.02 736.92,1088.5 737.92,1088.69 738.91,1088.88 739.91,1088.49 740.9,1088.62 741.9,1088.29 742.89,1088.67 743.89,1088.68 744.88,1088.56 745.88,1088.24 746.88,1088.22 747.87,1088.7 748.87,1088.05 749.86,1088.88 750.86,1088.11 751.85,1088.68 752.85,1088 753.84,1088.58 754.84,1088.79 755.83,1088.74 756.83,1088.96 757.82,1088.96 758.82,1088.41 759.81,1088.12 760.81,1088.43 761.8,1088.11 762.79,1088.59 763.79,1088.21 764.78,1088.33 765.78,1088.22 766.77,1088.43 767.77,1088.49 768.76,1088.57 769.76,1088.89 770.75,1088.55 771.75,1088.54 772.75,1088.57 773.74,1088.98 774.74,1088.96 775.73,1088.45 776.73,1088.58 777.72,1088.46 778.72,1088.56 779.71,1088.53 780.71,1088.76 781.7,1088.53 782.69,1089 783.69,1088.8 784.68,1088.47 785.68,1088.33 786.67,1088.66 787.67,1089 788.66,1088.38 789.66,1088.65 790.65,1088.91 791.65,1088.71 792.64,1088.52 793.64,1088.5 794.63,1088.4 795.63,1088.1 796.62,1088.53 797.62,1088.37 798.62,1088.57 799.61,1088.58 800.61,1088.13 801.6,1088.36 802.6,1088.66 803.59,1088.68 804.59,1088.18 805.58,1088.62 806.58,1088.63 807.57,1088.22 808.57,1088.52 809.56,1088.41 810.56,1088.24 811.55,1088.32 812.54,1088.68 813.54,1088.4 814.53,1088.11 815.53,1088.69 816.52,1088.53 817.52,1088.15 818.51,1088.1 819.51,1088.42 820.5,1088.36 821.5,1088.41 822.5,1088.58 823.49,1088.52 824.49,1088.17 825.48,1088.55 826.48,1088.62 827.47,1088.87 828.47,1088.45 829.46,1088.83 830.46,1088.31 831.45,1088.06 832.44,1088.68 833.44,1088.22 834.43,1088.71 835.43,1088.26 836.42,1088.65 837.42,1088.65 838.41,1088.56 839.41,1088.4 840.4,1088.15 841.4,1088.6 842.39,1088.37 843.39,1088.42 844.38,1088.68 845.38,1088 846.38,1088.38 847.37,1088.61 848.37,1088.6 849.36,1088.13 850.36,1088.72 851.35,1088.45 852.35,1089 853.34,1088.69 854.34,1088.73 855.33,1088.66 856.33,1088.06 857.32,1088.58 858.32,1088.52 859.31,1088.02 860.31,1088.29 861.3,1088.38 862.29,1088.35 863.29,1088.27 864.28,1088.36 865.28,1088.18 866.27,1088.94 867.27,1088.29 868.26,1088.3 869.26,1088.4 870.25,1088.36 871.25,1088.04 872.25,1088.42 873.24,1088.03 874.24,1088.46 875.23,1088.35 876.23,1088.61 877.22,1088.54 878.22,1088.8 879.21,1088.31 880.2,1088.37 881.2,1088.98 882.19,1089 883.19,1088.57 884.18,1088.49 885.18,1088.35 886.17,1088.26 887.17,1088.29 888.16,1088.3 889.16,1088.37 890.15,1088.39 891.15,1088.41 892.14,1088.64 893.14,1088.31 894.13,1088.15 895.13,1088.6 896.12,1088.44 897.12,1088.59 898.12,1088.21 899.11,1088.12 900.11,1088.25 901.1,1088.61 902.1,1088.29 903.09,1088.4 904.09,1088.67 905.08,1088.3 906.08,1088.36 907.07,1088.57 908.07,1088.76 909.06,1088.37 910.06,1088.54 911.05,1089 912.05,1088.21 913.04,1088.51 914.04,1088.83 915.03,1088.43 916.02,1088.39 917.02,1088.32 918.01,1088.58 919.01,1088.82 920,1088.58"/>
<g fill="#4c72b0">
<circle cx="622.5" cy="1088.56" r="6.94"/><circle cx="623.5" cy="1088.67" r="6.94"/><circle cx="624.49" cy="1088.36" r="6.94"/><circle cx="625.49" cy="681.4" r="6.94"/><circle cx="626.48" cy="1088.62" r="6.94"/><circle cx="627.48" cy="1088.01" r="6.94"/><circle cx="628.47" cy="1088.57" r="6.94"/><circle cx="629.47" cy="1088.11" r="6.94"/><circle cx="630.46" cy="1088.89" r="6.94"/><circle cx="631.46" cy="1088.32" r="6.94"/><circle cx="632.45" cy="1088.58" r="6.94"/><circle cx="633.45" cy="1088.79" r="6.94"/><circle cx="634.44" cy="1088.24" r="6.94"/><circle cx="635.43" cy="1088.26" r="6.94"/><circle cx="636.43" cy="1088.34" r="6.94"/><circle cx="637.42" cy="1088.92" r="6.94"/><circle cx="638.42" cy="1088.18" r="6.94"/><circle cx="639.41" cy="1088.45" r="6.94"/><circle cx="640.41" cy="1088.48" r="6.94"/><circle cx="641.4" cy="1088.46" r="6.94"/><circle cx="642.4" cy="1088.47" r="6.94"/><circle cx="643.39" cy="1088.33" r="6.94"/><circle cx="644.39" cy="1088.25" r="6.94"/><circle cx="645.38" cy="1088.4" r="6.94"/><circle cx="646.38" cy="1088" r="6.94"/><circle cx="647.38" cy="1088.94" r="6.94"/><circle cx="648.37" cy="1088.31" r="6.94"/><circle cx="649.37" cy="1088.37" r="6.94"/><circle cx="650.36" cy="1088.3" r="6.94"/><circle cx="651.36" cy="1088.57" r="6.94"/><circle cx="652.35" cy="1088.19" r="6.94"/><circle cx="653.35" cy="1088.11" r="6.94"/><circle cx="654.34" cy="1088.6" r="6.94"/><circle cx="655.34" cy="1088.49" r="6.94"/><circle cx="656.33" cy="1088.27" r="6.94"/><circle cx="657.33" cy="1088.78" r="6.94"/><circle cx="658.32" cy="1088.55" r="6.94"/><circle cx="659.32" cy="1088.57" r="6.94"/><circle cx="660.31" cy="1088.28" r="6.94"/><circle cx="661.3" cy="1088.23" r="6.94"/><circle cx="662.3" cy="1088.45" r="6.94"/><circle cx="663.29" cy="1088.24" r="6.94"/><circle cx="664.29" cy="1088.46" r="6.94"/><circle cx="665.28" cy="1088.64" r="6.94"/><circle cx="666.28" cy="1088.7" r="6.94"/><circle cx="667.27" cy="1088.47" r="6.94"/><circle cx="668.27" cy="1088.46" r="6.94"/><circle cx="669.26" cy="1088.52" r="6.94"/><circle cx="670.26" cy="1088.5" r="6.94"/><circle cx="671.25" cy="1088.22" r="6.94"/><circle cx="672.25" cy="1088.07" r="6.94"/><circle cx="673.25" cy="1088.72" r="6.94"/><circle cx="674.24" cy="1088.39" r="6.94"/><circle cx="675.24" cy="1088.34" r="6.94"/><circle cx="676.23" cy="1088.61" r="6.94"/><circle cx="677.23" cy="1088.71" r="6.94"/><circle cx="678.22" cy="1088.77" r="6.94"/><circle cx="679.22" cy="1088.47" r="6.94"/><circle cx="680.21" cy="1088.15" r="6.94"/><circle cx="681.21" cy="1088.79" r="6.94"/><circle cx="682.2" cy="1088.25" r="6.94"/><circle cx="683.2" cy="1088.53" r="6.94"/><circle cx="684.19" cy="1088.36" r="6.94"/><circle cx="685.18" cy="1088.65" r="6.94"/><circle cx="686.18" cy="1089" r="6.94"/><circle cx="687.17" cy="1088.92" r="6.94"/><circle cx="688.17" cy="1088.62" r="6.94"/><circle cx="689.16" cy="1088.43" r="6.94"/><circle cx="690.16" cy="1088.65" r="6.94"/><circle cx="691.15" cy="1088.47" r="6.94"/><circle cx="692.15" cy="1088.48" r="6.94"/><circle cx="693.14" cy="1088.87" r="6.94"/><circle cx="694.14" cy="1088.41" r="6.94"/><circle cx="695.13" cy="1088.8" r="6.94"/><circle cx="696.13" cy="1088.55" r="6.94"/><circle cx="697.12" cy="1088.48" r="6.94"/><circle cx="698.12" cy="1088.47" r="6.94"/><circle cx="699.12" cy="1088.55" r="6.94"/><circle cx="700.11" cy="1088.54" r="6.94"/><circle cx="701.11" cy="1088.28" r="6.94"/><circle cx="702.1" cy="1088.65" r="6.94"/><circle cx="703.1" cy="1088.87" r="6.94"/><circle cx="704.09" cy="1088.74" r="6.94"/><circle cx="705.09" cy="1088.54" r="6.94"/><circle cx="706.08" cy="1088.77" r="6.94"/><circle cx="707.08" cy="1088.32" r="6.94"/><circle cx="708.07" cy="1088.33" r="6.94"/><circle cx="709.07" cy="1088.27" r="6.94"/><circle cx="710.06" cy="1088.27" r="6.94"/><circle cx="711.05" cy="1088.29" r="6.94"/><circle cx="712.05" cy="1088.51" r="6.94"/><circle cx="713.04" cy="1088.47" r="6.94"/><circle cx="714.04" cy="1088.4" r="6.94"/><circle cx="715.03" cy="1088.66" r="6.94"/><circle cx="716.03" cy="1088.45" r="6.94"/><circle cx="717.02" cy="1088.76" r="6.94"/><circle cx="718.02" cy="1088.9" r="6.94"/><circle cx="719.01" cy="1088.37" r="6.94"/><circle cx="720.01" cy="1088.97" r="6.94"/><circle cx="721" cy="1088.45" r="6.94"/><circle cx="722" cy="1088.48" r="6.94"/><circle cx="723" cy="1088.69" r="6.94"/><circle cx="723.99" cy="1088.1" r="6.94"/><circle cx="724.99" cy="1088.19" r="6.94"/><circle cx="725.98" cy="1088.47" r="6.94"/><circle cx="726.98" cy="1088.48" r="6.94"/><circle cx="727.97" cy="1088.06" r="6.94"/><circle cx="728.97" cy="1088.64" r="6.94"/><circle cx="729.96" cy="1088.37" r="6.94"/><circle cx="730.96" cy="1088.57" r="6.94"/><circle cx="731.95" cy="1088.37" r="6.94"/><circle cx="732.94" cy="1088.81" r="6.94"/><circle cx="733.94" cy="1088.29" r="6.94"/><circle cx="734.93" cy="1088.28" r="6.94"/><circle cx="735.93" cy="1088.02" r="6.94"/><circle cx="736.92" cy="1088.5" r="6.94"/><circle cx="737.92" cy="1088.69" r="6.94"/><circle cx="738.91" cy="1088.88" r="6.94"/><circle cx="739.91" cy="1088.49" r="6.94"/><circle cx="740.9" cy="1088.62" r="6.94"/><circle cx="741.9" cy="1088.29" r="6.94"/><circle cx="742.89" cy="1088.67" r="6.94"/><circle cx="743.89" cy="1088.68" r="6.94"/><circle cx="744.88" cy="1088.56" r="6.94"/><circle cx="745.88" cy="1088.24" r="6.94"/><circle cx="746.88" cy="1088.22" r="6.94"/><circle cx="747.87" cy="1088.7" r="6.94"/><circle cx="748.87" cy="1088.05" r="6.94"/><circle cx="749.86" cy="1088.88" r="6.94"/><circle cx="750.86" cy="1088.11" r="6.94"/><circle cx="751.85" cy="1088.68" r="6.94"/><circle cx="752.85" cy="1088" r="6.94"/><circle cx="753.84" cy="1088.58" r="6.94"/><circle cx="754.84" cy="1088.79" r="6.94"/><circle cx="755.83" cy="1088.74" r="6.94"/><circle cx="756.83" cy="1088.96" r="6.94"/><circle cx="757.82" cy="1088.96" r="6.94"/><circle cx="758.82" cy="1088.41" r="6.94"/><circle cx="759.81" cy="1088.12" r="6.94"/><circle cx="760.81" cy="1088.43" r="6.94"/><circle cx="761.8" cy="1088.11" r="6.94"/><circle cx="762.79" cy="1088.59" r="6.94"/><circle cx="763.79" cy="1088.21" r="6.94"/><circle cx="764.78" cy="1088.33" r="6.94"/><circle cx="765.78" cy="1088.22" r="6.94"/><circle cx="766.77" cy="1088.43" r="6.94"/><circle cx="767.77" cy="1088.49" r="6.94"/><circle cx="768.76" cy="1088.57" r="6.94"/><circle cx="769.76" cy="1088.89" r="6.94"/><circle cx="770.75" cy="1088.55" r="6.94"/><circle cx="771.75" cy="1088.54" r="6.94"/><circle cx="772.75" cy="1088.57" r="6.94"/><circle cx="773.74" cy="1088.98" r="6.94"/><circle cx="774.74" cy="1088.96" r="6.94"/><circle cx="775.73" cy="1088.45" r="6.94"/><circle cx="776.73" cy="1088.58" r="6.94"/><circle cx="777.72" cy="1088.46" r="6.94"/><circle cx="778.72" cy="1088.56" r="6.94"/><circle cx="779.71" cy="1088.53" r="6.94"/><circle cx="780.71" cy="1088.76" r="6.94"/><circle cx="781.7" cy="1088.53" r="6.94"/><circle cx="782.69" cy="1089" r="6.94"/><circle cx="783.69" cy="1088.8" r="6.94"/><circle cx="784.68" cy="1088.47" r="6.94"/><circle cx="785.68" cy="1088.33" r="6.94"/><circle cx="786.67" cy="1088.66" r="6.94"/><circle cx="787.67" cy="1089" r="6.94"/><circle cx="788.66" cy="1088.38" r="6.94"/><circle cx="789.66" cy="1088.65" r="6.94"/><circle cx="790.65" cy="1088.91" r="6.94"/><circle cx="791.65" cy="1088.71" r="6.94"/><circle cx="792.64" cy="1088.52" r="6.94"/><circle cx="793.64" cy="1088.5" r="6.94"/><circle cx="794.63" cy="1088.4" r="6.94"/><circle cx="795.63" cy="1088.1" r="6.94"/><circle cx="796.62" cy="1088.53" r="6.94"/><circle cx="797.62" cy="1088.37" r="6.94"/><circle cx="798.62" cy="1088.57" r="6.94"/><circle cx="799.61" cy="1088.58" r="6.94"/><circle cx="800.61" cy="1088.13" r="6.94"/><circle cx="801.6" cy="1088.36" r="6.94"/><circle cx="802.6" cy="1088.66" r="6.94"/><circle cx="803.59" cy="1088.68" r="6.94"/><circle cx="804.59" cy="1088.18" r="6.94"/><circle cx="805.58" cy="1088.62" r="6.94"/><circle cx="806.58" cy="1088.63" r="6.94"/><circle cx="807.57" cy="1088.22" r="6.94"/><circle cx="808.57" cy="1088.52" r="6.94"/><circle cx="809.56" cy="1088.41" r="6.94"/><circle cx="810.56" cy="1088.24" r="6.94"/><circle cx="811.55" cy="1088.32" r="6.94"/><circle cx="812.54" cy="1088.68" r="6.94"/><circle cx="813.54" cy="1088.4" r="6.94"/><circle cx="814.53" cy="1088.11" r="6.94"/><circle cx="815.53" cy="1088.69" r="6.94"/><circle cx="816.52" cy="1088.53" r="6.94"/><circle cx="817.52" cy="1088.15" r="6.94"/><circle cx="818.51" cy="1088.1" r="6.94"/><circle cx="819.51" cy="1088.42" r="6.94"/><circle cx="820.5" cy="1088.36" r="6.94"/><circle cx="821.5" cy="1088.41" r="6.94"/><circle cx="822.5" cy="1088.58" r="6.94"/><circle cx="823.49" cy="1088.52" r="6.94"/><circle cx="824.49" cy="1088.17" r="6.94"/><circle cx="825.48" cy="1088.55" r="6.94"/><circle cx="826.48" cy="1088.62" r="6.94"/><circle cx="827.47" cy="1088.87" r="6.94"/><circle cx="828.47" cy="1088.45" r="6.94"/><circle cx="829.46" cy="1088.83" r="6.94"/><circle cx="830.46" cy="1088.31" r="6.94"/><circle cx="831.45" cy="1088.06" r="6.94"/><circle cx="832.44" cy="1088.68" r="6.94"/><circle cx="833.44" cy="1088.22" r="6.94"/><circle cx="834.43" cy="1088.71" r="6.94"/><circle cx="835.43" cy="1088.26" r="6.94"/><circle cx="836.42" cy="1088.65" r="6.94"/><circle cx="837.42" cy="1088.65" r="6.94"/><circle cx="838.41" cy="1088.56" r="6.94"/><circle cx="839.41" cy="1088.4" r="6.94"/><circle cx="840.4" cy="1088.15" r="6.94"/><circle cx="841.4" cy="1088.6" r="6.94"/><circle cx="842.39" cy="1088.37" r="6.94"/><circle cx="843.39" cy="1088.42" r="6.94"/><circle cx="844.38" cy="1088.68" r="6.94"/><circle cx="845.38" cy="1088" r="6.94"/><circle cx="846.38" cy="1088.38" r="6.94"/><circle cx="847.37" cy="1088.61" r="6.94"/><circle cx="848.37" cy="1088.6" r="6.94"/><circle cx="849.36" cy="1088.13" r="6.94"/><circle cx="850.36" cy="1088.72" r="6.94"/><circle cx="851.35" cy="1088.45" r="6.94"/><circle cx="852.35" cy="1089" r="6.94"/><circle cx="853.34" cy="1088.69" r="6.94"/><circle cx="854.34" cy="1088.73" r="6.94"/><circle cx="855.33" cy="1088.66" r="6.94"/><circle cx="856.33" cy="1088.06" r="6.94"/><circle cx="857.32" cy="1088.58" r="6.94"/><circle cx="858.32" cy="1088.52" r="6.94"/><circle cx="859.31" cy="1088.02" r="6.94"/><circle cx="860.31" cy="1088.29" r="6.94"/><circle cx="861.3" cy="1088.38" r="6.94"/><circle cx="862.29" cy="1088.35" r="6.94"/><circle cx="863.29" cy="1088.27" r="6.94"/><circle cx="864.28" cy="1088.36" r="6.94"/><circle cx="865.28" cy="1088.18" r="6.94"/><circle cx="866.27" cy="1088.94" r="6.94"/><circle cx="867.27" cy="1088.29" r="6.94"/><circle cx="868.26" cy="1088.3" r="6.94"/><circle cx="869.26" cy="1088.4" r="6.94"/><circle cx="870.25" cy="1088.36" r="6.94"/><circle cx="871.25" cy="1088.04" r="6.94"/><circle cx="872.25" cy="1088.42" r="6.94"/><circle cx="873.24" cy="1088.03" r="6.94"/><circle cx="874.24" cy="1088.46" r="6.94"/><circle cx="875.23" cy="1088.35" r="6.94"/><circle cx="876.23" cy="1088.61" r="6.94"/><circle cx="877.22" cy="1088.54" r="6.94"/><circle cx="878.22" cy="1088.8" r="6.94"/><circle cx="879.21" cy="1088.31" r="6.94"/><circle cx="880.2" cy="1088.37" r="6.94"/><circle cx="881.2" cy="1088.98" r="6.94"/><circle cx="882.19" cy="1089" r="6.94"/><circle cx="883.19" cy="1088.57" r="6.94"/><circle cx="884.18" cy="1088.49" r="6.94"/><circle cx="885.18" cy="1088.35" r="6.94"/><circle cx="886.17" cy="1088.26" r="6.94"/><circle cx="887.17" cy="1088.29" r="6.94"/><circle cx="888.16" cy="1088.3" r="6.94"/><circle cx="889.16" cy="1088.37" r="6.94"/><circle cx="890.15" cy="1088.39" r="6.94"/><circle cx="891.15" cy="1088.41" r="6.94"/><circle cx="892.14" cy="1088.64" r="6.94"/><circle cx="893.14" cy="1088.31" r="6.94"/><circle cx="894.13" cy="1088.15" r="6.94"/><circle cx="895.13" cy="1088.6" r="6.94"/><circle cx="896.12" cy="1088.44" r="6.94"/><circle cx="897.12" cy="1088.59" r="6.94"/><circle cx="898.12" cy="1088.21" r="6.94"/><circle cx="899.11" cy="1088.12" r="6.94"/><circle cx="900.11" cy="1088.25" r="6.94"/><circle cx="901.1" cy="1088.61" r="6.94"/><circle cx="902.1" cy="1088.29" r="6.94"/><circle cx="903.09" cy="1088.4" r="6.94"/><circle cx="904.09" cy="1088.67" r="6.94"/><circle cx="905.08" cy="1088.3" r="6.94"/><circle cx="906.08" cy="1088.36" r="6.94"/><circle cx="907.07" cy="1088.57" r="6.94"/><circle cx="908.07" cy="1088.76" r="6.94"/><circle cx="909.06" cy="1088.37" r="6.94"/><circle cx="910.06" cy="1088.54" r="6.94"/><circle cx="911.05" cy="1089" r="6.94"/><circle cx="912.05" cy="1088.21" r="6.94"/><circle cx="913.04" cy="1088.51" r="6.94"/><circle cx="914.04" cy="1088.83" r="6.94"/><circle cx="915.03" cy="1088.43" r="6.94"/><circle cx="916.02" cy="1088.39" r="6.94"/><circle cx="917.02" cy="1088.32" r="6.94"/><circle cx="918.01" cy="1088.58" r="6.94"/><circle cx="919.01" cy="1088.82" r="6.94"/><circle cx="920" cy="1088.58" r="6.94"/>
</g></g>
</g>
<g>
<rect x="1085.66" y="663" width="323.8" height="444.9" fill="#eaeaf2"/>
<g stroke="#ffffff" stroke-width="3" shape-rendering="crispEdges" clip-path="url(#c7)">
<line x1="1098.5" y1="663" x2="1098.5" y2="1107.9"/>
<line x1="1297.5" y1="663" x2="1297.5" y2="1107.9"/>
<line x1="1085.66" y1="743.5" x2="1409.46" y2="743.5"/>
<line x1="1085.66" y1="832.5" x2="1409.46" y2="832.5"/>
<line x1="1085.66" y1="922.5" x2="1409.46" y2="922.5"/>
<line x1="1085.66" y1="1011.5" x2="1409.46" y2="1011.5"/>
<line x1="1085.66" y1="1101.5" x2="1409.46" y2="1101.5"/>
</g>
<g font-family="'DejaVu Sans', 'Liberation Sans', sans-serif" font-size="30.56px" fill="#262626">
<text x="1097.7" y="1157.9" text-anchor="middle">0</text>
<text x="1296.7" y="1157.9" text-anchor="middle">200</text>
<text x="1057.56" y="755" text-anchor="end">0.20</text>
<text x="1057.56" y="844" text-anchor="end">0.15</text>
<text x="1057.56" y="934" text-anchor="end">0.10</text>
<text x="1057.56" y="1023" text-anchor="end">0.05</text>
<text x="1057.56" y="1113" text-anchor="end">0.00</text>
</g>
<text x="1247.56" y="643.8" text-anchor="middle" font-family="'DejaVu Sans', 'Liberation Sans', sans-serif" font-size="33.33px" fill="#262626">val Classification</text>
<g clip-path="url(#c7)">
<polyline fill="none" stroke="#4c72b0" stroke-width="5.56" stroke-linejoin="round" stroke-linecap="round" points="1098.5,1084.59 1099.49,1085.2 1100.49,1073 1101.48,681.4 1102.48,1085.38 1103.47,1085.5 1104.47,1085.15 1105.46,1085.7 1106.46,1085.61 1107.45,1085.47 1108.45,1086.19 1109.44,1086.05 1110.44,1085.97 1111.43,1085.94 1112.43,1086.23 1113.42,1086.65 1114.42,1086.55 1115.41,1087.14 1116.41,1086.94 1117.4,1087.17 1118.4,1087.22 1119.39,1087.11 1120.39,1087.57 1121.38,1087.64 1122.38,1087.38 1123.38,1087.14 1124.37,1087.72 1125.37,1088 1126.36,1087.12 1127.36,1087.45 1128.35,1087.55 1129.35,1087.68 1130.34,1087.28 1131.34,1087.53 1132.33,1087.64 1133.33,1087.74 1134.32,1087.86 1135.32,1087.32 1136.31,1087.29 1137.31,1087.29 1138.3,1087.4 1139.3,1087.43 1140.29,1087.27 1141.29,1087.81 1142.28,1087.12 1143.28,1087.05 1144.27,1087.42 1145.27,1087.52 1146.26,1087.59 1147.26,1087.27 1148.25,1087.15 1149.24,1087.58 1150.24,1087.18 1151.23,1087.54 1152.23,1087.61 1153.22,1087.32 1154.22,1087.62 1155.21,1087.53 1156.21,1087.43 1157.2,1087.71 1158.2,1087.51 1159.19,1087.7 1160.19,1087.51 1161.18,1087.58 1162.18,1087.27 1163.17,1087.09 1164.17,1087.58 1165.16,1086.84 1166.16,1086.82 1167.15,1087.12 1168.15,1087.02 1169.14,1086.76 1170.14,1086.66 1171.13,1086.37 1172.13,1086.69 1173.12,1086.66 1174.12,1086.51 1175.12,1086.63 1176.11,1086.26 1177.11,1086.27 1178.1,1086.39 1179.1,1086.22 1180.09,1086.03 1181.09,1086.09 1182.08,1085.99 1183.08,1085.97 1184.07,1085.84 1185.07,1085.68 1186.06,1085.56 1187.06,1085.68 1188.05,1085.76 1189.05,1085.85 1190.04,1085.83 1191.04,1085.76 1192.03,1085.72 1193.03,1085.25 1194.02,1085.37 1195.02,1085.65 1196.01,1085.37 1197.01,1085.5 1198,1085.21 1198.99,1085.42 1199.99,1084.88 1200.98,1085.61 1201.98,1084.85 1202.97,1084.96 1203.97,1085.09 1204.96,1084.74 1205.96,1085 1206.95,1085.15 1207.95,1085.37 1208.94,1084.24 1209.94,1085.6 1210.93,1084.5 1211.93,1084.38 1212.92,1084.78 1213.92,1085.05 1214.91,1084.42 1215.91,1084.75 1216.9,1084.57 1217.9,1085.2 1218.89,1084.05 1219.89,1084.6 1220.88,1083.76 1221.88,1085.02 1222.88,1084.81 1223.87,1084.85 1224.87,1084.13 1225.86,1084.12 1226.86,1084.33 1227.85,1084.3 1228.85,1083.73 1229.84,1084.4 1230.84,1085.03 1231.83,1083.95 1232.83,1083.69 1233.82,1085.12 1234.82,1084.12 1235.81,1083.71 1236.81,1083.62 1237.8,1084.59 1238.8,1084.45 1239.79,1084 1240.79,1080 1241.78,1083.83 1242.78,1083.32 1243.77,1083.91 1244.76,1083.56 1245.76,1083.44 1246.76,1084.33 1247.75,1083.6 1248.74,1084.54 1249.74,1083.16 1250.73,1083.83 1251.73,1084.26 1252.72,1083.98 1253.72,1083.68 1254.71,1084.05 1255.71,1084.17 1256.7,1083.81 1257.7,1084.67 1258.69,1083.31 1259.69,1083.33 1260.68,1084.21 1261.68,1084.28 1262.67,1084.33 1263.67,1084.2 1264.66,1084.12 1265.66,1084.06 1266.65,1084.04 1267.65,1084.25 1268.64,1084.04 1269.64,1083.57 1270.63,1084.28 1271.63,1083.97 1272.62,1084.04 1273.62,1084.12 1274.62,1084.05 1275.61,1083.83 1276.61,1084.02 1277.6,1084.18 1278.6,1083.92 1279.59,1084.04 1280.59,1084.07 1281.58,1084 1282.58,1083.8 1283.57,1084.04 1284.57,1083.92 1285.56,1083.99 1286.56,1083.94 1287.55,1084.11 1288.55,1084 1289.54,1083.97 1290.54,1084.01 1291.53,1083.99 1292.53,1083.94 1293.52,1084.09 1294.51,1083.91 1295.51,1084.02 1296.51,1084.02 1297.5,1083.99 1298.49,1084 1299.49,1084 1300.48,1083.99 1301.48,1083.98 1302.47,1083.97 1303.47,1083.98 1304.46,1084 1305.46,1083.98 1306.45,1083.92 1307.45,1083.81 1308.44,1083.87 1309.44,1083.83 1310.43,1083.9 1311.43,1083.98 1312.42,1083.73 1313.42,1083.73 1314.41,1083.77 1315.41,1083.61 1316.4,1083.66 1317.4,1083.97 1318.39,1083.9 1319.39,1083.69 1320.38,1083.84 1321.38,1083.78 1322.38,1083.62 1323.37,1083.54 1324.37,1083.68 1325.36,1083.73 1326.36,1083.72 1327.35,1083.64 1328.35,1083.92 1329.34,1083.48 1330.34,1084 1331.33,1083.56 1332.33,1083.43 1333.32,1083.6 1334.32,1083.63 1335.31,1083.53 1336.31,1083.41 1337.3,1083.68 1338.3,1083.51 1339.29,1083.3 1340.29,1083.66 1341.28,1083.61 1342.28,1083.27 1343.27,1083.46 1344.26,1083.52 1345.26,1083.43 1346.26,1083.35 1347.25,1083.12 1348.24,1083.45 1349.24,1083.2 1350.23,1083.82 1351.23,1083.31 1352.22,1083.23 1353.22,1083.64 1354.21,1083.75 1355.21,1083.45 1356.2,1083.34 1357.2,1083.09 1358.19,1083.44 1359.19,1083.43 1360.18,1083.01 1361.18,1082.99 1362.17,1083.46 1363.17,1083.27 1364.16,1083.2 1365.16,1083.39 1366.15,1083.45 1367.15,1083.21 1368.14,1082.85 1369.14,1082.92 1370.13,1083.39 1371.13,1082.9 1372.12,1082.94 1373.12,1083.14 1374.12,1083.08 1375.11,1082.66 1376.11,1082.36 1377.1,1082.34 1378.1,1083.32 1379.09,1082.87 1380.09,1082.71 1381.08,1083.23 1382.08,1082.87 1383.07,1082.51 1384.07,1082.73 1385.06,1082.5 1386.06,1082.38 1387.05,1082.93 1388.05,1082.79 1389.04,1082.68 1390.04,1082.8 1391.03,1082.86 1392.03,1082.58 1393.02,1082.63 1394.01,1082.04 1395.01,1082.41 1396.01,1082.19"/>
<g fill="#4c72b0">
<circle cx="1098.5" cy="1084.59" r="6.94"/><circle cx="1099.49" cy="1085.2" r="6.94"/><circle cx="1100.49" cy="1073" r="6.94"/><circle cx="1101.48" cy="681.4" r="6.94"/><circle cx="1102.48" cy="1085.38" r="6.94"/><circle cx="1103.47" cy="1085.5" r="6.94"/><circle cx="1104.47" cy="1085.15" r="6.94"/><circle cx="1105.46" cy="1085.7" r="6.94"/><circle cx="1106.46" cy="1085.61" r="6.94"/><circle cx="1107.45" cy="1085.47" r="6.94"/><circle cx="1108.45" cy="1086.19" r="6.94"/><circle cx="1109.44" cy="1086.05" r="6.94"/><circle cx="1110.44" cy="1085.97" r="6.94"/><circle cx="1111.43" cy="1085.94" r="6.94"/><circle cx="1112.43" cy="1086.23" r="6.94"/><circle cx="1113.42" cy="1086.65" r="6.94"/><circle cx="1114.42" cy="1086.55" r="6.94"/><circle cx="1115.41" cy="1087.14" r="6.94"/><circle cx="1116.41" cy="1086.94" r="6.94"/><circle cx="1117.4" cy="1087.17" r="6.94"/><circle cx="1118.4" cy="1087.22" r="6.94"/><circle cx="1119.39" cy="1087.11" r="6.94"/><circle cx="1120.39" cy="1087.57" r="6.94"/><circle cx="1121.38" cy="1087.64" r="6.94"/><circle cx="1122.38" cy="1087.38" r="6.94"/><circle cx="1123.38" cy="1087.14" r="6.94"/><circle cx="1124.37" cy="1087.72" r="6.94"/><circle cx="1125.37" cy="1088" r="6.94"/><circle cx="1126.36" cy="1087.12" r="6.94"/><circle cx="1127.36" cy="1087.45" r="6.94"/><circle cx="1128.35" cy="1087.55" r="6.94"/><circle cx="1129.35" cy="1087.68" r="6.94"/><circle cx="1130.34" cy="1087.28" r="6.94"/><circle cx="1131.34" cy="1087.53" r="6.94"/><circle cx="1132.33" cy="1087.64" r="6.94"/><circle cx="1133.33" cy="1087.74" r="6.94"/><circle cx="1134.32" cy="1087.86" r="6.94"/><circle cx="1135.32" cy="1087.32" r="6.94"/><circle cx="1136.31" cy="1087.29" r="6.94"/><circle cx="1137.31" cy="1087.29" r="6.94"/><circle cx="1138.3" cy="1087.4" r="6.94"/><circle cx="1139.3" cy="1087.43" r="6.94"/><circle cx="1140.29" cy="1087.27" r="6.94"/><circle cx="1141.29" cy="1087.81" r="6.94"/><circle cx="1142.28" cy="1087.12" r="6.94"/><circle cx="1143.28" cy="1087.05" r="6.94"/><circle cx="1144.27" cy="1087.42" r="6.94"/><circle cx="1145.27" cy="1087.52" r="6.94"/><circle cx="1146.26" cy="1087.59" r="6.94"/><circle cx="1147.26" cy="1087.27" r="6.94"/><circle cx="1148.25" cy="1087.15" r="6.94"/><circle cx="1149.24" cy="1087.58" r="6.94"/><circle cx="1150.24" cy="1087.18" r="6.94"/><circle cx="1151.23" cy="1087.54" r="6.94"/><circle cx="1152.23" cy="1087.61" r="6.94"/><circle cx="1153.22" cy="1087.32" r="6.94"/><circle cx="1154.22" cy="1087.62" r="6.94"/><circle cx="1155.21" cy="1087.53" r="6.94"/><circle cx="1156.21" cy="1087.43" r="6.94"/><circle cx="1157.2" cy="1087.71" r="6.94"/><circle cx="1158.2" cy="1087.51" r="6.94"/><circle cx="1159.19" cy="1087.7" r="6.94"/><circle cx="1160.19" cy="1087.51" r="6.94"/><circle cx="1161.18" cy="1087.58" r="6.94"/><circle cx="1162.18" cy="1087.27" r="6.94"/><circle cx="1163.17" cy="1087.09" r="6.94"/><circle cx="1164.17" cy="1087.58" r="6.94"/><circle cx="1165.16" cy="1086.84" r="6.94"/><circle cx="1166.16" cy="1086.82" r="6.94"/><circle cx="1167.15" cy="1087.12" r="6.94"/><circle cx="1168.15" cy="1087.02" r="6.94"/><circle cx="1169.14" cy="1086.76" r="6.94"/><circle cx="1170.14" cy="1086.66" r="6.94"/><circle cx="1171.13" cy="1086.37" r="6.94"/><circle cx="1172.13" cy="1086.69" r="6.94"/><circle cx="1173.12" cy="1086.66" r="6.94"/><circle cx="1174.12" cy="1086.51" r="6.94"/><circle cx="1175.12" cy="1086.63" r="6.94"/><circle cx="1176.11" cy="1086.26" r="6.94"/><circle cx="1177.11" cy="1086.27" r="6.94"/><circle cx="1178.1" cy="1086.39" r="6.94"/><circle cx="1179.1" cy="1086.22" r="6.94"/><circle cx="1180.09" cy="1086.03" r="6.94"/><circle cx="1181.09" cy="1086.09" r="6.94"/><circle cx="1182.08" cy="1085.99" r="6.94"/><circle cx="1183.08" cy="1085.97" r="6.94"/><circle cx="1184.07" cy="1085.84" r="6.94"/><circle cx="1185.07" cy="1085.68" r="6.94"/><circle cx="1186.06" cy="1085.56" r="6.94"/><circle cx="1187.06" cy="1085.68" r="6.94"/><circle cx="1188.05" cy="1085.76" r="6.94"/><circle cx="1189.05" cy="1085.85" r="6.94"/><circle cx="1190.04" cy="1085.83" r="6.94"/><circle cx="1191.04" cy="1085.76" r="6.94"/><circle cx="1192.03" cy="1085.72" r="6.94"/><circle cx="1193.03" cy="1085.25" r="6.94"/><circle cx="1194.02" cy="1085.37" r="6.94"/><circle cx="1195.02" cy="1085.65" r="6.94"/><circle cx="1196.01" cy="1085.37" r="6.94"/><circle cx="1197.01" cy="1085.5" r="6.94"/><circle cx="1198" cy="1085.21" r="6.94"/><circle cx="1198.99" cy="1085.42" r="6.94"/><circle cx="1199.99" cy="1084.88" r="6.94"/><circle cx="1200.98" cy="1085.61" r="6.94"/><circle cx="1201.98" cy="1084.85" r="6.94"/><circle cx="1202.97" cy="1084.96" r="6.94"/><circle cx="1203.97" cy="1085.09" r="6.94"/><circle cx="1204.96" cy="1084.74" r="6.94"/><circle cx="1205.96" cy="1085" r="6.94"/><circle cx="1206.95" cy="1085.15" r="6.94"/><circle cx="1207.95" cy="1085.37" r="6.94"/><circle cx="1208.94" cy="1084.24" r="6.94"/><circle cx="1209.94" cy="1085.6" r="6.94"/><circle cx="1210.93" cy="1084.5" r="6.94"/><circle cx="1211.93" cy="1084.38" r="6.94"/><circle cx="1212.92" cy="1084.78" r="6.94"/><circle cx="1213.92" cy="1085.05" r="6.94"/><circle cx="1214.91" cy="1084.42" r="6.94"/><circle cx="1215.91" cy="1084.75" r="6.94"/><circle cx="1216.9" cy="1084.57" r="6.94"/><circle cx="1217.9" cy="1085.2" r="6.94"/><circle cx="1218.89" cy="1084.05" r="6.94"/><circle cx="1219.89" cy="1084.6" r="6.94"/><circle cx="1220.88" cy="1083.76" r="6.94"/><circle cx="1221.88" cy="1085.02" r="6.94"/><circle cx="1222.88" cy="1084.81" r="6.94"/><circle cx="1223.87" cy="1084.85" r="6.94"/><circle cx="1224.87" cy="1084.13" r="6.94"/><circle cx="1225.86" cy="1084.12" r="6.94"/><circle cx="1226.86" cy="1084.33" r="6.94"/><circle cx="1227.85" cy="1084.3" r="6.94"/><circle cx="1228.85" cy="1083.73" r="6.94"/><circle cx="1229.84" cy="1084.4" r="6.94"/><circle cx="1230.84" cy="1085.03" r="6.94"/><circle cx="1231.83" cy="1083.95" r="6.94"/><circle cx="1232.83" cy="1083.69" r="6.94"/><circle cx="1233.82" cy="1085.12" r="6.94"/><circle cx="1234.82" cy="1084.12" r="6.94"/><circle cx="1235.81" cy="1083.71" r="6.94"/><circle cx="1236.81" cy="1083.62" r="6.94"/><circle cx="1237.8" cy="1084.59" r="6.94"/><circle cx="1238.8" cy="1084.45" r="6.94"/><circle cx="1239.79" cy="1084" r="6.94"/><circle cx="1240.79" cy="1080" r="6.94"/><circle cx="1241.78" cy="1083.83" r="6.94"/><circle cx="1242.78" cy="1083.32" r="6.94"/><circle cx="1243.77" cy="1083.91" r="6.94"/><circle cx="1244.76" cy="1083.56" r="6.94"/><circle cx="1245.76" cy="1083.44" r="6.94"/><circle cx="1246.76" cy="1084.33" r="6.94"/><circle cx="1247.75" cy="1083.6" r="6.94"/><circle cx="1248.74" cy="1084.54" r="6.94"/><circle cx="1249.74" cy="1083.16" r="6.94"/><circle cx="1250.73" cy="1083.83" r="6.94"/><circle cx="1251.73" cy="1084.26" r="6.94"/><circle cx="1252.72" cy="1083.98" r="6.94"/><circle cx="1253.72" cy="1083.68" r="6.94"/><circle cx="1254.71" cy="1084.05" r="6.94"/><circle cx="1255.71" cy="1084.17" r="6.94"/><circle cx="1256.7" cy="1083.81" r="6.94"/><circle cx="1257.7" cy="1084.67" r="6.94"/><circle cx="1258.69" cy="1083.31" r="6.94"/><circle cx="1259.69" cy="1083.33" r="6.94"/><circle cx="1260.68" cy="1084.21" r="6.94"/><circle cx="1261.68" cy="1084.28" r="6.94"/><circle cx="1262.67" cy="1084.33" r="6.94"/><circle cx="1263.67" cy="1084.2" r="6.94"/><circle cx="1264.66" cy="1084.12" r="6.94"/><circle cx="1265.66" cy="1084.06" r="6.94"/><circle cx="1266.65" cy="1084.04" r="6.94"/><circle cx="1267.65" cy="1084.25" r="6.94"/><circle cx="1268.64" cy="1084.04" r="6.94"/><circle cx="1269.64" cy="1083.57" r="6.94"/><circle cx="1270.63" cy="1084.28" r="6.94"/><circle cx="1271.63" cy="1083.97" r="6.94"/><circle cx="1272.62" cy="1084.04" r="6.94"/><circle cx="1273.62" cy="1084.12" r="6.94"/><circle cx="1274.62" cy="1084.05" r="6.94"/><circle cx="1275.61" cy="1083.83" r="6.94"/><circle cx="1276.61" cy="1084.02" r="6.94"/><circle cx="1277.6" cy="1084.18" r="6.94"/><circle cx="1278.6" cy="1083.92" r="6.94"/><circle cx="1279.59" cy="1084.04" r="6.94"/><circle cx="1280.59" cy="1084.07" r="6.94"/><circle cx="1281.58" cy="1084" r="6.94"/><circle cx="1282.58" cy="1083.8" r="6.94"/><circle cx="1283.57" cy="1084.04" r="6.94"/><circle cx="1284.57" cy="1083.92" r="6.94"/><circle cx="1285.56" cy="1083.99" r="6.94"/><circle cx="1286.56" cy="1083.94" r="6.94"/><circle cx="1287.55" cy="1084.11" r="6.94"/><circle cx="1288.55" cy="1084" r="6.94"/><circle cx="1289.54" cy="1083.97" r="6.94"/><circle cx="1290.54" cy="1084.01" r="6.94"/><circle cx="1291.53" cy="1083.99" r="6.94"/><circle cx="1292.53" cy="1083.94" r="6.94"/><circle cx="1293.52" cy="1084.09" r="6.94"/><circle cx="1294.51" cy="1083.91" r="6.94"/><circle cx="1295.51" cy="1084.02" r="6.94"/><circle cx="1296.51" cy="1084.02" r="6.94"/><circle cx="1297.5" cy="1083.99" r="6.94"/><circle cx="1298.49" cy="1084" r="6.94"/><circle cx="1299.49" cy="1084" r="6.94"/><circle cx="1300.48" cy="1083.99" r="6.94"/><circle cx="1301.48" cy="1083.98" r="6.94"/><circle cx="1302.47" cy="1083.97" r="6.94"/><circle cx="1303.47" cy="1083.98" r="6.94"/><circle cx="1304.46" cy="1084" r="6.94"/><circle cx="1305.46" cy="1083.98" r="6.94"/><circle cx="1306.45" cy="1083.92" r="6.94"/><circle cx="1307.45" cy="1083.81" r="6.94"/><circle cx="1308.44" cy="1083.87" r="6.94"/><circle cx="1309.44" cy="1083.83" r="6.94"/><circle cx="1310.43" cy="1083.9" r="6.94"/><circle cx="1311.43" cy="1083.98" r="6.94"/><circle cx="1312.42" cy="1083.73" r="6.94"/><circle cx="1313.42" cy="1083.73" r="6.94"/><circle cx="1314.41" cy="1083.77" r="6.94"/><circle cx="1315.41" cy="1083.61" r="6.94"/><circle cx="1316.4" cy="1083.66" r="6.94"/><circle cx="1317.4" cy="1083.97" r="6.94"/><circle cx="1318.39" cy="1083.9" r="6.94"/><circle cx="1319.39" cy="1083.69" r="6.94"/><circle cx="1320.38" cy="1083.84" r="6.94"/><circle cx="1321.38" cy="1083.78" r="6.94"/><circle cx="1322.38" cy="1083.62" r="6.94"/><circle cx="1323.37" cy="1083.54" r="6.94"/><circle cx="1324.37" cy="1083.68" r="6.94"/><circle cx="1325.36" cy="1083.73" r="6.94"/><circle cx="1326.36" cy="1083.72" r="6.94"/><circle cx="1327.35" cy="1083.64" r="6.94"/><circle cx="1328.35" cy="1083.92" r="6.94"/><circle cx="1329.34" cy="1083.48" r="6.94"/><circle cx="1330.34" cy="1084" r="6.94"/><circle cx="1331.33" cy="1083.56" r="6.94"/><circle cx="1332.33" cy="1083.43" r="6.94"/><circle cx="1333.32" cy="1083.6" r="6.94"/><circle cx="1334.32" cy="1083.63" r="6.94"/><circle cx="1335.31" cy="1083.53" r="6.94"/><circle cx="1336.31" cy="1083.41" r="6.94"/><circle cx="1337.3" cy="1083.68" r="6.94"/><circle cx="1338.3" cy="1083.51" r="6.94"/><circle cx="1339.29" cy="1083.3" r="6.94"/><circle cx="1340.29" cy="1083.66" r="6.94"/><circle cx="1341.28" cy="1083.61" r="6.94"/><circle cx="1342.28" cy="1083.27" r="6.94"/><circle cx="1343.27" cy="1083.46" r="6.94"/><circle cx="1344.26" cy="1083.52" r="6.94"/><circle cx="1345.26" cy="1083.43" r="6.94"/><circle cx="1346.26" cy="1083.35" r="6.94"/><circle cx="1347.25" cy="1083.12" r="6.94"/><circle cx="1348.24" cy="1083.45" r="6.94"/><circle cx="1349.24" cy="1083.2" r="6.94"/><circle cx="1350.23" cy="1083.82" r="6.94"/><circle cx="1351.23" cy="1083.31" r="6.94"/><circle cx="1352.22" cy="1083.23" r="6.94"/><circle cx="1353.22" cy="1083.64" r="6.94"/><circle cx="1354.21" cy="1083.75" r="6.94"/><circle cx="1355.21" cy="1083.45" r="6.94"/><circle cx="1356.2" cy="1083.34" r="6.94"/><circle cx="1357.2" cy="1083.09" r="6.94"/><circle cx="1358.19" cy="1083.44" r="6.94"/><circle cx="1359.19" cy="1083.43" r="6.94"/><circle cx="1360.18" cy="1083.01" r="6.94"/><circle cx="1361.18" cy="1082.99" r="6.94"/><circle cx="1362.17" cy="1083.46" r="6.94"/><circle cx="1363.17" cy="1083.27" r="6.94"/><circle cx="1364.16" cy="1083.2" r="6.94"/><circle cx="1365.16" cy="1083.39" r="6.94"/><circle cx="1366.15" cy="1083.45" r="6.94"/><circle cx="1367.15" cy="1083.21" r="6.94"/><circle cx="1368.14" cy="1082.85" r="6.94"/><circle cx="1369.14" cy="1082.92" r="6.94"/><circle cx="1370.13" cy="1083.39" r="6.94"/><circle cx="1371.13" cy="1082.9" r="6.94"/><circle cx="1372.12" cy="1082.94" r="6.94"/><circle cx="1373.12" cy="1083.14" r="6.94"/><circle cx="1374.12" cy="1083.08" r="6.94"/><circle cx="1375.11" cy="1082.66" r="6.94"/><circle cx="1376.11" cy="1082.36" r="6.94"/><circle cx="1377.1" cy="1082.34" r="6.94"/><circle cx="1378.1" cy="1083.32" r="6.94"/><circle cx="1379.09" cy="1082.87" r="6.94"/><circle cx="1380.09" cy="1082.71" r="6.94"/><circle cx="1381.08" cy="1083.23" r="6.94"/><circle cx="1382.08" cy="1082.87" r="6.94"/><circle cx="1383.07" cy="1082.51" r="6.94"/><circle cx="1384.07" cy="1082.73" r="6.94"/><circle cx="1385.06" cy="1082.5" r="6.94"/><circle cx="1386.06" cy="1082.38" r="6.94"/><circle cx="1387.05" cy="1082.93" r="6.94"/><circle cx="1388.05" cy="1082.79" r="6.94"/><circle cx="1389.04" cy="1082.68" r="6.94"/><circle cx="1390.04" cy="1082.8" r="6.94"/><circle cx="1391.03" cy="1082.86" r="6.94"/><circle cx="1392.03" cy="1082.58" r="6.94"/><circle cx="1393.02" cy="1082.63" r="6.94"/><circle cx="1394.01" cy="1082.04" r="6.94"/><circle cx="1395.01" cy="1082.41" r="6.94"/><circle cx="1396.01" cy="1082.19" r="6.94"/>
</g></g>
</g>
<g>
<rect x="1562.44" y="663" width="323.8" height="444.9" fill="#eaeaf2"/>
<g stroke="#ffffff" stroke-width="3" shape-rendering="crispEdges" clip-path="url(#c8)">
<line x1="1575.5" y1="663" x2="1575.5" y2="1107.9"/>
<line x1="1774.5" y1="663" x2="1774.5" y2="1107.9"/>
<line x1="1562.44" y1="679.5" x2="1886.24" y2="679.5"/>
<line x1="1562.44" y1="761.5" x2="1886.24" y2="761.5"/>
<line x1="1562.44" y1="843.5" x2="1886.24" y2="843.5"/>
<line x1="1562.44" y1="925.5" x2="1886.24" y2="925.5"/>
<line x1="1562.44" y1="1007.5" x2="1886.24" y2="1007.5"/>
<line x1="1562.44" y1="1089.5" x2="1886.24" y2="1089.5"/>
</g>
<g font-family="'DejaVu Sans', 'Liberation Sans', sans-serif" font-size="30.56px" fill="#262626">
<text x="1574.7" y="1157.9" text-anchor="middle">0</text>
<text x="1773.7" y="1157.9" text-anchor="middle">200</text>
<text x="1534.34" y="690" text-anchor="end">0.5</text>
<text x="1534.34" y="772" text-anchor="end">0.4</text>
<text x="1534.34" y="854" text-anchor="end">0.3</text>
<text x="1534.34" y="936" text-anchor="end">0.2</text>
<text x="1534.34" y="1018" text-anchor="end">0.1</text>
<text x="1534.34" y="1100" text-anchor="end">0.0</text>
</g>
<text x="1724.34" y="643.8" text-anchor="middle" font-family="'DejaVu Sans', 'Liberation Sans', sans-serif" font-size="33.33px" fill="#262626">mAP@0.5</text>
<g clip-path="url(#c8)">
<polyline fill="none" stroke="#4c72b0" stroke-width="5.56" stroke-linejoin="round" stroke-linecap="round" points="1575.5,1044.4 1576.49,1076 1577.49,1088.6 1578.48,1039 1579.48,1006.4 1580.47,1028 1581.47,972.4 1582.46,994 1583.46,1000 1584.45,1028 1585.45,987 1586.44,964 1587.44,931 1588.43,914 1589.43,950 1590.42,969 1591.42,906 1592.41,920 1593.41,895 1594.4,882 1595.4,900 1596.39,846 1597.39,994.6 1598.38,870 1599.38,895.6 1600.38,813 1601.37,927 1602.37,916.4 1603.36,850 1604.36,822 1605.35,835 1606.35,828 1607.34,815 1608.34,830 1609.33,820 1610.33,840 1611.32,805 1612.32,785 1613.31,786 1614.31,795 1615.3,772.5 1616.3,790 1617.29,801 1618.29,761.5 1619.28,785 1620.28,769.42 1621.27,747.68 1622.27,751.35 1623.26,776.57 1624.26,740.5 1625.25,780.5 1626.24,753.14 1627.24,761.14 1628.23,766.73 1629.23,749.51 1630.22,726.65 1631.22,730.5 1632.21,721 1633.21,764.61 1634.2,759.46 1635.2,741.18 1636.19,774.5 1637.19,723.79 1638.18,760.66 1639.18,747.3 1640.17,772.27 1641.17,730.63 1642.16,773.72 1643.16,742.2 1644.15,735.39 1645.15,737.07 1646.14,733.49 1647.14,716 1648.13,760.29 1649.13,775.5 1650.12,774.64 1651.12,762.93 1652.12,762.28 1653.11,722.83 1654.11,753.09 1655.1,728.14 1656.1,725 1657.09,772.55 1658.09,774.5 1659.08,728.08 1660.08,765.5 1661.07,735.39 1662.07,736.45 1663.06,750.12 1664.06,745.25 1665.05,742.79 1666.05,732.09 1667.04,722.44 1668.04,719.68 1669.03,705 1670.03,735.73 1671.02,740.9 1672.02,720.23 1673.01,722.1 1674.01,692 1675,696.25 1675.99,729.02 1676.99,701.35 1677.98,737.59 1678.98,737.47 1679.97,737.36 1680.97,737.24 1681.96,728.78 1682.96,737 1683.95,692 1684.95,728.91 1685.94,722.09 1686.94,713.07 1687.93,717.13 1688.93,720.36 1689.92,701.1 1690.92,723.85 1691.91,721.87 1692.91,712.63 1693.9,722.68 1694.9,728.62 1695.89,730.5 1696.89,729.46 1697.88,724.71 1698.88,723.83 1699.88,722.97 1700.87,718.64 1701.87,708.83 1702.86,698.73 1703.86,713.79 1704.85,708.2 1705.85,689 1706.84,723.34 1707.84,717.34 1708.83,703.04 1709.83,690.44 1710.82,697.01 1711.82,724.5 1712.81,704.1 1713.81,692.2 1714.8,708.83 1715.8,704.09 1716.79,701.23 1717.79,693.18 1718.78,706.26 1719.78,693.88 1720.77,700.25 1721.76,709.97 1722.76,709.92 1723.76,699.26 1724.75,690 1725.74,704.77 1726.74,692.18 1727.73,689 1728.73,704.98 1729.72,692.18 1730.72,706.76 1731.71,709.22 1732.71,707.89 1733.7,707.17 1734.7,706.16 1735.69,704.71 1736.69,701.78 1737.68,721.93 1738.68,709.8 1739.67,720 1740.67,749 1741.66,740 1742.66,731 1743.65,735 1744.65,745 1745.64,749 1746.64,789.6 1747.63,765.6 1748.63,691.5 1749.62,691.84 1750.62,691.64 1751.62,687.58 1752.61,684.11 1753.61,685.26 1754.6,680.5 1755.6,686.55 1756.59,689.91 1757.59,692.14 1758.58,693.46 1759.58,695.22 1760.57,694.97 1761.57,696.87 1762.56,701.15 1763.56,699.7 1764.55,700.12 1765.55,703.8 1766.54,701.89 1767.54,701.54 1768.53,705.54 1769.53,704.54 1770.52,709.16 1771.51,711.99 1772.51,711.08 1773.51,710.66 1774.5,714.27 1775.49,706.75 1776.49,709.53 1777.48,713.4 1778.48,712.8 1779.47,715.77 1780.47,714.94 1781.46,715.42 1782.46,715.1 1783.45,718.41 1784.45,716.04 1785.44,713.34 1786.44,716.46 1787.43,715.45 1788.43,720 1789.42,717.67 1790.42,719.56 1791.41,716.8 1792.41,718.47 1793.4,717.97 1794.4,717.35 1795.39,712.77 1796.39,715.88 1797.38,718.32 1798.38,714.59 1799.38,717.31 1800.37,712.34 1801.37,712.37 1802.36,715.27 1803.36,710.13 1804.35,718.17 1805.35,714.52 1806.34,719.12 1807.34,715.16 1808.33,718.81 1809.33,716.83 1810.32,715.74 1811.32,717.97 1812.31,718.82 1813.31,719.66 1814.3,717.79 1815.3,719.64 1816.29,718.5 1817.29,717 1818.28,720.14 1819.28,720.21 1820.27,718.27 1821.26,718.47 1822.26,718.02 1823.26,719.12 1824.25,717.9 1825.24,719.58 1826.24,718.39 1827.23,717.04 1828.23,719.17 1829.22,718.47 1830.22,715.61 1831.21,717.16 1832.21,717.25 1833.2,715.75 1834.2,714.58 1835.19,717.11 1836.19,713.23 1837.18,716.84 1838.18,712.86 1839.17,715.84 1840.17,716.44 1841.16,711.41 1842.16,714.57 1843.15,712.19 1844.15,714.92 1845.14,715.78 1846.14,715.65 1847.13,714.94 1848.13,712.26 1849.12,714.1 1850.12,715.12 1851.12,714.86 1852.11,715 1853.11,714.7 1854.1,710.56 1855.1,712.25 1856.09,713.98 1857.09,711.25 1858.08,713.99 1859.08,710.73 1860.07,712.84 1861.07,713.9 1862.06,711.06 1863.06,714.93 1864.05,716.46 1865.05,717.5 1866.04,715 1867.04,715 1868.03,718.23 1869.03,717.96 1870.02,715.35 1871.01,715.05 1872.01,717.01 1873.01,715"/>
<g fill="#4c72b0">
<circle cx="1575.5" cy="1044.4" r="6.94"/><circle cx="1576.49" cy="1076" r="6.94"/><circle cx="1577.49" cy="1088.6" r="6.94"/><circle cx="1578.48" cy="1039" r="6.94"/><circle cx="1579.48" cy="1006.4" r="6.94"/><circle cx="1580.47" cy="1028" r="6.94"/><circle cx="1581.47" cy="972.4" r="6.94"/><circle cx="1582.46" cy="994" r="6.94"/><circle cx="1583.46" cy="1000" r="6.94"/><circle cx="1584.45" cy="1028" r="6.94"/><circle cx="1585.45" cy="987" r="6.94"/><circle cx="1586.44" cy="964" r="6.94"/><circle cx="1587.44" cy="931" r="6.94"/><circle cx="1588.43" cy="914" r="6.94"/><circle cx="1589.43" cy="950" r="6.94"/><circle cx="1590.42" cy="969" r="6.94"/><circle cx="1591.42" cy="906" r="6.94"/><circle cx="1592.41" cy="920" r="6.94"/><circle cx="1593.41" cy="895" r="6.94"/><circle cx="1594.4" cy="882" r="6.94"/><circle cx="1595.4" cy="900" r="6.94"/><circle cx="1596.39" cy="846" r="6.94"/><circle cx="1597.39" cy="994.6" r="6.94"/><circle cx="1598.38" cy="870" r="6.94"/><circle cx="1599.38" cy="895.6" r="6.94"/><circle cx="1600.38" cy="813" r="6.94"/><circle cx="1601.37" cy="927" r="6.94"/><circle cx="1602.37" cy="916.4" r="6.94"/><circle cx="1603.36" cy="850" r="6.94"/><circle cx="1604.36" cy="822" r="6.94"/><circle cx="1605.35" cy="835" r="6.94"/><circle cx="1606.35" cy="828" r="6.94"/><circle cx="1607.34" cy="815" r="6.94"/><circle cx="1608.34" cy="830" r="6.94"/><circle cx="1609.33" cy="820" r="6.94"/><circle cx="1610.33" cy="840" r="6.94"/><circle cx="1611.32" cy="805" r="6.94"/><circle cx="1612.32" cy="785" r="6.94"/><circle cx="1613.31" cy="786" r="6.94"/><circle cx="1614.31" cy="795" r="6.94"/><circle cx="1615.3" cy="772.5" r="6.94"/><circle cx="1616.3" cy="790" r="6.94"/><circle cx="1617.29" cy="801" r="6.94"/><circle cx="1618.29" cy="761.5" r="6.94"/><circle cx="1619.28" cy="785" r="6.94"/><circle cx="1620.28" cy="769.42" r="6.94"/><circle cx="1621.27" cy="747.68" r="6.94"/><circle cx="1622.27" cy="751.35" r="6.94"/><circle cx="1623.26" cy="776.57" r="6.94"/><circle cx="1624.26" cy="740.5" r="6.94"/><circle cx="1625.25" cy="780.5" r="6.94"/><circle cx="1626.24" cy="753.14" r="6.94"/><circle cx="1627.24" cy="761.14" r="6.94"/><circle cx="1628.23" cy="766.73" r="6.94"/><circle cx="1629.23" cy="749.51" r="6.94"/><circle cx="1630.22" cy="726.65" r="6.94"/><circle cx="1631.22" cy="730.5" r="6.94"/><circle cx="1632.21" cy="721" r="6.94"/><circle cx="1633.21" cy="764.61" r="6.94"/><circle cx="1634.2" cy="759.46" r="6.94"/><circle cx="1635.2" cy="741.18" r="6.94"/><circle cx="1636.19" cy="774.5" r="6.94"/><circle cx="1637.19" cy="723.79" r="6.94"/><circle cx="1638.18" cy="760.66" r="6.94"/><circle cx="1639.18" cy="747.3" r="6.94"/><circle cx="1640.17" cy="772.27" r="6.94"/><circle cx="1641.17" cy="730.63" r="6.94"/><circle cx="1642.16" cy="773.72" r="6.94"/><circle cx="1643.16" cy="742.2" r="6.94"/><circle cx="1644.15" cy="735.39" r="6.94"/><circle cx="1645.15" cy="737.07" r="6.94"/><circle cx="1646.14" cy="733.49" r="6.94"/><circle cx="1647.14" cy="716" r="6.94"/><circle cx="1648.13" cy="760.29" r="6.94"/><circle cx="1649.13" cy="775.5" r="6.94"/><circle cx="1650.12" cy="774.64" r="6.94"/><circle cx="1651.12" cy="762.93" r="6.94"/><circle cx="1652.12" cy="762.28" r="6.94"/><circle cx="1653.11" cy="722.83" r="6.94"/><circle cx="1654.11" cy="753.09" r="6.94"/><circle cx="1655.1" cy="728.14" r="6.94"/><circle cx="1656.1" cy="725" r="6.94"/><circle cx="1657.09" cy="772.55" r="6.94"/><circle cx="1658.09" cy="774.5" r="6.94"/><circle cx="1659.08" cy="728.08" r="6.94"/><circle cx="1660.08" cy="765.5" r="6.94"/><circle cx="1661.07" cy="735.39" r="6.94"/><circle cx="1662.07" cy="736.45" r="6.94"/><circle cx="1663.06" cy="750.12" r="6.94"/><circle cx="1664.06" cy="745.25" r="6.94"/><circle cx="1665.05" cy="742.79" r="6.94"/><circle cx="1666.05" cy="732.09" r="6.94"/><circle cx="1667.04" cy="722.44" r="6.94"/><circle cx="1668.04" cy="719.68" r="6.94"/><circle cx="1669.03" cy="705" r="6.94"/><circle cx="1670.03" cy="735.73" r="6.94"/><circle cx="1671.02" cy="740.9" r="6.94"/><circle cx="1672.02" cy="720.23" r="6.94"/><circle cx="1673.01" cy="722.1" r="6.94"/><circle cx="1674.01" cy="692" r="6.94"/><circle cx="1675" cy="696.25" r="6.94"/><circle cx="1675.99" cy="729.02" r="6.94"/><circle cx="1676.99" cy="701.35" r="6.94"/><circle cx="1677.98" cy="737.59" r="6.94"/><circle cx="1678.98" cy="737.47" r="6.94"/><circle cx="1679.97" cy="737.36" r="6.94"/><circle cx="1680.97" cy="737.24" r="6.94"/><circle cx="1681.96" cy="728.78" r="6.94"/><circle cx="1682.96" cy="737" r="6.94"/><circle cx="1683.95" cy="692" r="6.94"/><circle cx="1684.95" cy="728.91" r="6.94"/><circle cx="1685.94" cy="722.09" r="6.94"/><circle cx="1686.94" cy="713.07" r="6.94"/><circle cx="1687.93" cy="717.13" r="6.94"/><circle cx="1688.93" cy="720.36" r="6.94"/><circle cx="1689.92" cy="701.1" r="6.94"/><circle cx="1690.92" cy="723.85" r="6.94"/><circle cx="1691.91" cy="721.87" r="6.94"/><circle cx="1692.91" cy="712.63" r="6.94"/><circle cx="1693.9" cy="722.68" r="6.94"/><circle cx="1694.9" cy="728.62" r="6.94"/><circle cx="1695.89" cy="730.5" r="6.94"/><circle cx="1696.89" cy="729.46" r="6.94"/><circle cx="1697.88" cy="724.71" r="6.94"/><circle cx="1698.88" cy="723.83" r="6.94"/><circle cx="1699.88" cy="722.97" r="6.94"/><circle cx="1700.87" cy="718.64" r="6.94"/><circle cx="1701.87" cy="708.83" r="6.94"/><circle cx="1702.86" cy="698.73" r="6.94"/><circle cx="1703.86" cy="713.79" r="6.94"/><circle cx="1704.85" cy="708.2" r="6.94"/><circle cx="1705.85" cy="689" r="6.94"/><circle cx="1706.84" cy="723.34" r="6.94"/><circle cx="1707.84" cy="717.34" r="6.94"/><circle cx="1708.83" cy="703.04" r="6.94"/><circle cx="1709.83" cy="690.44" r="6.94"/><circle cx="1710.82" cy="697.01" r="6.94"/><circle cx="1711.82" cy="724.5" r="6.94"/><circle cx="1712.81" cy="704.1" r="6.94"/><circle cx="1713.81" cy="692.2" r="6.94"/><circle cx="1714.8" cy="708.83" r="6.94"/><circle cx="1715.8" cy="704.09" r="6.94"/><circle cx="1716.79" cy="701.23" r="6.94"/><circle cx="1717.79" cy="693.18" r="6.94"/><circle cx="1718.78" cy="706.26" r="6.94"/><circle cx="1719.78" cy="693.88" r="6.94"/><circle cx="1720.77" cy="700.25" r="6.94"/><circle cx="1721.76" cy="709.97" r="6.94"/><circle cx="1722.76" cy="709.92" r="6.94"/><circle cx="1723.76" cy="699.26" r="6.94"/><circle cx="1724.75" cy="690" r="6.94"/><circle cx="1725.74" cy="704.77" r="6.94"/><circle cx="1726.74" cy="692.18" r="6.94"/><circle cx="1727.73" cy="689" r="6.94"/><circle cx="1728.73" cy="704.98" r="6.94"/><circle cx="1729.72" cy="692.18" r="6.94"/><circle cx="1730.72" cy="706.76" r="6.94"/><circle cx="1731.71" cy="709.22" r="6.94"/><circle cx="1732.71" cy="707.89" r="6.94"/><circle cx="1733.7" cy="707.17" r="6.94"/><circle cx="1734.7" cy="706.16" r="6.94"/><circle cx="1735.69" cy="704.71" r="6.94"/><circle cx="1736.69" cy="701.78" r="6.94"/><circle cx="1737.68" cy="721.93" r="6.94"/><circle cx="1738.68" cy="709.8" r="6.94"/><circle cx="1739.67" cy="720" r="6.94"/><circle cx="1740.67" cy="749" r="6.94"/><circle cx="1741.66" cy="740" r="6.94"/><circle cx="1742.66" cy="731" r="6.94"/><circle cx="1743.65" cy="735" r="6.94"/><circle cx="1744.65" cy="745" r="6.94"/><circle cx="1745.64" cy="749" r="6.94"/><circle cx="1746.64" cy="789.6" r="6.94"/><circle cx="1747.63" cy="765.6" r="6.94"/><circle cx="1748.63" cy="691.5" r="6.94"/><circle cx="1749.62" cy="691.84" r="6.94"/><circle cx="1750.62" cy="691.64" r="6.94"/><circle cx="1751.62" cy="687.58" r="6.94"/><circle cx="1752.61" cy="684.11" r="6.94"/><circle cx="1753.61" cy="685.26" r="6.94"/><circle cx="1754.6" cy="680.5" r="6.94"/><circle cx="1755.6" cy="686.55" r="6.94"/><circle cx="1756.59" cy="689.91" r="6.94"/><circle cx="1757.59" cy="692.14" r="6.94"/><circle cx="1758.58" cy="693.46" r="6.94"/><circle cx="1759.58" cy="695.22" r="6.94"/><circle cx="1760.57" cy="694.97" r="6.94"/><circle cx="1761.57" cy="696.87" r="6.94"/><circle cx="1762.56" cy="701.15" r="6.94"/><circle cx="1763.56" cy="699.7" r="6.94"/><circle cx="1764.55" cy="700.12" r="6.94"/><circle cx="1765.55" cy="703.8" r="6.94"/><circle cx="1766.54" cy="701.89" r="6.94"/><circle cx="1767.54" cy="701.54" r="6.94"/><circle cx="1768.53" cy="705.54" r="6.94"/><circle cx="1769.53" cy="704.54" r="6.94"/><circle cx="1770.52" cy="709.16" r="6.94"/><circle cx="1771.51" cy="711.99" r="6.94"/><circle cx="1772.51" cy="711.08" r="6.94"/><circle cx="1773.51" cy="710.66" r="6.94"/><circle cx="1774.5" cy="714.27" r="6.94"/><circle cx="1775.49" cy="706.75" r="6.94"/><circle cx="1776.49" cy="709.53" r="6.94"/><circle cx="1777.48" cy="713.4" r="6.94"/><circle cx="1778.48" cy="712.8" r="6.94"/><circle cx="1779.47" cy="715.77" r="6.94"/><circle cx="1780.47" cy="714.94" r="6.94"/><circle cx="1781.46" cy="715.42" r="6.94"/><circle cx="1782.46" cy="715.1" r="6.94"/><circle cx="1783.45" cy="718.41" r="6.94"/><circle cx="1784.45" cy="716.04" r="6.94"/><circle cx="1785.44" cy="713.34" r="6.94"/><circle cx="1786.44" cy="716.46" r="6.94"/><circle cx="1787.43" cy="715.45" r="6.94"/><circle cx="1788.43" cy="720" r="6.94"/><circle cx="1789.42" cy="717.67" r="6.94"/><circle cx="1790.42" cy="719.56" r="6.94"/><circle cx="1791.41" cy="716.8" r="6.94"/><circle cx="1792.41" cy="718.47" r="6.94"/><circle cx="1793.4" cy="717.97" r="6.94"/><circle cx="1794.4" cy="717.35" r="6.94"/><circle cx="1795.39" cy="712.77" r="6.94"/><circle cx="1796.39" cy="715.88" r="6.94"/><circle cx="1797.38" cy="718.32" r="6.94"/><circle cx="1798.38" cy="714.59" r="6.94"/><circle cx="1799.38" cy="717.31" r="6.94"/><circle cx="1800.37" cy="712.34" r="6.94"/><circle cx="1801.37" cy="712.37" r="6.94"/><circle cx="1802.36" cy="715.27" r="6.94"/><circle cx="1803.36" cy="710.13" r="6.94"/><circle cx="1804.35" cy="718.17" r="6.94"/><circle cx="1805.35" cy="714.52" r="6.94"/><circle cx="1806.34" cy="719.12" r="6.94"/><circle cx="1807.34" cy="715.16" r="6.94"/><circle cx="1808.33" cy="718.81" r="6.94"/><circle cx="1809.33" cy="716.83" r="6.94"/><circle cx="1810.32" cy="715.74" r="6.94"/><circle cx="1811.32" cy="717.97" r="6.94"/><circle cx="1812.31" cy="718.82" r="6.94"/><circle cx="1813.31" cy="719.66" r="6.94"/><circle cx="1814.3" cy="717.79" r="6.94"/><circle cx="1815.3" cy="719.64" r="6.94"/><circle cx="1816.29" cy="718.5" r="6.94"/><circle cx="1817.29" cy="717" r="6.94"/><circle cx="1818.28" cy="720.14" r="6.94"/><circle cx="1819.28" cy="720.21" r="6.94"/><circle cx="1820.27" cy="718.27" r="6.94"/><circle cx="1821.26" cy="718.47" r="6.94"/><circle cx="1822.26" cy="718.02" r="6.94"/><circle cx="1823.26" cy="719.12" r="6.94"/><circle cx="1824.25" cy="717.9" r="6.94"/><circle cx="1825.24" cy="719.58" r="6.94"/><circle cx="1826.24" cy="718.39" r="6.94"/><circle cx="1827.23" cy="717.04" r="6.94"/><circle cx="1828.23" cy="719.17" r="6.94"/><circle cx="1829.22" cy="718.47" r="6.94"/><circle cx="1830.22" cy="715.61" r="6.94"/><circle cx="1831.21" cy="717.16" r="6.94"/><circle cx="1832.21" cy="717.25" r="6.94"/><circle cx="1833.2" cy="715.75" r="6.94"/><circle cx="1834.2" cy="714.58" r="6.94"/><circle cx="1835.19" cy="717.11" r="6.94"/><circle cx="1836.19" cy="713.23" r="6.94"/><circle cx="1837.18" cy="716.84" r="6.94"/><circle cx="1838.18" cy="712.86" r="6.94"/><circle cx="1839.17" cy="715.84" r="6.94"/><circle cx="1840.17" cy="716.44" r="6.94"/><circle cx="1841.16" cy="711.41" r="6.94"/><circle cx="1842.16" cy="714.57" r="6.94"/><circle cx="1843.15" cy="712.19" r="6.94"/><circle cx="1844.15" cy="714.92" r="6.94"/><circle cx="1845.14" cy="715.78" r="6.94"/><circle cx="1846.14" cy="715.65" r="6.94"/><circle cx="1847.13" cy="714.94" r="6.94"/><circle cx="1848.13" cy="712.26" r="6.94"/><circle cx="1849.12" cy="714.1" r="6.94"/><circle cx="1850.12" cy="715.12" r="6.94"/><circle cx="1851.12" cy="714.86" r="6.94"/><circle cx="1852.11" cy="715" r="6.94"/><circle cx="1853.11" cy="714.7" r="6.94"/><circle cx="1854.1" cy="710.56" r="6.94"/><circle cx="1855.1" cy="712.25" r="6.94"/><circle cx="1856.09" cy="713.98" r="6.94"/><circle cx="1857.09" cy="711.25" r="6.94"/><circle cx="1858.08" cy="713.99" r="6.94"/><circle cx="1859.08" cy="710.73" r="6.94"/><circle cx="1860.07" cy="712.84" r="6.94"/><circle cx="1861.07" cy="713.9" r="6.94"/><circle cx="1862.06" cy="711.06" r="6.94"/><circle cx="1863.06" cy="714.93" r="6.94"/><circle cx="1864.05" cy="716.46" r="6.94"/><circle cx="1865.05" cy="717.5" r="6.94"/><circle cx="1866.04" cy="715" r="6.94"/><circle cx="1867.04" cy="715" r="6.94"/><circle cx="1868.03" cy="718.23" r="6.94"/><circle cx="1869.03" cy="717.96" r="6.94"/><circle cx="1870.02" cy="715.35" r="6.94"/><circle cx="1871.01" cy="715.05" r="6.94"/><circle cx="1872.01" cy="717.01" r="6.94"/><circle cx="1873.01" cy="715" r="6.94"/>
</g></g>
</g>
<g>
<rect x="2039.22" y="663" width="323.8" height="444.9" fill="#eaeaf2"/>
<g stroke="#ffffff" stroke-width="3" shape-rendering="crispEdges" clip-path="url(#c9)">
<line x1="2052.5" y1="663" x2="2052.5" y2="1107.9"/>
<line x1="2251.5" y1="663" x2="2251.5" y2="1107.9"/>
<line x1="2039.22" y1="732.5" x2="2363.02" y2="732.5"/>
<line x1="2039.22" y1="851.5" x2="2363.02" y2="851.5"/>
<line x1="2039.22" y1="970.5" x2="2363.02" y2="970.5"/>
<line x1="2039.22" y1="1088.5" x2="2363.02" y2="1088.5"/>
</g>
<g font-family="'DejaVu Sans', 'Liberation Sans', sans-serif" font-size="30.56px" fill="#262626">
<text x="2051.7" y="1157.9" text-anchor="middle">0</text>
<text x="2250.7" y="1157.9" text-anchor="middle">200</text>
<text x="2011.12" y="744" text-anchor="end">0.3</text>
<text x="2011.12" y="863" text-anchor="end">0.2</text>
<text x="2011.12" y="981" text-anchor="end">0.1</text>
<text x="2011.12" y="1100" text-anchor="end">0.0</text>
</g>
<text x="2201.12" y="643.8" text-anchor="middle" font-family="'DejaVu Sans', 'Liberation Sans', sans-serif" font-size="33.33px" fill="#262626">mAP@0.5:0.95</text>
<g clip-path="url(#c9)">
<polyline fill="none" stroke="#4c72b0" stroke-width="5.56" stroke-linejoin="round" stroke-linecap="round" points="2052.5,1065.6 2053.49,1081 2054.49,1042 2055.49,1088.6 2056.48,1060 2057.47,1068.4 2058.47,1015 2059.47,1040 2060.46,1020 2061.45,1053.6 2062.45,997.6 2063.45,1046 2064.44,1014.4 2065.43,972.4 2066.43,1000 2067.43,975 2068.42,990 2069.41,970 2070.41,966 2071.41,941 2072.4,960 2073.39,883 2074.39,1033.6 2075.39,900 2076.38,939 2077.38,980.6 2078.37,890 2079.36,969.4 2080.36,865 2081.36,880 2082.35,870 2083.34,885 2084.34,893 2085.34,870 2086.33,875 2087.32,860 2088.32,883 2089.32,850 2090.31,834 2091.3,808 2092.3,789 2093.3,820 2094.29,846 2095.28,779 2096.28,800 2097.28,801.68 2098.27,809.86 2099.26,811.28 2100.26,803.82 2101.26,780.81 2102.25,775.56 2103.24,781.73 2104.24,767.65 2105.24,789.31 2106.23,777.27 2107.22,788.58 2108.22,782.91 2109.22,765.6 2110.21,781.8 2111.2,804.56 2112.2,805 2113.2,769.34 2114.19,790.13 2115.18,730 2116.18,735.12 2117.18,758.11 2118.17,756.7 2119.16,735.67 2120.16,779.74 2121.16,757.26 2122.15,736 2123.14,776.49 2124.14,759.94 2125.14,759.22 2126.13,739.79 2127.12,749.92 2128.12,790.88 2129.11,754.64 2130.11,765.08 2131.11,737.12 2132.1,783.61 2133.09,779.13 2134.09,804.4 2135.09,758.35 2136.08,785 2137.07,742.77 2138.07,775.33 2139.07,773.95 2140.06,766.15 2141.05,764.7 2142.05,749.09 2143.05,736.07 2144.04,723.49 2145.03,739.49 2146.03,722.87 2147.03,754.15 2148.02,717 2149.01,719.04 2150.01,716.5 2151.01,749.5 2152,730.04 2152.99,730.5 2153.99,741.12 2154.99,743.67 2155.98,728.88 2156.97,734.05 2157.97,718.12 2158.97,730.64 2159.96,709 2160.95,740.01 2161.95,710.47 2162.95,724.22 2163.94,737.9 2164.93,752.5 2165.93,742.95 2166.93,733.19 2167.92,724.54 2168.91,737.33 2169.91,738.61 2170.91,741.09 2171.9,737.02 2172.89,734.74 2173.89,738.5 2174.89,730.84 2175.88,722.77 2176.88,710.62 2177.87,710 2178.86,715.45 2179.86,732.38 2180.86,719.91 2181.85,733.1 2182.84,708.66 2183.84,720.13 2184.84,731.79 2185.83,713.57 2186.82,727.09 2187.82,711.28 2188.82,722.96 2189.81,727.19 2190.8,705.59 2191.8,703.99 2192.8,706.57 2193.79,720.92 2194.78,711.03 2195.78,711.43 2196.78,696 2197.77,708.05 2198.76,709.24 2199.76,697.38 2200.76,696.12 2201.75,702.08 2202.74,700.97 2203.74,694.41 2204.74,700.53 2205.73,694 2206.72,704.38 2207.72,707.09 2208.72,696.14 2209.71,697.72 2210.7,704.93 2211.7,698.75 2212.7,705.31 2213.69,699.21 2214.68,709.07 2215.68,710.44 2216.68,710.16 2217.67,709.66 2218.66,746.5 2219.66,735 2220.66,730 2221.65,745 2222.64,759.5 2223.64,797.6 2224.64,781.5 2225.63,689 2226.62,692.51 2227.62,691.76 2228.61,685.94 2229.61,684.69 2230.61,680.5 2231.6,692 2232.59,687.88 2233.59,695.53 2234.59,693.3 2235.58,698.84 2236.57,700.72 2237.57,704.69 2238.57,702.89 2239.56,705.83 2240.55,706.44 2241.55,709.13 2242.55,708.07 2243.54,707.61 2244.53,709.65 2245.53,709.23 2246.53,706.5 2247.52,704.47 2248.51,708.62 2249.51,706.75 2250.51,709.98 2251.5,709.08 2252.49,705.28 2253.49,704.95 2254.49,708.77 2255.48,705.25 2256.47,704.71 2257.47,701.91 2258.47,703.15 2259.46,708 2260.45,708 2261.45,707.31 2262.45,703.4 2263.44,706.15 2264.43,703.46 2265.43,708.64 2266.43,708.16 2267.42,705.02 2268.41,707.24 2269.41,706.37 2270.41,707.4 2271.4,706.71 2272.39,703.44 2273.39,709.58 2274.39,702.96 2275.38,704.94 2276.38,706.48 2277.37,709.49 2278.36,707.06 2279.36,703.94 2280.36,704.46 2281.35,707.93 2282.34,708.79 2283.34,706.75 2284.34,704.64 2285.33,709.94 2286.32,709.34 2287.32,704 2288.32,709.74 2289.31,706.85 2290.3,710.26 2291.3,704 2292.3,706.15 2293.29,708.25 2294.28,709.86 2295.28,706.64 2296.28,707.99 2297.27,706.7 2298.26,704.3 2299.26,708.32 2300.26,709.31 2301.25,707.91 2302.24,706.59 2303.24,705.35 2304.24,706.31 2305.23,703.01 2306.22,706.18 2307.22,703.91 2308.22,702.81 2309.21,703.85 2310.2,702.09 2311.2,702.26 2312.2,703.35 2313.19,700.37 2314.18,702.81 2315.18,702.77 2316.18,701.06 2317.17,698.71 2318.16,702.12 2319.16,699.86 2320.15,700.35 2321.15,700.43 2322.14,697.96 2323.14,699.8 2324.14,696.31 2325.13,696.82 2326.12,695.07 2327.12,694.67 2328.11,693.65 2329.11,696.31 2330.11,693.86 2331.1,692.45 2332.09,695.06 2333.09,690.92 2334.09,692.79 2335.08,693.15 2336.07,691.78 2337.07,690.72 2338.07,690.7 2339.06,690.99 2340.05,690.06 2341.05,689.95 2342.05,689.31 2343.04,689.58 2344.03,691.03 2345.03,690.98 2346.03,689.11 2347.02,691.15 2348.01,688.9 2349.01,690.05 2350.01,689.75"/>
<g fill="#4c72b0">
<circle cx="2052.5" cy="1065.6" r="6.94"/><circle cx="2053.49" cy="1081" r="6.94"/><circle cx="2054.49" cy="1042" r="6.94"/><circle cx="2055.49" cy="1088.6" r="6.94"/><circle cx="2056.48" cy="1060" r="6.94"/><circle cx="2057.47" cy="1068.4" r="6.94"/><circle cx="2058.47" cy="1015" r="6.94"/><circle cx="2059.47" cy="1040" r="6.94"/><circle cx="2060.46" cy="1020" r="6.94"/><circle cx="2061.45" cy="1053.6" r="6.94"/><circle cx="2062.45" cy="997.6" r="6.94"/><circle cx="2063.45" cy="1046" r="6.94"/><circle cx="2064.44" cy="1014.4" r="6.94"/><circle cx="2065.43" cy="972.4" r="6.94"/><circle cx="2066.43" cy="1000" r="6.94"/><circle cx="2067.43" cy="975" r="6.94"/><circle cx="2068.42" cy="990" r="6.94"/><circle cx="2069.41" cy="970" r="6.94"/><circle cx="2070.41" cy="966" r="6.94"/><circle cx="2071.41" cy="941" r="6.94"/><circle cx="2072.4" cy="960" r="6.94"/><circle cx="2073.39" cy="883" r="6.94"/><circle cx="2074.39" cy="1033.6" r="6.94"/><circle cx="2075.39" cy="900" r="6.94"/><circle cx="2076.38" cy="939" r="6.94"/><circle cx="2077.38" cy="980.6" r="6.94"/><circle cx="2078.37" cy="890" r="6.94"/><circle cx="2079.36" cy="969.4" r="6.94"/><circle cx="2080.36" cy="865" r="6.94"/><circle cx="2081.36" cy="880" r="6.94"/><circle cx="2082.35" cy="870" r="6.94"/><circle cx="2083.34" cy="885" r="6.94"/><circle cx="2084.34" cy="893" r="6.94"/><circle cx="2085.34" cy="870" r="6.94"/><circle cx="2086.33" cy="875" r="6.94"/><circle cx="2087.32" cy="860" r="6.94"/><circle cx="2088.32" cy="883" r="6.94"/><circle cx="2089.32" cy="850" r="6.94"/><circle cx="2090.31" cy="834" r="6.94"/><circle cx="2091.3" cy="808" r="6.94"/><circle cx="2092.3" cy="789" r="6.94"/><circle cx="2093.3" cy="820" r="6.94"/><circle cx="2094.29" cy="846" r="6.94"/><circle cx="2095.28" cy="779" r="6.94"/><circle cx="2096.28" cy="800" r="6.94"/><circle cx="2097.28" cy="801.68" r="6.94"/><circle cx="2098.27" cy="809.86" r="6.94"/><circle cx="2099.26" cy="811.28" r="6.94"/><circle cx="2100.26" cy="803.82" r="6.94"/><circle cx="2101.26" cy="780.81" r="6.94"/><circle cx="2102.25" cy="775.56" r="6.94"/><circle cx="2103.24" cy="781.73" r="6.94"/><circle cx="2104.24" cy="767.65" r="6.94"/><circle cx="2105.24" cy="789.31" r="6.94"/><circle cx="2106.23" cy="777.27" r="6.94"/><circle cx="2107.22" cy="788.58" r="6.94"/><circle cx="2108.22" cy="782.91" r="6.94"/><circle cx="2109.22" cy="765.6" r="6.94"/><circle cx="2110.21" cy="781.8" r="6.94"/><circle cx="2111.2" cy="804.56" r="6.94"/><circle cx="2112.2" cy="805" r="6.94"/><circle cx="2113.2" cy="769.34" r="6.94"/><circle cx="2114.19" cy="790.13" r="6.94"/><circle cx="2115.18" cy="730" r="6.94"/><circle cx="2116.18" cy="735.12" r="6.94"/><circle cx="2117.18" cy="758.11" r="6.94"/><circle cx="2118.17" cy="756.7" r="6.94"/><circle cx="2119.16" cy="735.67" r="6.94"/><circle cx="2120.16" cy="779.74" r="6.94"/><circle cx="2121.16" cy="757.26" r="6.94"/><circle cx="2122.15" cy="736" r="6.94"/><circle cx="2123.14" cy="776.49" r="6.94"/><circle cx="2124.14" cy="759.94" r="6.94"/><circle cx="2125.14" cy="759.22" r="6.94"/><circle cx="2126.13" cy="739.79" r="6.94"/><circle cx="2127.12" cy="749.92" r="6.94"/><circle cx="2128.12" cy="790.88" r="6.94"/><circle cx="2129.11" cy="754.64" r="6.94"/><circle cx="2130.11" cy="765.08" r="6.94"/><circle cx="2131.11" cy="737.12" r="6.94"/><circle cx="2132.1" cy="783.61" r="6.94"/><circle cx="2133.09" cy="779.13" r="6.94"/><circle cx="2134.09" cy="804.4" r="6.94"/><circle cx="2135.09" cy="758.35" r="6.94"/><circle cx="2136.08" cy="785" r="6.94"/><circle cx="2137.07" cy="742.77" r="6.94"/><circle cx="2138.07" cy="775.33" r="6.94"/><circle cx="2139.07" cy="773.95" r="6.94"/><circle cx="2140.06" cy="766.15" r="6.94"/><circle cx="2141.05" cy="764.7" r="6.94"/><circle cx="2142.05" cy="749.09" r="6.94"/><circle cx="2143.05" cy="736.07" r="6.94"/><circle cx="2144.04" cy="723.49" r="6.94"/><circle cx="2145.03" cy="739.49" r="6.94"/><circle cx="2146.03" cy="722.87" r="6.94"/><circle cx="2147.03" cy="754.15" r="6.94"/><circle cx="2148.02" cy="717" r="6.94"/><circle cx="2149.01" cy="719.04" r="6.94"/><circle cx="2150.01" cy="716.5" r="6.94"/><circle cx="2151.01" cy="749.5" r="6.94"/><circle cx="2152" cy="730.04" r="6.94"/><circle cx="2152.99" cy="730.5" r="6.94"/><circle cx="2153.99" cy="741.12" r="6.94"/><circle cx="2154.99" cy="743.67" r="6.94"/><circle cx="2155.98" cy="728.88" r="6.94"/><circle cx="2156.97" cy="734.05" r="6.94"/><circle cx="2157.97" cy="718.12" r="6.94"/><circle cx="2158.97" cy="730.64" r="6.94"/><circle cx="2159.96" cy="709" r="6.94"/><circle cx="2160.95" cy="740.01" r="6.94"/><circle cx="2161.95" cy="710.47" r="6.94"/><circle cx="2162.95" cy="724.22" r="6.94"/><circle cx="2163.94" cy="737.9" r="6.94"/><circle cx="2164.93" cy="752.5" r="6.94"/><circle cx="2165.93" cy="742.95" r="6.94"/><circle cx="2166.93" cy="733.19" r="6.94"/><circle cx="2167.92" cy="724.54" r="6.94"/><circle cx="2168.91" cy="737.33" r="6.94"/><circle cx="2169.91" cy="738.61" r="6.94"/><circle cx="2170.91" cy="741.09" r="6.94"/><circle cx="2171.9" cy="737.02" r="6.94"/><circle cx="2172.89" cy="734.74" r="6.94"/><circle cx="2173.89" cy="738.5" r="6.94"/><circle cx="2174.89" cy="730.84" r="6.94"/><circle cx="2175.88" cy="722.77" r="6.94"/><circle cx="2176.88" cy="710.62" r="6.94"/><circle cx="2177.87" cy="710" r="6.94"/><circle cx="2178.86" cy="715.45" r="6.94"/><circle cx="2179.86" cy="732.38" r="6.94"/><circle cx="2180.86" cy="719.91" r="6.94"/><circle cx="2181.85" cy="733.1" r="6.94"/><circle cx="2182.84" cy="708.66" r="6.94"/><circle cx="2183.84" cy="720.13" r="6.94"/><circle cx="2184.84" cy="731.79" r="6.94"/><circle cx="2185.83" cy="713.57" r="6.94"/><circle cx="2186.82" cy="727.09" r="6.94"/><circle cx="2187.82" cy="711.28" r="6.94"/><circle cx="2188.82" cy="722.96" r="6.94"/><circle cx="2189.81" cy="727.19" r="6.94"/><circle cx="2190.8" cy="705.59" r="6.94"/><circle cx="2191.8" cy="703.99" r="6.94"/><circle cx="2192.8" cy="706.57" r="6.94"/><circle cx="2193.79" cy="720.92" r="6.94"/><circle cx="2194.78" cy="711.03" r="6.94"/><circle cx="2195.78" cy="711.43" r="6.94"/><circle cx="2196.78" cy="696" r="6.94"/><circle cx="2197.77" cy="708.05" r="6.94"/><circle cx="2198.76" cy="709.24" r="6.94"/><circle cx="2199.76" cy="697.38" r="6.94"/><circle cx="2200.76" cy="696.12" r="6.94"/><circle cx="2201.75" cy="702.08" r="6.94"/><circle cx="2202.74" cy="700.97" r="6.94"/><circle cx="2203.74" cy="694.41" r="6.94"/><circle cx="2204.74" cy="700.53" r="6.94"/><circle cx="2205.73" cy="694" r="6.94"/><circle cx="2206.72" cy="704.38" r="6.94"/><circle cx="2207.72" cy="707.09" r="6.94"/><circle cx="2208.72" cy="696.14" r="6.94"/><circle cx="2209.71" cy="697.72" r="6.94"/><circle cx="2210.7" cy="704.93" r="6.94"/><circle cx="2211.7" cy="698.75" r="6.94"/><circle cx="2212.7" cy="705.31" r="6.94"/><circle cx="2213.69" cy="699.21" r="6.94"/><circle cx="2214.68" cy="709.07" r="6.94"/><circle cx="2215.68" cy="710.44" r="6.94"/><circle cx="2216.68" cy="710.16" r="6.94"/><circle cx="2217.67" cy="709.66" r="6.94"/><circle cx="2218.66" cy="746.5" r="6.94"/><circle cx="2219.66" cy="735" r="6.94"/><circle cx="2220.66" cy="730" r="6.94"/><circle cx="2221.65" cy="745" r="6.94"/><circle cx="2222.64" cy="759.5" r="6.94"/><circle cx="2223.64" cy="797.6" r="6.94"/><circle cx="2224.64" cy="781.5" r="6.94"/><circle cx="2225.63" cy="689" r="6.94"/><circle cx="2226.62" cy="692.51" r="6.94"/><circle cx="2227.62" cy="691.76" r="6.94"/><circle cx="2228.61" cy="685.94" r="6.94"/><circle cx="2229.61" cy="684.69" r="6.94"/><circle cx="2230.61" cy="680.5" r="6.94"/><circle cx="2231.6" cy="692" r="6.94"/><circle cx="2232.59" cy="687.88" r="6.94"/><circle cx="2233.59" cy="695.53" r="6.94"/><circle cx="2234.59" cy="693.3" r="6.94"/><circle cx="2235.58" cy="698.84" r="6.94"/><circle cx="2236.57" cy="700.72" r="6.94"/><circle cx="2237.57" cy="704.69" r="6.94"/><circle cx="2238.57" cy="702.89" r="6.94"/><circle cx="2239.56" cy="705.83" r="6.94"/><circle cx="2240.55" cy="706.44" r="6.94"/><circle cx="2241.55" cy="709.13" r="6.94"/><circle cx="2242.55" cy="708.07" r="6.94"/><circle cx="2243.54" cy="707.61" r="6.94"/><circle cx="2244.53" cy="709.65" r="6.94"/><circle cx="2245.53" cy="709.23" r="6.94"/><circle cx="2246.53" cy="706.5" r="6.94"/><circle cx="2247.52" cy="704.47" r="6.94"/><circle cx="2248.51" cy="708.62" r="6.94"/><circle cx="2249.51" cy="706.75" r="6.94"/><circle cx="2250.51" cy="709.98" r="6.94"/><circle cx="2251.5" cy="709.08" r="6.94"/><circle cx="2252.49" cy="705.28" r="6.94"/><circle cx="2253.49" cy="704.95" r="6.94"/><circle cx="2254.49" cy="708.77" r="6.94"/><circle cx="2255.48" cy="705.25" r="6.94"/><circle cx="2256.47" cy="704.71" r="6.94"/><circle cx="2257.47" cy="701.91" r="6.94"/><circle cx="2258.47" cy="703.15" r="6.94"/><circle cx="2259.46" cy="708" r="6.94"/><circle cx="2260.45" cy="708" r="6.94"/><circle cx="2261.45" cy="707.31" r="6.94"/><circle cx="2262.45" cy="703.4" r="6.94"/><circle cx="2263.44" cy="706.15" r="6.94"/><circle cx="2264.43" cy="703.46" r="6.94"/><circle cx="2265.43" cy="708.64" r="6.94"/><circle cx="2266.43" cy="708.16" r="6.94"/><circle cx="2267.42" cy="705.02" r="6.94"/><circle cx="2268.41" cy="707.24" r="6.94"/><circle cx="2269.41" cy="706.37" r="6.94"/><circle cx="2270.41" cy="707.4" r="6.94"/><circle cx="2271.4" cy="706.71" r="6.94"/><circle cx="2272.39" cy="703.44" r="6.94"/><circle cx="2273.39" cy="709.58" r="6.94"/><circle cx="2274.39" cy="702.96" r="6.94"/><circle cx="2275.38" cy="704.94" r="6.94"/><circle cx="2276.38" cy="706.48" r="6.94"/><circle cx="2277.37" cy="709.49" r="6.94"/><circle cx="2278.36" cy="707.06" r="6.94"/><circle cx="2279.36" cy="703.94" r="6.94"/><circle cx="2280.36" cy="704.46" r="6.94"/><circle cx="2281.35" cy="707.93" r="6.94"/><circle cx="2282.34" cy="708.79" r="6.94"/><circle cx="2283.34" cy="706.75" r="6.94"/><circle cx="2284.34" cy="704.64" r="6.94"/><circle cx="2285.33" cy="709.94" r="6.94"/><circle cx="2286.32" cy="709.34" r="6.94"/><circle cx="2287.32" cy="704" r="6.94"/><circle cx="2288.32" cy="709.74" r="6.94"/><circle cx="2289.31" cy="706.85" r="6.94"/><circle cx="2290.3" cy="710.26" r="6.94"/><circle cx="2291.3" cy="704" r="6.94"/><circle cx="2292.3" cy="706.15" r="6.94"/><circle cx="2293.29" cy="708.25" r="6.94"/><circle cx="2294.28" cy="709.86" r="6.94"/><circle cx="2295.28" cy="706.64" r="6.94"/><circle cx="2296.28" cy="707.99" r="6.94"/><circle cx="2297.27" cy="706.7" r="6.94"/><circle cx="2298.26" cy="704.3" r="6.94"/><circle cx="2299.26" cy="708.32" r="6.94"/><circle cx="2300.26" cy="709.31" r="6.94"/><circle cx="2301.25" cy="707.91" r="6.94"/><circle cx="2302.24" cy="706.59" r="6.94"/><circle cx="2303.24" cy="705.35" r="6.94"/><circle cx="2304.24" cy="706.31" r="6.94"/><circle cx="2305.23" cy="703.01" r="6.94"/><circle cx="2306.22" cy="706.18" r="6.94"/><circle cx="2307.22" cy="703.91" r="6.94"/><circle cx="2308.22" cy="702.81" r="6.94"/><circle cx="2309.21" cy="703.85" r="6.94"/><circle cx="2310.2" cy="702.09" r="6.94"/><circle cx="2311.2" cy="702.26" r="6.94"/><circle cx="2312.2" cy="703.35" r="6.94"/><circle cx="2313.19" cy="700.37" r="6.94"/><circle cx="2314.18" cy="702.81" r="6.94"/><circle cx="2315.18" cy="702.77" r="6.94"/><circle cx="2316.18" cy="701.06" r="6.94"/><circle cx="2317.17" cy="698.71" r="6.94"/><circle cx="2318.16" cy="702.12" r="6.94"/><circle cx="2319.16" cy="699.86" r="6.94"/><circle cx="2320.15" cy="700.35" r="6.94"/><circle cx="2321.15" cy="700.43" r="6.94"/><circle cx="2322.14" cy="697.96" r="6.94"/><circle cx="2323.14" cy="699.8" r="6.94"/><circle cx="2324.14" cy="696.31" r="6.94"/><circle cx="2325.13" cy="696.82" r="6.94"/><circle cx="2326.12" cy="695.07" r="6.94"/><circle cx="2327.12" cy="694.67" r="6.94"/><circle cx="2328.11" cy="693.65" r="6.94"/><circle cx="2329.11" cy="696.31" r="6.94"/><circle cx="2330.11" cy="693.86" r="6.94"/><circle cx="2331.1" cy="692.45" r="6.94"/><circle cx="2332.09" cy="695.06" r="6.94"/><circle cx="2333.09" cy="690.92" r="6.94"/><circle cx="2334.09" cy="692.79" r="6.94"/><circle cx="2335.08" cy="693.15" r="6.94"/><circle cx="2336.07" cy="691.78" r="6.94"/><circle cx="2337.07" cy="690.72" r="6.94"/><circle cx="2338.07" cy="690.7" r="6.94"/><circle cx="2339.06" cy="690.99" r="6.94"/><circle cx="2340.05" cy="690.06" r="6.94"/><circle cx="2341.05" cy="689.95" r="6.94"/><circle cx="2342.05" cy="689.31" r="6.94"/><circle cx="2343.04" cy="689.58" r="6.94"/><circle cx="2344.03" cy="691.03" r="6.94"/><circle cx="2345.03" cy="690.98" r="6.94"/><circle cx="2346.03" cy="689.11" r="6.94"/><circle cx="2347.02" cy="691.15" r="6.94"/><circle cx="2348.01" cy="688.9" r="6.94"/><circle cx="2349.01" cy="690.05" r="6.94"/><circle cx="2350.01" cy="689.75" r="6.94"/>
</g></g>
</g>
</svg>
</body>
</html>
